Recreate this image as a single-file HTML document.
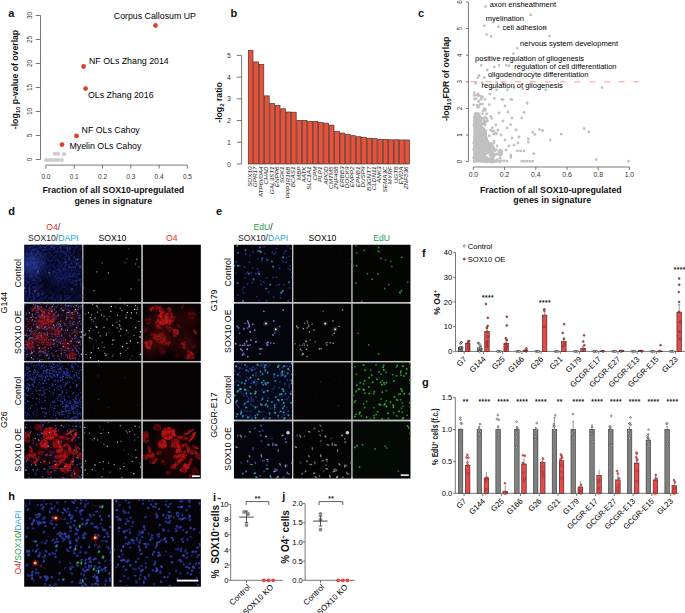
<!DOCTYPE html><html><head><meta charset="utf-8"><style>html,body{margin:0;padding:0;background:#fff;}svg{display:block;}</style></head><body><svg width="685" height="613" viewBox="0 0 685 613" font-family='"Liberation Sans", sans-serif'><defs><filter id="bl1" x="-30%" y="-30%" width="160%" height="160%"><feGaussianBlur stdDeviation="0.9"/></filter><filter id="bl05" x="-30%" y="-30%" width="160%" height="160%"><feGaussianBlur stdDeviation="0.5"/></filter><filter id="bl6" x="-80%" y="-80%" width="260%" height="260%"><feGaussianBlur stdDeviation="6"/></filter><filter id="bl3" x="-80%" y="-80%" width="260%" height="260%"><feGaussianBlur stdDeviation="2"/></filter><filter id="mo1" color-interpolation-filters="sRGB" x="-10%" y="-10%" width="120%" height="120%"><feTurbulence type="fractalNoise" baseFrequency="0.12" numOctaves="2" seed="54" result="dn"/><feDisplacementMap in="SourceGraphic" in2="dn" scale="7" xChannelSelector="R" yChannelSelector="G" result="ds"/><feTurbulence type="fractalNoise" baseFrequency="0.35" numOctaves="2" seed="4" result="n"/><feColorMatrix in="n" type="matrix" values="0 0 0 0 0  0 0 0 0 0  0 0 0 0 0  2.0 0 0 0 -0.3" result="a"/><feComposite in="ds" in2="a" operator="in" result="m"/><feGaussianBlur in="m" stdDeviation="0.6"/></filter><filter id="mo2" color-interpolation-filters="sRGB" x="-10%" y="-10%" width="120%" height="120%"><feTurbulence type="fractalNoise" baseFrequency="0.12" numOctaves="2" seed="54" result="dn"/><feDisplacementMap in="SourceGraphic" in2="dn" scale="7" xChannelSelector="R" yChannelSelector="G" result="ds"/><feTurbulence type="fractalNoise" baseFrequency="0.35" numOctaves="2" seed="4" result="n"/><feColorMatrix in="n" type="matrix" values="0 0 0 0 0  0 0 0 0 0  0 0 0 0 0  2.0 0 0 0 -0.3" result="a"/><feComposite in="ds" in2="a" operator="in" result="m"/><feGaussianBlur in="m" stdDeviation="0.6"/></filter><filter id="mo3" color-interpolation-filters="sRGB" x="-10%" y="-10%" width="120%" height="120%"><feTurbulence type="fractalNoise" baseFrequency="0.12" numOctaves="2" seed="67" result="dn"/><feDisplacementMap in="SourceGraphic" in2="dn" scale="3" xChannelSelector="R" yChannelSelector="G" result="ds"/><feTurbulence type="fractalNoise" baseFrequency="0.3" numOctaves="2" seed="17" result="n"/><feColorMatrix in="n" type="matrix" values="0 0 0 0 0  0 0 0 0 0  0 0 0 0 0  1.8 0 0 0 -0.05" result="a"/><feComposite in="ds" in2="a" operator="in" result="m"/><feGaussianBlur in="m" stdDeviation="0.5"/></filter><filter id="mo4" color-interpolation-filters="sRGB" x="-10%" y="-10%" width="120%" height="120%"><feTurbulence type="fractalNoise" baseFrequency="0.12" numOctaves="2" seed="67" result="dn"/><feDisplacementMap in="SourceGraphic" in2="dn" scale="5" xChannelSelector="R" yChannelSelector="G" result="ds"/><feTurbulence type="fractalNoise" baseFrequency="0.3" numOctaves="2" seed="17" result="n"/><feColorMatrix in="n" type="matrix" values="0 0 0 0 0  0 0 0 0 0  0 0 0 0 0  1.8 0 0 0 -0.05" result="a"/><feComposite in="ds" in2="a" operator="in" result="m"/><feGaussianBlur in="m" stdDeviation="0.5"/></filter><filter id="sp00" color-interpolation-filters="sRGB" x="0" y="0" width="100%" height="100%"><feTurbulence type="fractalNoise" baseFrequency="0.45" numOctaves="1" seed="9" result="n"/><feColorMatrix in="n" type="matrix" values="0 0 0 0 0.12  0 0 0 0 0.16  0 0 0 0 0.5  3.0 0 0 0 -1.1" result="sp"/><feTurbulence type="fractalNoise" baseFrequency="0.05" numOctaves="2" seed="3" result="m"/><feColorMatrix in="m" type="matrix" values="0 0 0 0 0  0 0 0 0 0  0 0 0 0 0  2.0 0 0 0 -0.3" result="ma"/><feComposite in="sp" in2="ma" operator="in"/></filter><filter id="sp10" color-interpolation-filters="sRGB" x="0" y="0" width="100%" height="100%"><feTurbulence type="fractalNoise" baseFrequency="0.5" numOctaves="1" seed="19" result="n"/><feColorMatrix in="n" type="matrix" values="0 0 0 0 0.24  0 0 0 0 0.28  0 0 0 0 0.82  3.0 0 0 0 -1.25" result="sp"/><feTurbulence type="fractalNoise" baseFrequency="0.05" numOctaves="2" seed="5" result="m"/><feColorMatrix in="m" type="matrix" values="0 0 0 0 0  0 0 0 0 0  0 0 0 0 0  2.0 0 0 0 -0.3" result="ma"/><feComposite in="sp" in2="ma" operator="in"/></filter><filter id="sp20" color-interpolation-filters="sRGB" x="0" y="0" width="100%" height="100%"><feTurbulence type="fractalNoise" baseFrequency="0.45" numOctaves="1" seed="29" result="n"/><feColorMatrix in="n" type="matrix" values="0 0 0 0 0.2  0 0 0 0 0.27  0 0 0 0 0.85  3.4 0 0 0 -1.45" result="sp"/><feTurbulence type="fractalNoise" baseFrequency="0.05" numOctaves="2" seed="8" result="m"/><feColorMatrix in="m" type="matrix" values="0 0 0 0 0  0 0 0 0 0  0 0 0 0 0  2.4 0 0 0 -0.45" result="ma"/><feComposite in="sp" in2="ma" operator="in"/></filter><filter id="sp30" color-interpolation-filters="sRGB" x="0" y="0" width="100%" height="100%"><feTurbulence type="fractalNoise" baseFrequency="0.6" numOctaves="1" seed="39" result="n"/><feColorMatrix in="n" type="matrix" values="0 0 0 0 0.2  0 0 0 0 0.24  0 0 0 0 0.7  3.0 0 0 0 -1.6" result="sp"/><feTurbulence type="fractalNoise" baseFrequency="0.05" numOctaves="2" seed="12" result="m"/><feColorMatrix in="m" type="matrix" values="0 0 0 0 0  0 0 0 0 0  0 0 0 0 0  2.0 0 0 0 -0.5" result="ma"/><feComposite in="sp" in2="ma" operator="in"/></filter><clipPath id="cd00"><rect x="24.1" y="244.5" width="58.3" height="57.55"/></clipPath><clipPath id="cd01"><rect x="83.2" y="244.5" width="58.3" height="57.55"/></clipPath><clipPath id="cd02"><rect x="142.6" y="244.5" width="58.3" height="57.55"/></clipPath><clipPath id="cd10"><rect x="24.1" y="303.4" width="58.3" height="57.55"/></clipPath><clipPath id="cd11"><rect x="83.2" y="303.4" width="58.3" height="57.55"/></clipPath><clipPath id="cd12"><rect x="142.6" y="303.4" width="58.3" height="57.55"/></clipPath><clipPath id="cd20"><rect x="24.1" y="362.3" width="58.3" height="57.55"/></clipPath><clipPath id="cd21"><rect x="83.2" y="362.3" width="58.3" height="57.55"/></clipPath><clipPath id="cd22"><rect x="142.6" y="362.3" width="58.3" height="57.55"/></clipPath><clipPath id="cd30"><rect x="24.1" y="421.2" width="58.3" height="57.55"/></clipPath><clipPath id="cd31"><rect x="83.2" y="421.2" width="58.3" height="57.55"/></clipPath><clipPath id="cd32"><rect x="142.6" y="421.2" width="58.3" height="57.55"/></clipPath><g id="o4h" fill="#b01214" opacity="0.32" filter="url(#bl6)"><ellipse cx="20.4" cy="17.26" rx="14" ry="12"/><ellipse cx="17.49" cy="37.41" rx="14" ry="10"/><ellipse cx="43.72" cy="40.28" rx="10" ry="12"/><ellipse cx="46.64" cy="14.39" rx="9" ry="9"/><ellipse cx="5.83" cy="46.04" rx="6" ry="8"/></g><g fill="#e01a1e" filter="url(#mo1)" opacity="0.88" id="o4a"><ellipse cx="11.66" cy="4.6" rx="6" ry="2.5" transform="rotate(-10 11.66 4.6)" opacity="0.85"/><ellipse cx="18.66" cy="8.06" rx="2.5" ry="5.5" transform="rotate(10 18.66 8.06)" opacity="0.85"/><ellipse cx="15.16" cy="14.96" rx="2" ry="5" transform="rotate(0 15.16 14.96)" opacity="0.7"/><ellipse cx="8.16" cy="6.91" rx="2" ry="2" transform="rotate(0 8.16 6.91)" opacity="0.7"/><ellipse cx="23.32" cy="16.11" rx="7" ry="6" transform="rotate(0 23.32 16.11)" opacity="0.95"/><ellipse cx="29.15" cy="11.51" rx="4" ry="3" transform="rotate(0 29.15 11.51)" opacity="0.6"/><ellipse cx="27.4" cy="5.75" rx="3" ry="3" transform="rotate(0 27.4 5.75)" opacity="0.7"/><ellipse cx="16.32" cy="21.87" rx="4" ry="4" transform="rotate(0 16.32 21.87)" opacity="0.6"/><ellipse cx="17.49" cy="34.53" rx="7" ry="5" transform="rotate(0 17.49 34.53)" opacity="0.6"/><ellipse cx="23.32" cy="39.13" rx="6" ry="4" transform="rotate(0 23.32 39.13)" opacity="0.6"/><ellipse cx="11.66" cy="31.65" rx="4" ry="3" transform="rotate(0 11.66 31.65)" opacity="0.5"/><ellipse cx="33.23" cy="29.93" rx="4" ry="3.5" transform="rotate(0 33.23 29.93)" opacity="0.85"/><ellipse cx="5.83" cy="41.44" rx="3.5" ry="5" transform="rotate(0 5.83 41.44)" opacity="0.85"/><ellipse cx="40.81" cy="39.13" rx="2.5" ry="3" transform="rotate(0 40.81 39.13)" opacity="0.6"/><ellipse cx="41.98" cy="44.89" rx="2" ry="3" transform="rotate(0 41.98 44.89)" opacity="0.5"/><ellipse cx="46.64" cy="51.8" rx="4" ry="4" transform="rotate(0 46.64 51.8)" opacity="0.75"/><ellipse cx="49.55" cy="11.51" rx="3" ry="3" transform="rotate(0 49.55 11.51)" opacity="0.35"/><ellipse cx="5.83" cy="17.26" rx="3" ry="4" transform="rotate(0 5.83 17.26)" opacity="0.35"/><ellipse cx="36.15" cy="21.87" rx="2" ry="2" transform="rotate(0 36.15 21.87)" opacity="0.5"/><ellipse cx="51.3" cy="27.62" rx="1.5" ry="1.5" transform="rotate(0 51.3 27.62)" opacity="0.6"/><ellipse cx="38.48" cy="3.45" rx="2" ry="2" transform="rotate(0 38.48 3.45)" opacity="0.5"/><ellipse cx="2.92" cy="25.9" rx="2" ry="3" transform="rotate(0 2.92 25.9)" opacity="0.4"/><ellipse cx="34.98" cy="51.8" rx="3" ry="2" transform="rotate(0 34.98 51.8)" opacity="0.3"/><ellipse cx="20.4" cy="48.92" rx="3" ry="3" transform="rotate(0 20.4 48.92)" opacity="0.3"/><ellipse cx="52.47" cy="43.16" rx="2" ry="3" transform="rotate(0 52.47 43.16)" opacity="0.35"/><ellipse cx="26.23" cy="25.9" rx="3" ry="3" transform="rotate(0 26.23 25.9)" opacity="0.5"/></g><g fill="#d81618" filter="url(#mo3)" opacity="0.95" id="o4b"><ellipse cx="26" cy="12.32" rx="7.26" ry="6.6" transform="rotate(0 26 12.32)" opacity="0.9"/><ellipse cx="20.06" cy="23.02" rx="4.62" ry="5.06" transform="rotate(0 20.06 23.02)" opacity="0.8"/><ellipse cx="32.94" cy="22.16" rx="4.62" ry="4.62" transform="rotate(0 32.94 22.16)" opacity="0.6"/><ellipse cx="2.74" cy="15.25" rx="3.3" ry="5.5" transform="rotate(0 2.74 15.25)" opacity="0.6"/><ellipse cx="14.57" cy="6.33" rx="4.4" ry="3.85" transform="rotate(0 14.57 6.33)" opacity="0.4"/><ellipse cx="46.06" cy="10.93" rx="6.6" ry="1.32" transform="rotate(-30 46.06 10.93)" opacity="0.95"/><ellipse cx="49.55" cy="15.54" rx="6.05" ry="1.87" transform="rotate(-55 49.55 15.54)" opacity="0.95"/><ellipse cx="39.64" cy="16.69" rx="5.5" ry="1.98" transform="rotate(10 39.64 16.69)" opacity="0.7"/><ellipse cx="36.15" cy="29.93" rx="3.3" ry="2.75" transform="rotate(0 36.15 29.93)" opacity="0.85"/><ellipse cx="50.14" cy="31.08" rx="3.3" ry="2.75" transform="rotate(0 50.14 31.08)" opacity="0.75"/><ellipse cx="38.48" cy="36.83" rx="3.85" ry="3.3" transform="rotate(0 38.48 36.83)" opacity="0.75"/><ellipse cx="44.31" cy="44.89" rx="3.85" ry="3.3" transform="rotate(0 44.31 44.89)" opacity="0.85"/><ellipse cx="8.74" cy="33.95" rx="3.85" ry="3.08" transform="rotate(0 8.74 33.95)" opacity="0.75"/><ellipse cx="9.68" cy="40.86" rx="3.3" ry="2.2" transform="rotate(0 9.68 40.86)" opacity="0.5"/><ellipse cx="25.65" cy="51.8" rx="2.75" ry="2.2" transform="rotate(0 25.65 51.8)" opacity="0.4"/><ellipse cx="52.47" cy="49.49" rx="3.3" ry="3.3" transform="rotate(0 52.47 49.49)" opacity="0.35"/><ellipse cx="41.98" cy="33.38" rx="2.2" ry="4.4" transform="rotate(0 41.98 33.38)" opacity="0.6"/><ellipse cx="32.06" cy="14.39" rx="2.2" ry="2.2" transform="rotate(0 32.06 14.39)" opacity="0.5"/><ellipse cx="36.15" cy="25.9" rx="4.4" ry="1.65" transform="rotate(60 36.15 25.9)" opacity="0.8"/><ellipse cx="40.81" cy="24.17" rx="3.85" ry="1.43" transform="rotate(-30 40.81 24.17)" opacity="0.7"/><ellipse cx="45.47" cy="27.62" rx="4.4" ry="1.76" transform="rotate(80 45.47 27.62)" opacity="0.75"/><ellipse cx="52.47" cy="25.9" rx="3.3" ry="1.65" transform="rotate(40 52.47 25.9)" opacity="0.7"/><ellipse cx="34.98" cy="41.44" rx="4.4" ry="1.98" transform="rotate(-50 34.98 41.44)" opacity="0.8"/><ellipse cx="40.81" cy="48.92" rx="3.85" ry="2.2" transform="rotate(20 40.81 48.92)" opacity="0.7"/><ellipse cx="47.81" cy="40.28" rx="3.3" ry="1.76" transform="rotate(-70 47.81 40.28)" opacity="0.7"/><ellipse cx="55.38" cy="34.53" rx="2.75" ry="3.3" transform="rotate(0 55.38 34.53)" opacity="0.6"/><ellipse cx="33.81" cy="35.68" rx="3.3" ry="2.2" transform="rotate(0 33.81 35.68)" opacity="0.7"/><ellipse cx="7" cy="28.77" rx="4.4" ry="1.65" transform="rotate(70 7 28.77)" opacity="0.6"/><ellipse cx="12.83" cy="39.13" rx="3.3" ry="1.65" transform="rotate(-40 12.83 39.13)" opacity="0.55"/><ellipse cx="16.32" cy="31.65" rx="2.75" ry="2.2" transform="rotate(0 16.32 31.65)" opacity="0.5"/><ellipse cx="2.92" cy="35.68" rx="2.75" ry="3.3" transform="rotate(0 2.92 35.68)" opacity="0.55"/><ellipse cx="20.4" cy="41.44" rx="2.75" ry="1.65" transform="rotate(30 20.4 41.44)" opacity="0.5"/><ellipse cx="30.32" cy="46.04" rx="3.3" ry="1.98" transform="rotate(-20 30.32 46.04)" opacity="0.6"/><ellipse cx="49.55" cy="54.67" rx="3.3" ry="2.2" transform="rotate(0 49.55 54.67)" opacity="0.5"/></g><g id="o4hb" fill="#a01012" opacity="0.22" filter="url(#bl6)"><ellipse cx="29" cy="25" rx="20" ry="16"/><ellipse cx="40" cy="45" rx="12" ry="9"/></g><clipPath id="ce00"><rect x="233.8" y="244.5" width="58.3" height="57.55"/></clipPath><clipPath id="ce01"><rect x="293.2" y="244.5" width="58.3" height="57.55"/></clipPath><clipPath id="ce02"><rect x="352.4" y="244.5" width="58.3" height="57.55"/></clipPath><clipPath id="ce10"><rect x="233.8" y="303.4" width="58.3" height="57.55"/></clipPath><clipPath id="ce11"><rect x="293.2" y="303.4" width="58.3" height="57.55"/></clipPath><clipPath id="ce12"><rect x="352.4" y="303.4" width="58.3" height="57.55"/></clipPath><clipPath id="ce20"><rect x="233.8" y="362.3" width="58.3" height="57.55"/></clipPath><clipPath id="ce21"><rect x="293.2" y="362.3" width="58.3" height="57.55"/></clipPath><clipPath id="ce22"><rect x="352.4" y="362.3" width="58.3" height="57.55"/></clipPath><clipPath id="ce30"><rect x="233.8" y="421.2" width="58.3" height="57.55"/></clipPath><clipPath id="ce31"><rect x="293.2" y="421.2" width="58.3" height="57.55"/></clipPath><clipPath id="ce32"><rect x="352.4" y="421.2" width="58.3" height="57.55"/></clipPath><clipPath id="ch1"><rect x="24.2" y="499.2" width="87.4" height="87.5"/></clipPath><clipPath id="ch2"><rect x="113.5" y="499.2" width="87.4" height="87.5"/></clipPath></defs><text x="8.2" y="17" font-size="11" font-weight="bold" fill="#111">a</text><text x="230.6" y="16.8" font-size="11" font-weight="bold" fill="#111">b</text><text x="418" y="16.8" font-size="11" font-weight="bold" fill="#111">c</text><text x="8.2" y="214.5" font-size="11" font-weight="bold" fill="#111">d</text><text x="216" y="214.5" font-size="11" font-weight="bold" fill="#111">e</text><text x="422" y="257.4" font-size="11" font-weight="bold" fill="#111">f</text><text x="422" y="385.5" font-size="11" font-weight="bold" fill="#111">g</text><text x="8.2" y="500.4" font-size="11" font-weight="bold" fill="#111">h</text><text x="213.1" y="500.6" font-size="11" font-weight="bold" fill="#111">i</text><text x="282.2" y="500.3" font-size="11" font-weight="bold" fill="#111">j</text><line x1="40.5" y1="15.5" x2="40.5" y2="159.5" stroke="#555" stroke-width="0.8" /><line x1="35.8" y1="159.5" x2="40.5" y2="159.5" stroke="#555" stroke-width="0.8" /><text transform="translate(32.4,159.5) rotate(-90)" font-size="6.5" text-anchor="middle" fill="#333">0</text><line x1="35.8" y1="135.5" x2="40.5" y2="135.5" stroke="#555" stroke-width="0.8" /><text transform="translate(32.4,135.5) rotate(-90)" font-size="6.5" text-anchor="middle" fill="#333">5</text><line x1="35.8" y1="111.5" x2="40.5" y2="111.5" stroke="#555" stroke-width="0.8" /><text transform="translate(32.4,111.5) rotate(-90)" font-size="6.5" text-anchor="middle" fill="#333">10</text><line x1="35.8" y1="87.5" x2="40.5" y2="87.5" stroke="#555" stroke-width="0.8" /><text transform="translate(32.4,87.5) rotate(-90)" font-size="6.5" text-anchor="middle" fill="#333">15</text><line x1="35.8" y1="63.5" x2="40.5" y2="63.5" stroke="#555" stroke-width="0.8" /><text transform="translate(32.4,63.5) rotate(-90)" font-size="6.5" text-anchor="middle" fill="#333">20</text><line x1="35.8" y1="39.5" x2="40.5" y2="39.5" stroke="#555" stroke-width="0.8" /><text transform="translate(32.4,39.5) rotate(-90)" font-size="6.5" text-anchor="middle" fill="#333">25</text><line x1="35.8" y1="15.5" x2="40.5" y2="15.5" stroke="#555" stroke-width="0.8" /><text transform="translate(32.4,15.5) rotate(-90)" font-size="6.5" text-anchor="middle" fill="#333">30</text><line x1="45.9" y1="165.1" x2="187.4" y2="165.1" stroke="#555" stroke-width="0.8" /><line x1="45.9" y1="165.1" x2="45.9" y2="168.6" stroke="#555" stroke-width="0.8" /><text x="45.9" y="179" font-size="6.5" text-anchor="middle" fill="#333">0.0</text><line x1="74.2" y1="165.1" x2="74.2" y2="168.6" stroke="#555" stroke-width="0.8" /><text x="74.2" y="179" font-size="6.5" text-anchor="middle" fill="#333">0.1</text><line x1="102.5" y1="165.1" x2="102.5" y2="168.6" stroke="#555" stroke-width="0.8" /><text x="102.5" y="179" font-size="6.5" text-anchor="middle" fill="#333">0.2</text><line x1="130.8" y1="165.1" x2="130.8" y2="168.6" stroke="#555" stroke-width="0.8" /><text x="130.8" y="179" font-size="6.5" text-anchor="middle" fill="#333">0.3</text><line x1="159.1" y1="165.1" x2="159.1" y2="168.6" stroke="#555" stroke-width="0.8" /><text x="159.1" y="179" font-size="6.5" text-anchor="middle" fill="#333">0.4</text><line x1="187.4" y1="165.1" x2="187.4" y2="168.6" stroke="#555" stroke-width="0.8" /><text x="187.4" y="179" font-size="6.5" text-anchor="middle" fill="#333">0.5</text><circle cx="46.3" cy="160" r="2.1" fill="#cdcdcd"/><circle cx="49.2" cy="160" r="2.1" fill="#cdcdcd"/><circle cx="52.2" cy="160" r="2.1" fill="#cdcdcd"/><circle cx="55.2" cy="160" r="2.1" fill="#cdcdcd"/><circle cx="58.1" cy="160" r="2.1" fill="#cdcdcd"/><circle cx="61.8" cy="160" r="2.1" fill="#cdcdcd"/><circle cx="54.8" cy="153.8" r="2.1" fill="#cdcdcd"/><circle cx="58.1" cy="153.8" r="2.1" fill="#cdcdcd"/><circle cx="64" cy="154.2" r="2.1" fill="#cdcdcd"/><circle cx="155.5" cy="25.5" r="2.4" fill="#d8432e"/><circle cx="83.6" cy="66.5" r="2.4" fill="#d8432e"/><circle cx="85.6" cy="88.6" r="2.4" fill="#d8432e"/><circle cx="76.5" cy="135.9" r="2.4" fill="#d8432e"/><circle cx="62" cy="144.6" r="2.4" fill="#d8432e"/><text x="113.8" y="18.5" font-size="8.8">Corpus Callosum UP</text><text x="89" y="63.8" font-size="8.8">NF OLs Zhang 2014</text><text x="88" y="98" font-size="8.8">OLs Zhang 2016</text><text x="81.6" y="133.3" font-size="8.8">NF OLs Cahoy</text><text x="69.5" y="149" font-size="8.8">Myelin OLs Cahoy</text><text transform="translate(17.8,79.5) rotate(-90)" font-size="8.7" font-weight="bold" text-anchor="middle" fill="#111">-log<tspan font-size="6" dy="2">10</tspan><tspan dy="-2"> p-value of overlap</tspan></text><text x="113.3" y="193" font-size="8.8" text-anchor="middle" font-weight="bold" fill="#111">Fraction of all SOX10-upregulated</text><text x="113.3" y="203.5" font-size="8.8" text-anchor="middle" font-weight="bold" fill="#111">genes in signature</text><line x1="241.6" y1="55.4" x2="241.6" y2="164" stroke="#555" stroke-width="0.8" /><line x1="236.8" y1="164" x2="241.6" y2="164" stroke="#555" stroke-width="0.8" /><text x="231" y="166.5" font-size="7" text-anchor="end" fill="#333">0</text><line x1="236.8" y1="142.28" x2="241.6" y2="142.28" stroke="#555" stroke-width="0.8" /><text x="231" y="144.78" font-size="7" text-anchor="end" fill="#333">1</text><line x1="236.8" y1="120.56" x2="241.6" y2="120.56" stroke="#555" stroke-width="0.8" /><text x="231" y="123.06" font-size="7" text-anchor="end" fill="#333">2</text><line x1="236.8" y1="98.84" x2="241.6" y2="98.84" stroke="#555" stroke-width="0.8" /><text x="231" y="101.34" font-size="7" text-anchor="end" fill="#333">3</text><line x1="236.8" y1="77.12" x2="241.6" y2="77.12" stroke="#555" stroke-width="0.8" /><text x="231" y="79.62" font-size="7" text-anchor="end" fill="#333">4</text><line x1="236.8" y1="55.4" x2="241.6" y2="55.4" stroke="#555" stroke-width="0.8" /><text x="231" y="57.9" font-size="7" text-anchor="end" fill="#333">5</text><rect x="248.3" y="50.31" width="4.7" height="113.69" fill="#e8523a" stroke="#4a3028" stroke-width="0.7" /><text transform="translate(251.95,166.4) rotate(-90) scale(1.22,1)" font-size="5.2" text-anchor="end" font-style="italic" fill="#1a1a1a">SOX10</text><rect x="253.7" y="61.92" width="4.7" height="102.08" fill="#e8523a" stroke="#4a3028" stroke-width="0.7" /><text transform="translate(257.35,166.4) rotate(-90) scale(1.22,1)" font-size="5.2" text-anchor="end" font-style="italic" fill="#1a1a1a">GPR17</text><rect x="259.09" y="64.5" width="4.7" height="99.5" fill="#e8523a" stroke="#4a3028" stroke-width="0.7" /><text transform="translate(262.74,166.4) rotate(-90) scale(1.22,1)" font-size="5.2" text-anchor="end" font-style="italic" fill="#1a1a1a">ATP6V0A4</text><rect x="264.49" y="95.89" width="4.7" height="68.11" fill="#e8523a" stroke="#4a3028" stroke-width="0.7" /><text transform="translate(268.14,166.4) rotate(-90) scale(1.22,1)" font-size="5.2" text-anchor="end" font-style="italic" fill="#1a1a1a">CHAD</text><rect x="269.89" y="103.63" width="4.7" height="60.37" fill="#e8523a" stroke="#4a3028" stroke-width="0.7" /><text transform="translate(273.54,166.4) rotate(-90) scale(1.22,1)" font-size="5.2" text-anchor="end" font-style="italic" fill="#1a1a1a">GAL3ST1</text><rect x="275.29" y="105.35" width="4.7" height="58.65" fill="#e8523a" stroke="#4a3028" stroke-width="0.7" /><text transform="translate(278.94,166.4) rotate(-90) scale(1.22,1)" font-size="5.2" text-anchor="end" font-style="italic" fill="#1a1a1a">ENPP6</text><rect x="280.68" y="108.79" width="4.7" height="55.21" fill="#e8523a" stroke="#4a3028" stroke-width="0.7" /><text transform="translate(284.33,166.4) rotate(-90) scale(1.22,1)" font-size="5.2" text-anchor="end" font-style="italic" fill="#1a1a1a">SGK1</text><rect x="286.08" y="112.01" width="4.7" height="51.99" fill="#e8523a" stroke="#4a3028" stroke-width="0.7" /><text transform="translate(289.73,166.4) rotate(-90) scale(1.22,1)" font-size="5.2" text-anchor="end" font-style="italic" fill="#1a1a1a">PPP1R16B</text><rect x="291.48" y="112.23" width="4.7" height="51.77" fill="#e8523a" stroke="#4a3028" stroke-width="0.7" /><text transform="translate(295.13,166.4) rotate(-90) scale(1.22,1)" font-size="5.2" text-anchor="end" font-style="italic" fill="#1a1a1a">BCAS1</text><rect x="296.87" y="120.4" width="4.7" height="43.6" fill="#e8523a" stroke="#4a3028" stroke-width="0.7" /><text transform="translate(300.52,166.4) rotate(-90) scale(1.22,1)" font-size="5.2" text-anchor="end" font-style="italic" fill="#1a1a1a">MBP</text><rect x="302.27" y="120.4" width="4.7" height="43.6" fill="#e8523a" stroke="#4a3028" stroke-width="0.7" /><text transform="translate(305.92,166.4) rotate(-90) scale(1.22,1)" font-size="5.2" text-anchor="end" font-style="italic" fill="#1a1a1a">AATK</text><rect x="307.67" y="121.47" width="4.7" height="42.52" fill="#e8523a" stroke="#4a3028" stroke-width="0.7" /><text transform="translate(311.32,166.4) rotate(-90) scale(1.22,1)" font-size="5.2" text-anchor="end" font-style="italic" fill="#1a1a1a">SLC1A1</text><rect x="313.06" y="121.47" width="4.7" height="42.52" fill="#e8523a" stroke="#4a3028" stroke-width="0.7" /><text transform="translate(316.71,166.4) rotate(-90) scale(1.22,1)" font-size="5.2" text-anchor="end" font-style="italic" fill="#1a1a1a">CPM</text><rect x="318.46" y="122.55" width="4.7" height="41.45" fill="#e8523a" stroke="#4a3028" stroke-width="0.7" /><text transform="translate(322.11,166.4) rotate(-90) scale(1.22,1)" font-size="5.2" text-anchor="end" font-style="italic" fill="#1a1a1a">PLP1</text><rect x="323.86" y="123.19" width="4.7" height="40.81" fill="#e8523a" stroke="#4a3028" stroke-width="0.7" /><text transform="translate(327.51,166.4) rotate(-90) scale(1.22,1)" font-size="5.2" text-anchor="end" font-style="italic" fill="#1a1a1a">APOD</text><rect x="329.25" y="125.13" width="4.7" height="38.87" fill="#e8523a" stroke="#4a3028" stroke-width="0.7" /><text transform="translate(332.91,166.4) rotate(-90) scale(1.22,1)" font-size="5.2" text-anchor="end" font-style="italic" fill="#1a1a1a">CMTM5</text><rect x="334.65" y="131.58" width="4.7" height="32.42" fill="#e8523a" stroke="#4a3028" stroke-width="0.7" /><text transform="translate(338.3,166.4) rotate(-90) scale(1.22,1)" font-size="5.2" text-anchor="end" font-style="italic" fill="#1a1a1a">ZNF488</text><rect x="340.05" y="133.09" width="4.7" height="30.92" fill="#e8523a" stroke="#4a3028" stroke-width="0.7" /><text transform="translate(343.7,166.4) rotate(-90) scale(1.22,1)" font-size="5.2" text-anchor="end" font-style="italic" fill="#1a1a1a">ERBB3</text><rect x="345.45" y="134.38" width="4.7" height="29.63" fill="#e8523a" stroke="#4a3028" stroke-width="0.7" /><text transform="translate(349.1,166.4) rotate(-90) scale(1.22,1)" font-size="5.2" text-anchor="end" font-style="italic" fill="#1a1a1a">DOCK9</text><rect x="350.84" y="135.66" width="4.7" height="28.34" fill="#e8523a" stroke="#4a3028" stroke-width="0.7" /><text transform="translate(354.49,166.4) rotate(-90) scale(1.22,1)" font-size="5.2" text-anchor="end" font-style="italic" fill="#1a1a1a">ENPP2</text><rect x="356.24" y="136.74" width="4.7" height="27.26" fill="#e8523a" stroke="#4a3028" stroke-width="0.7" /><text transform="translate(359.89,166.4) rotate(-90) scale(1.22,1)" font-size="5.2" text-anchor="end" font-style="italic" fill="#1a1a1a">EPHB1</text><rect x="361.64" y="137.6" width="4.7" height="26.4" fill="#e8523a" stroke="#4a3028" stroke-width="0.7" /><text transform="translate(365.29,166.4) rotate(-90) scale(1.22,1)" font-size="5.2" text-anchor="end" font-style="italic" fill="#1a1a1a">DUSP9</text><rect x="367.03" y="138.25" width="4.7" height="25.75" fill="#e8523a" stroke="#4a3028" stroke-width="0.7" /><text transform="translate(370.68,166.4) rotate(-90) scale(1.22,1)" font-size="5.2" text-anchor="end" font-style="italic" fill="#1a1a1a">B3GNT7</text><rect x="372.43" y="138.68" width="4.7" height="25.32" fill="#e8523a" stroke="#4a3028" stroke-width="0.7" /><text transform="translate(376.08,166.4) rotate(-90) scale(1.22,1)" font-size="5.2" text-anchor="end" font-style="italic" fill="#1a1a1a">CLDN11</text><rect x="377.83" y="139.32" width="4.7" height="24.68" fill="#e8523a" stroke="#4a3028" stroke-width="0.7" /><text transform="translate(381.48,166.4) rotate(-90) scale(1.22,1)" font-size="5.2" text-anchor="end" font-style="italic" fill="#1a1a1a">ANK3</text><rect x="383.23" y="139.53" width="4.7" height="24.47" fill="#e8523a" stroke="#4a3028" stroke-width="0.7" /><text transform="translate(386.88,166.4) rotate(-90) scale(1.22,1)" font-size="5.2" text-anchor="end" font-style="italic" fill="#1a1a1a">SEMA3C</text><rect x="388.62" y="139.75" width="4.7" height="24.25" fill="#e8523a" stroke="#4a3028" stroke-width="0.7" /><text transform="translate(392.27,166.4) rotate(-90) scale(1.22,1)" font-size="5.2" text-anchor="end" font-style="italic" fill="#1a1a1a">MYRF</text><rect x="394.02" y="139.75" width="4.7" height="24.25" fill="#e8523a" stroke="#4a3028" stroke-width="0.7" /><text transform="translate(397.67,166.4) rotate(-90) scale(1.22,1)" font-size="5.2" text-anchor="end" font-style="italic" fill="#1a1a1a">UGT8</text><rect x="399.42" y="139.97" width="4.7" height="24.04" fill="#e8523a" stroke="#4a3028" stroke-width="0.7" /><text transform="translate(403.07,166.4) rotate(-90) scale(1.22,1)" font-size="5.2" text-anchor="end" font-style="italic" fill="#1a1a1a">EVI2A</text><rect x="404.81" y="139.97" width="4.7" height="24.04" fill="#e8523a" stroke="#4a3028" stroke-width="0.7" /><text transform="translate(408.46,166.4) rotate(-90) scale(1.22,1)" font-size="5.2" text-anchor="end" font-style="italic" fill="#1a1a1a">ZNF536</text><text transform="translate(221.6,102.5) rotate(-90)" font-size="8.7" font-weight="bold" text-anchor="middle" fill="#111">-log<tspan font-size="6" dy="2">2</tspan><tspan dy="-2"> ratio</tspan></text><line x1="468.4" y1="2" x2="468.4" y2="161.6" stroke="#555" stroke-width="0.8" /><line x1="466" y1="161.6" x2="468.4" y2="161.6" stroke="#555" stroke-width="0.8" /><text transform="translate(462.4,161.6) rotate(-90)" font-size="6.3" text-anchor="middle" fill="#333">0</text><line x1="466" y1="135" x2="468.4" y2="135" stroke="#555" stroke-width="0.8" /><text transform="translate(462.4,135) rotate(-90)" font-size="6.3" text-anchor="middle" fill="#333">1</text><line x1="466" y1="108.4" x2="468.4" y2="108.4" stroke="#555" stroke-width="0.8" /><text transform="translate(462.4,108.4) rotate(-90)" font-size="6.3" text-anchor="middle" fill="#333">2</text><line x1="466" y1="81.8" x2="468.4" y2="81.8" stroke="#555" stroke-width="0.8" /><text transform="translate(462.4,81.8) rotate(-90)" font-size="6.3" text-anchor="middle" fill="#333">3</text><line x1="466" y1="55.2" x2="468.4" y2="55.2" stroke="#555" stroke-width="0.8" /><text transform="translate(462.4,55.2) rotate(-90)" font-size="6.3" text-anchor="middle" fill="#333">4</text><line x1="466" y1="28.6" x2="468.4" y2="28.6" stroke="#555" stroke-width="0.8" /><text transform="translate(462.4,28.6) rotate(-90)" font-size="6.3" text-anchor="middle" fill="#333">5</text><line x1="466" y1="2" x2="468.4" y2="2" stroke="#555" stroke-width="0.8" /><text transform="translate(462.4,2) rotate(-90)" font-size="6.3" text-anchor="middle" fill="#333">6</text><line x1="473.4" y1="167" x2="629.4" y2="167" stroke="#555" stroke-width="0.8" /><line x1="473.4" y1="167" x2="473.4" y2="170" stroke="#555" stroke-width="0.8" /><text x="473.4" y="176.6" font-size="6.8" text-anchor="middle" fill="#333">0.0</text><line x1="504.6" y1="167" x2="504.6" y2="170" stroke="#555" stroke-width="0.8" /><text x="504.6" y="176.6" font-size="6.8" text-anchor="middle" fill="#333">0.2</text><line x1="535.8" y1="167" x2="535.8" y2="170" stroke="#555" stroke-width="0.8" /><text x="535.8" y="176.6" font-size="6.8" text-anchor="middle" fill="#333">0.4</text><line x1="567" y1="167" x2="567" y2="170" stroke="#555" stroke-width="0.8" /><text x="567" y="176.6" font-size="6.8" text-anchor="middle" fill="#333">0.6</text><line x1="598.2" y1="167" x2="598.2" y2="170" stroke="#555" stroke-width="0.8" /><text x="598.2" y="176.6" font-size="6.8" text-anchor="middle" fill="#333">0.8</text><line x1="629.4" y1="167" x2="629.4" y2="170" stroke="#555" stroke-width="0.8" /><text x="629.4" y="176.6" font-size="6.8" text-anchor="middle" fill="#333">1.0</text><path d="M473.4 116.5L475 113.5L479 113L481.5 116L482.5 126L485.5 129L487 135L488.5 141L492 143L494.6 147L494.6 162.6L473.4 162.6Z" fill="#bfbfbf"/><path d="M485 150L487.5 152.5L486 155.5L484.5 158.5L488 157.5L491 158.5L490.5 154L491.5 150.5L488.5 151.5Z" fill="#fff"/><path d="M480.34 143.35h0M487.14 141.61h0M484.75 148.12h0M474.81 151.27h0M474.38 149.63h0M475.05 142.01h0M482.43 158.36h0M476.18 144.96h0M486.65 161.04h0M485.6 148.81h0M493.91 141.03h0M491.46 146.43h0M476.6 142.61h0M480.02 158.12h0M477.36 152.91h0M486.89 148.27h0M484.99 141.39h0M474.84 144.57h0M487.75 149.49h0M480.13 153h0M483.03 146.65h0M490.12 155.52h0M478.68 152.75h0M484.52 159.43h0M488.77 146.39h0M493.99 142.62h0M482.3 156.81h0M476.76 150.85h0M474.42 154.83h0M489.5 152.72h0M491.81 146.97h0M488.06 153.2h0M485.66 150.13h0M491.07 160.97h0M483.46 154.74h0M474.86 155.57h0M487.06 162.05h0M490.7 146.32h0M481.62 154.84h0M474.07 150.25h0M477.1 142.6h0M474.83 157.05h0M476.29 145.5h0M481.73 159.35h0M475.28 149.97h0M485.03 159.61h0M490.64 159.18h0M479.39 149.22h0M481.06 159.63h0M493.52 143.35h0M477.27 145.15h0M478.45 150.77h0M485.85 145.83h0M473.69 149.3h0M481.28 152.57h0M493.42 155.33h0M484.32 153.71h0M487.66 141.2h0M492.31 157.32h0M491.79 157.71h0M481.76 148.86h0M475.75 154.08h0M474.89 141.5h0M477.94 143.6h0M480.67 141.17h0M473.6 143.36h0M475.71 148.07h0M474.13 159.41h0M486.37 143.3h0M478.85 147.71h0M481.17 142.73h0M491.26 162.05h0M483.29 150.74h0M475.39 142.27h0M480.73 145.88h0M490.84 143.58h0M474.08 161.11h0M484.59 143.25h0M484.9 140.6h0M484.58 161.72h0M491.56 155.46h0M479.03 148.14h0M477.07 157.14h0M484.68 157.3h0M480.46 144.95h0M490.48 161.87h0M491.33 157.89h0M490.62 156.43h0M478.32 151.49h0M481 140.64h0M474.18 146.2h0M478.99 155.37h0M493.5 149.93h0M493.09 161.93h0M493.46 148.09h0M478.19 145.04h0M477.69 144.54h0M486.58 159.99h0M491.08 150.64h0M487.18 157.75h0M475.36 154.67h0M492.52 157.37h0M489.2 150.61h0M477.31 157.52h0M480.52 157.78h0M493.81 148.79h0M481.95 161.02h0M488.68 143.77h0M476.24 143.36h0M492.42 157.9h0M476.64 158.35h0M493.99 154.59h0M480.89 152.18h0M476.32 140.32h0M493.79 154.42h0M484.55 160.73h0M482.62 159.35h0M490.78 144.69h0M478.84 146.5h0M478.6 153.02h0M478.99 149.3h0M476.33 160.2h0M480.96 150.17h0M485.73 160.08h0M482.35 160.37h0M484.03 151.81h0M484.49 140.42h0M482.75 144.06h0M473.68 157.74h0M477.18 150.51h0M488.68 152.35h0M480.38 151.51h0M485.15 157.41h0M475.81 152.44h0M478.77 146.15h0M489.66 151.27h0M485.28 156.87h0M492.58 149.84h0M486.34 151.22h0M484.25 155.38h0M479.21 132.73h0M479.53 147.84h0M482.27 145.43h0M485.28 122.6h0M480.54 147.9h0M484.02 118.07h0M475.11 129.36h0M474.5 121.9h0M474.51 137.77h0M483.32 146.19h0M475.52 139.5h0M481.79 118.29h0M484.55 148.8h0M476.32 148.24h0M478.54 131.03h0M485.87 143.8h0M475.6 128.97h0M479.99 125.55h0M476.03 124.79h0M482.55 113.72h0M480.47 129.3h0M473.82 125.27h0M481.34 131.95h0M474.4 149.45h0M483.38 148.95h0M474.9 122.83h0M474.09 141.82h0M476.95 117.79h0M478.84 146.72h0M483.76 122.57h0M475.45 147.01h0M480.68 138.92h0M474.71 115.13h0M482.13 128.74h0M474.5 147.72h0M481.47 142.66h0M474.64 144.68h0M474.43 144.92h0M479.23 125.55h0M480.46 147.29h0M476.92 117.78h0M480.13 121.82h0M474.96 118.97h0M474.22 120.47h0M477.47 124.29h0M483.02 123.73h0M479.8 119.58h0M477.9 113.67h0M476.71 113.57h0M482.69 133.39h0M475.95 130.57h0M485.19 116.93h0M483.75 128.99h0M479.74 143.88h0M478.47 131.75h0M482.13 149.35h0M477.85 143.79h0M482.36 136.53h0M478.62 125.86h0M474.27 117.8h0M474.48 140.41h0M476.77 119.04h0M474.65 144.13h0M484.39 137.81h0M477.1 121.96h0M477.23 130h0M475.55 129.5h0M476.86 148.59h0M485.66 133.24h0M476.63 148.73h0M478.99 101.27h0M480.24 104.34h0M477.1 105.12h0M478.2 94.33h0M474.33 92.58h0M477.65 107.23h0M485.48 110.03h0M474.14 95.46h0M475.43 113.73h0M477.99 93.94h0M484.34 108.71h0M476.17 98.6h0M478.9 106.76h0M474.66 98.99h0M485.64 109.57h0M482.59 104.08h0M475.66 115.24h0M490.62 116.34h0M481.42 98.99h0M475.91 113.33h0M489.22 104.64h0M473.66 104.78h0M478.85 95.66h0M479.1 113.85h0M486.66 113.82h0M478.64 101.68h0M481.05 99.15h0M475.37 113.7h0M482.49 96.94h0M483.16 110.71h0M484.81 99.44h0M478.83 106.49h0M484.68 123.17h0M496.5 133.91h0M496.5 149.89h0M484.23 124.16h0M487.47 120.92h0M493.99 131.21h0M490.39 130.06h0M495.81 124.91h0M485.98 130.79h0M496.33 133.14h0M485.98 121.49h0M489.32 135.65h0M492.33 127.72h0M483.79 120.25h0M491.33 130.42h0M491.62 118.33h0M496.14 133.21h0M486.92 118.7h0M492.79 131.44h0M492.68 147.61h0M482.55 128.82h0M493.83 134.16h0M486.72 148.46h0M485 125.15h0M499.32 161.39h0M495.17 154.72h0M495.7 161.69h0M495.14 150.62h0M494.48 154.72h0M501.19 160.6h0M499.86 161.97h0M501.45 153.95h0M495.48 161.23h0M499.97 150.38h0M499.32 154.54h0M496.99 153.98h0M495.35 150.03h0M496.24 154.22h0M501.64 151.48h0M501.71 152.49h0M496.85 159.86h0M500.58 155.19h0M494.39 155.68h0M496.98 161.03h0M495.54 154.37h0M501.18 150.36h0M497.29 159.74h0M500.13 150.49h0M494.28 150.75h0M485.5 6.6h0M530.8 14.9h0M484.4 25.8h0M498.7 26.7h0M545.1 28h0M486.6 34.6h0M491 36.3h0M549.5 36.1h0M517.3 48.2h0M513.5 53.6h0M481.1 65.3h0M494.3 66.8h0M499.1 65.3h0M506.3 65.3h0M509.2 65.7h0M487.3 70h0M479 75.5h0M477.9 77.7h0M484.4 77.7h0M475.7 83.2h0M482.2 82.8h0M496.5 82.1h0M503 83.2h0M492.1 87.6h0M496.5 89.8h0M507.4 89.8h0M514 87.6h0M522.7 88.7h0M545.7 89.8h0M602 87.6h0M476.8 95.2h0M481.1 96.3h0M489.9 94.2h0M494.3 98.5h0M503 99.6h0M511.8 99.6h0M527.1 102.9h0M510.8 99.4h0M502 99.4h0M527.2 103.4h0M524 112.5h0M521.7 118h0M510.8 124.6h0M499 113h0M503 121h0M532.7 132.3h0M534.9 134.4h0M539.3 129.6h0M542.5 130.5h0M550.2 140h0M561.2 134h0M584.2 128.5h0M589 131.8h0M528.3 138.8h0M528.3 142h0M517.4 150.9h0M524 150.9h0M520.6 150.9h0M533.8 153.7h0M510.8 155h0M510.8 157.4h0M521.7 161.2h0M524.4 161.2h0M527.1 161.2h0M529.9 161.2h0M532.7 161.2h0M596.2 159.6h0M628.4 161.2h0M498 130h0M501 135h0M505 140h0M507 128h0M512 138h0M514 145h0M506 150h0M500 158h0M504 161h0M507 161.2h0M516 130h0M519 137h0M508 112h0M512 118h0M505 106h0M518 143h0M497 146h0M499 152h0M509 146h0" stroke="#c0c0c0" stroke-width="2.8" stroke-linecap="round" fill="none"/><line x1="470.8" y1="81.8" x2="639" y2="81.8" stroke="#f2a08e" stroke-width="1" stroke-dasharray="6 8.8"/><text x="489.8" y="7" font-size="7.55">axon ensheathment</text><text x="485.8" y="21.4" font-size="7.55">myelination</text><text x="502.6" y="30.3" font-size="7.55">cell adhesion</text><text x="520" y="45.5" font-size="7.55">nervous system development</text><text x="475" y="60.7" font-size="7.55">positive regulation of gliogenesis</text><text x="514.3" y="68.5" font-size="7.55">regulation of cell differentiation</text><text x="487.9" y="77.2" font-size="7.55">oligodendrocyte differentiation</text><text x="481.5" y="88.4" font-size="7.55">regulation of gliogenesis</text><text transform="translate(449.4,78.9) rotate(-90)" font-size="8.7" font-weight="bold" text-anchor="middle" fill="#111">-log<tspan font-size="6" dy="2">10</tspan><tspan dy="-2">FDR of overlap</tspan></text><text x="550.8" y="192.6" font-size="8.8" text-anchor="middle" font-weight="bold" fill="#111">Fraction of all SOX10-upregulated</text><text x="552.2" y="203" font-size="8.8" text-anchor="middle" font-weight="bold" fill="#111">genes in signature</text><rect x="25.1" y="245.5" width="174.8" height="232.1" fill="#c4c4c4" /><rect x="234.8" y="245.5" width="174.9" height="232.1" fill="#c4c4c4" /><g clip-path="url(#cd00)"><rect x="24.1" y="244.5" width="58.3" height="57.55" fill="#05061a" /><rect x="24.1" y="244.5" width="58.3" height="57.55" filter="url(#sp00)"/><ellipse cx="31.1" cy="263.5" rx="13" ry="12" fill="#2e44b0" opacity="0.6" filter="url(#bl6)"/><ellipse cx="60.1" cy="274.5" rx="9" ry="7" fill="#1c2c88" opacity="0.45" filter="url(#bl6)"/><circle cx="77.74" cy="259.29" r="0.7" fill="#808094"/><circle cx="76.49" cy="264.01" r="0.7" fill="#535367"/><circle cx="79.93" cy="280.01" r="0.7" fill="#525266"/><circle cx="65.88" cy="262.71" r="0.7" fill="#535367"/><circle cx="24.32" cy="287.99" r="0.7" fill="#9191a5"/><circle cx="61.06" cy="298.78" r="0.7" fill="#3b3b4f"/><circle cx="37.73" cy="271.85" r="0.7" fill="#9494a8"/><circle cx="79.71" cy="266.74" r="0.7" fill="#515165"/><circle cx="49.17" cy="272.9" r="0.7" fill="#9292a6"/><circle cx="34.77" cy="290.69" r="0.7" fill="#7f7f93"/><circle cx="72.07" cy="288.98" r="0.7" fill="#737387"/><circle cx="43.21" cy="262.89" r="0.7" fill="#5b5b6f"/><circle cx="69.71" cy="249.05" r="0.7" fill="#4c4c60"/><circle cx="67.99" cy="258.73" r="0.7" fill="#3f3f53"/></g><g clip-path="url(#cd01)"><rect x="83.2" y="244.5" width="58.3" height="57.55" fill="#030303" /><circle cx="136.84" cy="259.29" r="0.7" fill="#9a9a9a"/><circle cx="135.59" cy="264.01" r="0.7" fill="#646464"/><circle cx="139.03" cy="280.01" r="0.7" fill="#626262"/><circle cx="124.98" cy="262.71" r="0.7" fill="#646464"/><circle cx="83.42" cy="287.99" r="0.7" fill="#aeaeae"/><circle cx="120.16" cy="298.78" r="0.7" fill="#474747"/><circle cx="96.83" cy="271.85" r="0.7" fill="#b2b2b2"/><circle cx="138.81" cy="266.74" r="0.7" fill="#616161"/><circle cx="108.27" cy="272.9" r="0.7" fill="#afafaf"/><circle cx="93.87" cy="290.69" r="0.7" fill="#999999"/><circle cx="131.17" cy="288.98" r="0.7" fill="#8a8a8a"/><circle cx="102.31" cy="262.89" r="0.7" fill="#6e6e6e"/><circle cx="128.81" cy="249.05" r="0.7" fill="#5b5b5b"/><circle cx="127.09" cy="258.73" r="0.7" fill="#4c4c4c"/></g><g clip-path="url(#cd02)"><rect x="142.6" y="244.5" width="58.3" height="57.55" fill="#040203" /></g><g clip-path="url(#cd10)"><rect x="24.1" y="303.4" width="58.3" height="57.55" fill="#06040c" /><path d="M70.22 343.31h0M59.3 326.69h0M49.17 336.43h0M67.77 327.64h0M63.72 340.32h0M47.96 342.26h0M57.6 334.54h0M81.49 323.86h0M69.38 349.99h0M71.68 330.34h0M52.06 328.06h0M33 355.43h0M39.52 316.88h0M27.51 330.28h0M73.12 330.33h0M56.9 341.69h0M61.19 305.04h0M81.33 332.79h0M47.64 332.39h0M39.94 332.54h0M80.94 341.07h0M58.29 339.93h0M41.61 303.76h0M36.49 341.79h0M30.01 313.83h0M39.14 320.78h0M49.21 340.33h0M78.54 306.54h0M30.05 340.49h0M24.76 304.25h0M62.04 350.44h0M28.75 321.3h0M27.59 324.55h0M80.88 343.87h0M76.34 349.87h0M40.62 303.5h0M40.07 352.39h0M71.15 342.8h0M63.61 330.18h0M36.14 318.06h0M37.68 336.76h0M54.52 330.83h0M54.25 311.98h0M81.84 353.24h0M27.84 337.82h0M47.27 310.3h0M32.54 346.85h0M42.98 318.19h0M32.42 316.16h0M39.91 351.72h0M76.75 309.97h0M25.03 349.84h0M49.48 355.88h0M32.15 313.77h0M65.36 350.11h0M27.93 345.57h0M72.58 324.53h0M54.16 310.35h0M65.56 325.35h0M74.98 358.31h0M52.95 332.94h0M71.74 305.13h0M59.04 336.58h0M31.27 331.81h0M57.5 346.37h0M78.76 325.77h0M77.31 350.31h0M78.57 317.75h0M32.23 359.21h0M69.37 357.32h0M77.99 339.15h0M40.86 320.98h0M61.85 310.33h0M54.05 318.85h0M51.29 334.12h0M58.25 304.08h0M44.66 353h0M49.75 306.97h0M46.71 328.72h0M66.97 309.69h0M58.25 332.05h0M73.63 332.15h0M69.19 334.39h0M54.72 309.1h0M52.48 328.73h0M30.54 354.88h0M26.57 327.08h0M64.37 303.63h0M56.35 318.71h0M30.32 309.16h0M46.58 306.55h0M75.13 331.28h0M38.38 314.4h0M33.38 323.71h0M79.54 332.45h0M69.09 325.55h0M53.27 320.49h0M47.62 355.71h0M74.31 311.01h0M34.69 310.03h0M26.43 312.72h0M42.23 340.14h0M34.57 351.71h0M57.34 344.64h0" stroke="#2c3ca8" stroke-width="1.25" stroke-linecap="round" fill="none"/><path d="M67.3 355.66h0M75.41 347.95h0M65.68 339.63h0M65.92 332.88h0M79.37 315.49h0M68.57 310.44h0M48.5 327.6h0M39.56 316.32h0M67.33 357.49h0M36.46 310.84h0M61.08 330.4h0M41.26 334.95h0M44.78 352.36h0M39.69 325.05h0M66.18 319.58h0M38.38 320.77h0M73.91 306.68h0M72.57 339.84h0M24.97 304.06h0M32.42 316.85h0M69.65 341.87h0M76.22 348.75h0M75.56 335.34h0M74.41 303.78h0M28.5 340.06h0M52.36 355.05h0M56.4 350.98h0M59.76 338.89h0M69.96 335.75h0M48.69 321.73h0M31.03 350.03h0M46.67 337.47h0M51.82 327.13h0M74.79 310.82h0M35.03 306.29h0M73.98 345.4h0M80.32 344.68h0M57.62 328.65h0M48.47 325.6h0M72.34 322.51h0M59.42 359.65h0M72.56 338h0M42.09 328.06h0M75.84 305.83h0M72.68 350.12h0M67.84 357.02h0M58.46 314.29h0M35.31 313.8h0M44.21 333.29h0M34.64 308.21h0M76.84 351.58h0M78.87 342.35h0M41.52 337.44h0M31.34 331.1h0M50.17 308.98h0M27.41 344.47h0M56.36 311.73h0M74.86 318.73h0M43.6 313.06h0M81.15 306.67h0M35.85 324.36h0M40.97 354.98h0M35.57 307.96h0M74.5 331.77h0M25 355.78h0M33.63 324.76h0M74.56 321.87h0M25.31 359.08h0M29.72 343.63h0M30.1 353.44h0M31.21 326.75h0M48.61 351.73h0M61.02 349.97h0M39.59 342.44h0M31.76 320.3h0M47.8 319.99h0M62.02 314.98h0M52.75 319.79h0M37.23 358.61h0M54.29 345.92h0M65.41 356.04h0M46.23 329.43h0M41.18 325.88h0M49.99 314h0M41.83 311.74h0M79.36 342.33h0M45.93 326.47h0M60.51 360.73h0M44.11 333.91h0M82.04 340.03h0M41.85 351.87h0M48.07 310.39h0M33.24 347.11h0M42.92 344.57h0M76.5 350.35h0M41.8 338.08h0M79.47 317.38h0M46.83 344.75h0M37.01 321.19h0M27.92 310.5h0M40.63 317.05h0M66.22 325.09h0M31.73 344.06h0M29.12 313.59h0M27.94 321.31h0M65.88 319.65h0M69.28 354.2h0M44.59 327.14h0M77.31 345.64h0M65.64 305.73h0M35.65 320.84h0M24.16 351.41h0" stroke="#3646b8" stroke-width="1.25" stroke-linecap="round" fill="none"/><path d="M26.08 326.36h0M37.43 344.96h0M64.91 352.46h0M38.68 327.78h0M78.33 313.94h0M80.92 305.6h0M47.4 304.17h0M70.83 325.96h0M56.87 316.41h0M80.29 323.72h0M31.4 351.38h0M72.37 355.53h0M69.81 311.48h0M69.36 323.34h0M32.22 331.78h0M32.52 331.68h0M73.1 324.98h0M48.52 358.68h0M59.64 342.68h0M26.08 344.73h0M69.02 315.53h0M49.47 327.71h0M69.82 305.7h0M55.9 306.26h0M58.86 342.59h0M50.79 347.29h0M26.26 347.97h0M45.61 350.74h0M57.64 356.27h0M50.13 304.21h0M36.48 312.13h0M63.96 310.4h0M25.14 344.8h0M38.22 345.62h0M69.23 344.46h0M65.45 329.91h0M78.46 318.02h0M69.94 357.78h0M74.66 336.31h0M37.74 338.33h0M71.12 347.84h0M57.01 326.56h0M60.99 348.71h0M39.35 348.24h0M80.03 318.2h0M79.86 341.94h0M26.35 318.12h0M26.84 348.66h0M65.47 340.62h0M32.45 342.4h0M78.55 353.28h0M51.94 339.55h0M52.73 321.7h0M36.41 330.88h0M58.78 303.67h0M67.9 306.92h0M30.09 317.81h0M53.29 319.49h0M32.08 337.46h0M74.3 311.87h0M33.68 350.94h0M54.74 326.17h0M43.64 328.47h0M54.26 358.52h0M48.71 339.81h0M28.14 328.32h0M75.66 354.31h0M26.1 340.32h0M32.75 310.53h0M55.95 351.73h0M56.05 338.67h0M38.22 316.15h0M38.01 335.44h0M80.23 336.32h0M48.46 348.5h0M50.8 345.01h0M57.65 336.87h0M42.98 351.94h0M26.87 335.91h0M53.09 356.36h0M82.3 333.18h0M58.77 323.61h0M71.67 313.23h0M72.26 332.9h0M81.83 354.51h0M48.64 312.4h0M61.81 333.99h0M82.23 336.46h0M34.04 333.47h0M72.09 338.68h0M71.12 306.97h0M44.73 313.15h0M44.44 329.29h0M76.02 336.93h0M80.05 328.7h0M73.93 321.52h0M80.07 331.92h0M46.58 326.6h0M26.14 341.63h0M44 312.37h0M65.25 308.73h0M72.86 349.72h0M39.3 355.17h0M38.46 338.4h0M31.26 332.92h0M42.22 325.84h0M73.71 321.88h0M62.74 309.67h0M37.3 310.66h0M38.58 352.13h0M64 323.49h0" stroke="#4252c4" stroke-width="1.25" stroke-linecap="round" fill="none"/><path d="M50.56 321.41h0M60.73 309.03h0M62.26 348.18h0M46.76 331.59h0M69.68 357.53h0M61.37 351.11h0M64 325.99h0M61.34 350.52h0M38.88 327.92h0M34.94 303.56h0M45.23 356.85h0M76.05 338.41h0M64.49 333.95h0M67.35 328.64h0M53.14 334.45h0M78.41 322.42h0M60.55 322.89h0M74.34 324.47h0M70.27 322.44h0M42.59 320.62h0M35.17 356.43h0M59.59 341.27h0M70.1 355.76h0M57.19 305.67h0M80.44 308.47h0M74.29 331.39h0M63.56 311.74h0M70.59 324.31h0M61.7 339.64h0M75.88 325.08h0M64.03 338.03h0M39.44 327.71h0M58.3 350.36h0M70.59 314.93h0M50.9 308.45h0M76.39 354.34h0M64.97 324.28h0M26.7 360.79h0M25.3 305.33h0M68.83 350.52h0M80.27 318.02h0M27.07 335.48h0M81.92 316.16h0M44.62 355.35h0M68.29 309.47h0M78.18 316.09h0M60.73 329.43h0M43.91 350.77h0M40.79 318.24h0M78.03 309.01h0M36.82 336.28h0M69.02 344.35h0M47.89 344.93h0M27.33 350.05h0M39.62 314.11h0M65.76 350.39h0M37.14 313.9h0M35.47 304.42h0M81.31 349.69h0M40.04 334.61h0M49.38 358.12h0M58.75 358.42h0M59.66 336.21h0M53.98 325.45h0M81.67 320.41h0M27.99 353.54h0M63.47 338.87h0M73.65 350.66h0M67.43 347.12h0M51.81 348.57h0M29.23 356.36h0M36.01 327.94h0M77.19 304.02h0M46.81 323.99h0M56.83 336.44h0M42.64 359.71h0M58.28 341.85h0M76.79 336.91h0M60.26 317.75h0M70.32 317.41h0M34.21 324.03h0M34.98 359.31h0M41.05 335.72h0M36.49 353.61h0M55.73 318.96h0M62.43 336.07h0M40.22 305.1h0M63.72 341.59h0" stroke="#24308e" stroke-width="1.25" stroke-linecap="round" fill="none"/><path d="M53.28 339.79h0M51.11 311.56h0M48.56 348.43h0M50.64 339.17h0M55.78 312.66h0M54.37 309.22h0M54.51 327.02h0M27.4 319.19h0M64.81 323.66h0M54.83 316h0M61.25 341.34h0M79.59 341.15h0M38.68 309.24h0M70.25 313.06h0M73 314.76h0M51.77 333.64h0M41.18 351.04h0M66.23 354.37h0M60.64 343.48h0M77.39 341.14h0M78.77 359.84h0M25.01 303.68h0M29.01 339.58h0M66.63 312.95h0M69.84 336.02h0M41.15 306.89h0M77.37 323.36h0M29.06 335.26h0M67.89 348.96h0M45.91 309.51h0M33.2 337.77h0M52.45 336.04h0M48.93 357.87h0M26.31 314.97h0M74.86 329.77h0M79.32 355.77h0M57.01 340.27h0M47.02 329.2h0M33.41 358.98h0M81.55 306.61h0M33.93 317.12h0M24.84 344.68h0M35.47 305.47h0M75.91 311.44h0M78.25 351.87h0M48.11 312.36h0M76.28 341.86h0M81.88 360.84h0M27.45 345.21h0M41.21 359.72h0M43.97 311.47h0M24.21 351.3h0M54.8 314.09h0M29.2 338.42h0M52.99 319.16h0M36.11 338.65h0M58.08 315.04h0M43.64 351.85h0M51.89 353.58h0M54.41 329.05h0M55.03 334.32h0M54.59 343.84h0M65.91 306h0M78.98 348.11h0M43.84 317.23h0M73.52 306.48h0M45.35 333.95h0M53.53 304.6h0M38.71 333.34h0M38.29 308.46h0M65.51 329.92h0M51.44 321.27h0M69.12 312.53h0M67.16 312.29h0M43.75 323.68h0M31.52 353.52h0M24.35 347.46h0M74.98 338.35h0M56.48 325.53h0M42.87 348.7h0M72.96 358.58h0M54.26 342.83h0M75.39 358.91h0M64.32 350.62h0M41 332.84h0M53.53 314.23h0M34.73 339.66h0M59.26 323.73h0M70.02 321.05h0M35.56 332.05h0M24.83 347.75h0M39.64 309.12h0M26.66 356.97h0M30.8 334.12h0M72.25 323.61h0M39.82 351.45h0M31.55 328.91h0M79.97 315.37h0M37.35 329.45h0M58.35 324.58h0M56.86 324.2h0M62.52 343.64h0M44.63 339.59h0M46.3 305.66h0M38.95 328.43h0" stroke="#5a64c8" stroke-width="1.25" stroke-linecap="round" fill="none"/><g opacity="0.8"><use href="#o4h" transform="translate(24.1,303.4)"/><use href="#o4a" transform="translate(24.1,303.4)"/></g><circle cx="26.07" cy="335.2" r="0.7" fill="#5e5e72"/><circle cx="81.25" cy="354.24" r="0.7" fill="#bdbdd1"/><circle cx="39.54" cy="308.24" r="0.7" fill="#3d3d51"/><circle cx="53.16" cy="344.25" r="0.7" fill="#6f6f83"/><circle cx="37.75" cy="327.39" r="0.7" fill="#88889c"/><circle cx="63.4" cy="346.45" r="0.7" fill="#a9a9bd"/><circle cx="62.84" cy="310.37" r="0.7" fill="#a8a8bc"/><circle cx="41.23" cy="336.02" r="0.7" fill="#656579"/><circle cx="67.13" cy="314.86" r="0.7" fill="#535367"/><circle cx="38.4" cy="312.22" r="0.7" fill="#aeaec2"/><circle cx="57.81" cy="322.18" r="0.7" fill="#68687c"/><circle cx="81.96" cy="332.6" r="0.7" fill="#515165"/><circle cx="71.23" cy="341" r="0.7" fill="#bdbdd1"/><circle cx="30.07" cy="330.72" r="0.7" fill="#a5a5b9"/><circle cx="73.1" cy="356.02" r="0.7" fill="#353549"/><circle cx="41.22" cy="310.26" r="0.7" fill="#4b4b5f"/><circle cx="80.82" cy="336.96" r="0.7" fill="#b5b5c9"/><circle cx="45.8" cy="353.25" r="0.7" fill="#707084"/><circle cx="39.25" cy="348.16" r="0.7" fill="#b7b7cb"/><circle cx="30.27" cy="337.71" r="0.7" fill="#88889c"/><circle cx="36.79" cy="324.62" r="0.7" fill="#444458"/><circle cx="35.99" cy="318.07" r="0.7" fill="#858599"/><circle cx="62.09" cy="315.11" r="0.7" fill="#313145"/><circle cx="43.18" cy="342.44" r="0.7" fill="#4a4a5e"/><circle cx="42.3" cy="315.11" r="0.7" fill="#a1a1b5"/><circle cx="56.05" cy="307.04" r="0.7" fill="#3e3e52"/><circle cx="47.15" cy="335.06" r="0.7" fill="#8b8b9f"/><circle cx="29.41" cy="312.82" r="0.7" fill="#9393a7"/><circle cx="47.99" cy="319.7" r="0.7" fill="#5b5b6f"/><circle cx="79.67" cy="321.38" r="0.7" fill="#818195"/><circle cx="44.92" cy="327.37" r="0.7" fill="#ababbf"/><circle cx="82.2" cy="324.34" r="0.7" fill="#4c4c60"/><circle cx="66.54" cy="315.12" r="0.7" fill="#303044"/><circle cx="76.67" cy="327.79" r="0.7" fill="#a5a5b9"/><circle cx="47.78" cy="354.21" r="0.7" fill="#717185"/><circle cx="33.58" cy="304.25" r="0.7" fill="#7e7e92"/><circle cx="61.45" cy="355.76" r="0.7" fill="#3c3c50"/><circle cx="60.37" cy="324.74" r="0.7" fill="#78788c"/><circle cx="32.61" cy="319.7" r="0.7" fill="#7a7a8e"/><circle cx="78.06" cy="309.66" r="0.7" fill="#76768a"/><circle cx="71.02" cy="359.04" r="0.7" fill="#4c4c60"/><circle cx="31.48" cy="357.67" r="0.7" fill="#bbbbcf"/><circle cx="52.24" cy="306.47" r="0.7" fill="#b4b4c8"/><circle cx="46.71" cy="355.44" r="0.7" fill="#88889c"/><circle cx="72.17" cy="312.62" r="0.7" fill="#a0a0b4"/><circle cx="37.05" cy="326.68" r="0.7" fill="#a9a9bd"/><circle cx="72.44" cy="313.93" r="0.7" fill="#4f4f63"/><circle cx="47.41" cy="333.2" r="0.7" fill="#66667a"/><circle cx="31.27" cy="317.62" r="0.7" fill="#9797ab"/><circle cx="76.41" cy="305.77" r="0.7" fill="#808094"/><circle cx="68.26" cy="305.59" r="0.7" fill="#a8a8bc"/><circle cx="30.96" cy="337.9" r="0.7" fill="#7e7e92"/><circle cx="60.66" cy="321.02" r="0.7" fill="#6c6c80"/><circle cx="58.07" cy="327.9" r="0.7" fill="#8e8ea2"/><circle cx="50.15" cy="328.63" r="0.7" fill="#333347"/><circle cx="60.18" cy="331.57" r="0.7" fill="#515165"/><circle cx="68.62" cy="348.29" r="0.7" fill="#717185"/><circle cx="34.57" cy="330.63" r="0.7" fill="#3f3f53"/><circle cx="31.59" cy="328.18" r="0.7" fill="#3c3c50"/><circle cx="49.87" cy="332.76" r="0.7" fill="#353549"/><circle cx="61.2" cy="308.13" r="0.7" fill="#9999ad"/><circle cx="69.44" cy="332.84" r="0.7" fill="#37374b"/><circle cx="53.48" cy="325.15" r="0.7" fill="#b8b8cc"/><circle cx="32.04" cy="352.72" r="0.7" fill="#bebed2"/><circle cx="66.78" cy="350.3" r="0.7" fill="#4b4b5f"/><circle cx="81.33" cy="331.71" r="0.7" fill="#b9b9cd"/><circle cx="77.51" cy="312.9" r="0.7" fill="#a0a0b4"/><circle cx="78.35" cy="307.17" r="0.7" fill="#626276"/><circle cx="68.19" cy="312.54" r="0.7" fill="#b0b0c4"/><circle cx="40.13" cy="350.34" r="0.7" fill="#444458"/><circle cx="53.38" cy="356.34" r="0.7" fill="#4d4d61"/><circle cx="39.43" cy="332.52" r="0.7" fill="#5d5d71"/><circle cx="26.25" cy="313.88" r="0.7" fill="#46465a"/><circle cx="78.69" cy="342.52" r="0.7" fill="#b0b0c4"/><circle cx="33.94" cy="348.57" r="0.7" fill="#404054"/><circle cx="55.04" cy="340.02" r="0.7" fill="#636377"/><circle cx="74.99" cy="335.35" r="0.7" fill="#838397"/><circle cx="75.55" cy="309.42" r="0.7" fill="#bebed2"/><circle cx="60.82" cy="326.09" r="0.7" fill="#a2a2b6"/><circle cx="39.54" cy="360.4" r="0.7" fill="#828296"/><circle cx="45.1" cy="347.4" r="0.7" fill="#6f6f83"/><circle cx="34.4" cy="346.19" r="0.7" fill="#36364a"/><circle cx="71.9" cy="318" r="0.7" fill="#8b8b9f"/><circle cx="81.47" cy="337.12" r="0.7" fill="#8f8fa3"/><circle cx="42.33" cy="303.5" r="0.7" fill="#343448"/><circle cx="32.81" cy="338.85" r="0.7" fill="#6d6d81"/><circle cx="53.99" cy="354.94" r="0.7" fill="#424256"/><circle cx="37.35" cy="340.99" r="0.7" fill="#333347"/><circle cx="24.25" cy="323.83" r="0.7" fill="#3f3f53"/><circle cx="44.92" cy="316.31" r="0.7" fill="#838397"/><circle cx="58.44" cy="315.15" r="0.7" fill="#89899d"/><circle cx="51.79" cy="311.15" r="0.7" fill="#b6b6ca"/><circle cx="38.3" cy="311.99" r="0.7" fill="#3d3d51"/><circle cx="61.31" cy="353.54" r="0.7" fill="#a0a0b4"/><circle cx="47.53" cy="318.61" r="0.7" fill="#313145"/><circle cx="61.7" cy="335.76" r="0.7" fill="#626276"/><circle cx="61.74" cy="328.94" r="0.7" fill="#b6b6ca"/><circle cx="66.86" cy="317.7" r="0.7" fill="#b1b1c5"/><circle cx="26.67" cy="333.99" r="0.7" fill="#6a6a7e"/><circle cx="37.96" cy="306.76" r="0.7" fill="#9f9fb3"/><circle cx="24.82" cy="335.11" r="0.7" fill="#b6b6ca"/><circle cx="32.39" cy="314.88" r="0.7" fill="#87879b"/><circle cx="53.66" cy="340.32" r="0.7" fill="#a4a4b8"/><circle cx="34.28" cy="321.2" r="0.7" fill="#5a5a6e"/><circle cx="26.93" cy="354.58" r="0.7" fill="#a0a0b4"/><circle cx="65.81" cy="303.77" r="0.7" fill="#a8a8bc"/><circle cx="67.54" cy="330.18" r="0.7" fill="#9a9aae"/><circle cx="50.48" cy="316.4" r="0.7" fill="#3e3e52"/><circle cx="37.64" cy="305.63" r="0.7" fill="#5f5f73"/><circle cx="67.8" cy="343.4" r="0.7" fill="#a9a9bd"/></g><g clip-path="url(#cd11)"><rect x="83.2" y="303.4" width="58.3" height="57.55" fill="#030303" /><circle cx="85.17" cy="335.2" r="0.7" fill="#717171"/><circle cx="140.35" cy="354.24" r="0.7" fill="#e3e3e3"/><circle cx="98.64" cy="308.24" r="0.7" fill="#494949"/><circle cx="112.26" cy="344.25" r="0.7" fill="#868686"/><circle cx="96.85" cy="327.39" r="0.7" fill="#a4a4a4"/><circle cx="122.5" cy="346.45" r="0.7" fill="#cbcbcb"/><circle cx="121.94" cy="310.37" r="0.7" fill="#cacaca"/><circle cx="100.33" cy="336.02" r="0.7" fill="#797979"/><circle cx="126.23" cy="314.86" r="0.7" fill="#636363"/><circle cx="97.5" cy="312.22" r="0.7" fill="#d1d1d1"/><circle cx="116.91" cy="322.18" r="0.7" fill="#7d7d7d"/><circle cx="141.06" cy="332.6" r="0.7" fill="#616161"/><circle cx="130.33" cy="341" r="0.7" fill="#e3e3e3"/><circle cx="89.17" cy="330.72" r="0.7" fill="#c6c6c6"/><circle cx="132.2" cy="356.02" r="0.7" fill="#404040"/><circle cx="100.32" cy="310.26" r="0.7" fill="#5a5a5a"/><circle cx="139.92" cy="336.96" r="0.7" fill="#d9d9d9"/><circle cx="104.9" cy="353.25" r="0.7" fill="#868686"/><circle cx="98.35" cy="348.16" r="0.7" fill="#dcdcdc"/><circle cx="89.37" cy="337.71" r="0.7" fill="#a4a4a4"/><circle cx="95.89" cy="324.62" r="0.7" fill="#515151"/><circle cx="95.09" cy="318.07" r="0.7" fill="#a0a0a0"/><circle cx="121.19" cy="315.11" r="0.7" fill="#3b3b3b"/><circle cx="102.28" cy="342.44" r="0.7" fill="#595959"/><circle cx="101.4" cy="315.11" r="0.7" fill="#c2c2c2"/><circle cx="115.15" cy="307.04" r="0.7" fill="#4a4a4a"/><circle cx="106.25" cy="335.06" r="0.7" fill="#a7a7a7"/><circle cx="88.51" cy="312.82" r="0.7" fill="#b1b1b1"/><circle cx="107.09" cy="319.7" r="0.7" fill="#6e6e6e"/><circle cx="138.77" cy="321.38" r="0.7" fill="#9a9a9a"/><circle cx="104.02" cy="327.37" r="0.7" fill="#cecece"/><circle cx="141.3" cy="324.34" r="0.7" fill="#5b5b5b"/><circle cx="125.64" cy="315.12" r="0.7" fill="#3a3a3a"/><circle cx="135.77" cy="327.79" r="0.7" fill="#c6c6c6"/><circle cx="106.88" cy="354.21" r="0.7" fill="#888888"/><circle cx="92.68" cy="304.25" r="0.7" fill="#989898"/><circle cx="120.55" cy="355.76" r="0.7" fill="#484848"/><circle cx="119.47" cy="324.74" r="0.7" fill="#909090"/><circle cx="91.71" cy="319.7" r="0.7" fill="#939393"/><circle cx="137.16" cy="309.66" r="0.7" fill="#8d8d8d"/><circle cx="130.12" cy="359.04" r="0.7" fill="#5b5b5b"/><circle cx="90.58" cy="357.67" r="0.7" fill="#e1e1e1"/><circle cx="111.34" cy="306.47" r="0.7" fill="#d8d8d8"/><circle cx="105.81" cy="355.44" r="0.7" fill="#a4a4a4"/><circle cx="131.27" cy="312.62" r="0.7" fill="#c0c0c0"/><circle cx="96.15" cy="326.68" r="0.7" fill="#cbcbcb"/><circle cx="131.54" cy="313.93" r="0.7" fill="#5e5e5e"/><circle cx="106.51" cy="333.2" r="0.7" fill="#7b7b7b"/><circle cx="90.37" cy="317.62" r="0.7" fill="#b6b6b6"/><circle cx="135.51" cy="305.77" r="0.7" fill="#9a9a9a"/><circle cx="127.36" cy="305.59" r="0.7" fill="#c9c9c9"/><circle cx="90.06" cy="337.9" r="0.7" fill="#989898"/><circle cx="119.76" cy="321.02" r="0.7" fill="#818181"/><circle cx="117.17" cy="327.9" r="0.7" fill="#aaaaaa"/><circle cx="109.25" cy="328.63" r="0.7" fill="#3d3d3d"/><circle cx="119.28" cy="331.57" r="0.7" fill="#616161"/><circle cx="127.72" cy="348.29" r="0.7" fill="#888888"/><circle cx="93.67" cy="330.63" r="0.7" fill="#4b4b4b"/><circle cx="90.69" cy="328.18" r="0.7" fill="#494949"/><circle cx="108.97" cy="332.76" r="0.7" fill="#404040"/><circle cx="120.3" cy="308.13" r="0.7" fill="#b7b7b7"/><circle cx="128.54" cy="332.84" r="0.7" fill="#424242"/><circle cx="112.58" cy="325.15" r="0.7" fill="#dddddd"/><circle cx="91.14" cy="352.72" r="0.7" fill="#e4e4e4"/><circle cx="125.88" cy="350.3" r="0.7" fill="#5a5a5a"/><circle cx="140.43" cy="331.71" r="0.7" fill="#dedede"/><circle cx="136.61" cy="312.9" r="0.7" fill="#c1c1c1"/><circle cx="137.45" cy="307.17" r="0.7" fill="#757575"/><circle cx="127.29" cy="312.54" r="0.7" fill="#d3d3d3"/><circle cx="99.23" cy="350.34" r="0.7" fill="#525252"/><circle cx="112.48" cy="356.34" r="0.7" fill="#5d5d5d"/><circle cx="98.53" cy="332.52" r="0.7" fill="#707070"/><circle cx="85.35" cy="313.88" r="0.7" fill="#555555"/><circle cx="137.79" cy="342.52" r="0.7" fill="#d3d3d3"/><circle cx="93.04" cy="348.57" r="0.7" fill="#4d4d4d"/><circle cx="114.14" cy="340.02" r="0.7" fill="#777777"/><circle cx="134.09" cy="335.35" r="0.7" fill="#9d9d9d"/><circle cx="134.65" cy="309.42" r="0.7" fill="#e4e4e4"/><circle cx="119.92" cy="326.09" r="0.7" fill="#c2c2c2"/><circle cx="98.64" cy="360.4" r="0.7" fill="#9c9c9c"/><circle cx="104.2" cy="347.4" r="0.7" fill="#858585"/><circle cx="93.5" cy="346.19" r="0.7" fill="#414141"/><circle cx="131" cy="318" r="0.7" fill="#a7a7a7"/><circle cx="140.57" cy="337.12" r="0.7" fill="#ababab"/><circle cx="101.43" cy="303.5" r="0.7" fill="#3f3f3f"/><circle cx="91.91" cy="338.85" r="0.7" fill="#838383"/><circle cx="113.09" cy="354.94" r="0.7" fill="#505050"/><circle cx="96.45" cy="340.99" r="0.7" fill="#3d3d3d"/><circle cx="83.35" cy="323.83" r="0.7" fill="#4b4b4b"/><circle cx="104.02" cy="316.31" r="0.7" fill="#9d9d9d"/><circle cx="117.54" cy="315.15" r="0.7" fill="#a4a4a4"/><circle cx="110.89" cy="311.15" r="0.7" fill="#dadada"/><circle cx="97.4" cy="311.99" r="0.7" fill="#494949"/><circle cx="120.41" cy="353.54" r="0.7" fill="#c0c0c0"/><circle cx="106.63" cy="318.61" r="0.7" fill="#3b3b3b"/><circle cx="120.8" cy="335.76" r="0.7" fill="#757575"/><circle cx="120.84" cy="328.94" r="0.7" fill="#dadada"/><circle cx="125.96" cy="317.7" r="0.7" fill="#d4d4d4"/><circle cx="85.77" cy="333.99" r="0.7" fill="#7f7f7f"/><circle cx="97.06" cy="306.76" r="0.7" fill="#bfbfbf"/><circle cx="83.92" cy="335.11" r="0.7" fill="#dbdbdb"/><circle cx="91.49" cy="314.88" r="0.7" fill="#a2a2a2"/><circle cx="112.76" cy="340.32" r="0.7" fill="#c5c5c5"/><circle cx="93.38" cy="321.2" r="0.7" fill="#6d6d6d"/><circle cx="86.03" cy="354.58" r="0.7" fill="#c0c0c0"/><circle cx="124.91" cy="303.77" r="0.7" fill="#cacaca"/><circle cx="126.64" cy="330.18" r="0.7" fill="#b9b9b9"/><circle cx="109.58" cy="316.4" r="0.7" fill="#4b4b4b"/><circle cx="96.74" cy="305.63" r="0.7" fill="#737373"/><circle cx="126.9" cy="343.4" r="0.7" fill="#cacaca"/></g><g clip-path="url(#cd12)"><rect x="142.6" y="303.4" width="58.3" height="57.55" fill="#040203" /><use href="#o4h" transform="translate(142.6,303.4)"/><use href="#o4a" transform="translate(142.6,303.4)"/></g><g clip-path="url(#cd20)"><rect x="24.1" y="362.3" width="58.3" height="57.55" fill="#03030c" /><path d="M42.85 412.24h0M40.07 376.86h0M32.88 398.49h0M69.42 377.21h0M63.41 382.48h0M73.73 404.63h0M80.69 392.54h0M72.2 407.84h0M61.1 404.35h0M56.53 362.35h0M77.56 377.01h0M59.51 377.08h0M62.36 403.15h0M49.7 373.84h0M66.1 405.39h0M34.82 381.47h0M28.35 390.49h0M35.43 371.06h0M34.13 382.46h0M50.63 405.29h0M33.51 384.93h0M34.29 379.77h0M24.27 412.98h0M53.03 377.22h0M41.76 365.34h0M48.97 379.84h0M47.06 389.11h0M75.18 407.81h0M39.63 379.33h0M73.74 369.27h0M67.38 369.08h0M74.53 403.28h0M31.38 378.56h0M69.08 397.11h0M65.67 375.13h0M79.75 378.05h0M67.42 406.8h0M78.76 373.41h0M69.6 374.04h0M77.39 406.14h0M67.55 375.2h0M53.66 410.49h0M81.43 397.56h0M68.33 405.58h0M28.72 371.58h0M28.06 384.81h0M62.67 380.25h0M27.44 376.91h0M27.64 373.28h0M27.44 391.61h0M43.26 391.18h0M46.65 375.33h0M81.01 397.71h0M62.56 365.54h0M82.26 375.42h0M66.63 383.07h0M57.72 380.63h0M24.79 417.3h0M62.51 411.98h0M76.65 411.28h0M58.74 374.72h0M58.48 369.46h0M72.76 393.83h0M57.06 411.63h0M67.05 370.39h0M36.88 387.43h0M41.55 366.04h0M64.76 417.45h0M77.44 414.03h0M44.09 367.79h0M34.3 373.14h0M40.81 368.1h0M80.94 367.34h0M27.27 386.91h0M62.52 377.3h0M60.22 400.26h0M72.26 418.89h0M66.06 404.72h0M34.19 365.4h0M46.95 373h0M66.99 368.86h0M43.54 376.14h0M28.03 414.38h0M76.47 375.09h0M65.03 406.64h0M40.06 379.62h0M70.56 403.04h0M39.47 382.36h0M49.56 411.09h0M61.67 387.28h0M52.68 363.63h0M67.71 401.25h0M76.52 387.1h0M32.42 384.92h0M26.93 366.85h0M43.95 383.52h0M76.34 417.44h0M77.68 416.92h0M52.38 370.73h0M65.27 374.36h0M66.52 390.04h0M72.93 409.12h0M75.62 405.07h0M29.12 375.65h0M53.23 392.63h0M59.36 372.86h0M25.29 412.55h0M27.75 387.85h0M29.01 384.88h0M48.01 369.68h0M67.67 383.1h0M43.03 386.93h0M69.43 402.31h0M60.42 377.39h0M39.14 401.99h0M32.76 383.94h0M51.09 377.85h0" stroke="#2a3aa8" stroke-width="1.3" stroke-linecap="round" fill="none"/><path d="M24.97 380.88h0M75.01 363.78h0M73.11 382.89h0M76.63 384.69h0M79.6 377.68h0M67.55 377.76h0M55.58 384.34h0M68.46 413.04h0M76.46 398.84h0M36.04 372.03h0M78.61 402.64h0M24.65 375.68h0M55.68 415.58h0M54.42 367.28h0M72.1 364.33h0M70.58 402.98h0M33.19 379.05h0M64.57 373.7h0M58.14 405.82h0M57.92 368.09h0M72.61 408.86h0M41.79 377.34h0M57.24 364.72h0M55.28 376.09h0M29.82 374.67h0M53.91 371.92h0M54.74 381.29h0M69.22 382.02h0M74.05 418.02h0M75.13 413.41h0M27.69 380.03h0M63.72 411.39h0M59.53 414.32h0M71.37 377.73h0M68.15 410.53h0M59.84 363.21h0M49.56 370.26h0M66.54 392.87h0M75.26 416.67h0M59.42 369.11h0M56.74 374.3h0M43.62 373.35h0M70.02 411h0M43.1 408.55h0M75.73 403.41h0M45.63 378.52h0M60.89 367.94h0M51.79 377.11h0M74.09 400.08h0M33.88 386.63h0M68.03 372.38h0M62.76 402.91h0M79.83 413.51h0M61.4 412.88h0M47.07 369.04h0M33.63 366.03h0M51.49 366.52h0M28.31 389.49h0M54 374.47h0M65.02 408.63h0M42.49 379.19h0M27.78 401.67h0M62.44 411.36h0M43.97 392.21h0M54.01 408.46h0M38.93 364.57h0M32.88 379.96h0M34.82 379.05h0M49.65 364.05h0M64.19 397.07h0M60.23 371.3h0M46.09 366.66h0M51.11 368.46h0M62.59 391.73h0M53.06 401.91h0M48.26 379.22h0M64.48 399.56h0M72.85 408.99h0M61.71 410.55h0M35.52 377.19h0M68.01 375.95h0M76.29 402.19h0M76.93 375.2h0M55.79 371.66h0M42.13 394.94h0M64.1 372.2h0M71.83 407.77h0M37.45 374.36h0M45.34 376.58h0M43.35 364.48h0M56.91 388.08h0M72.34 371.61h0M26.62 369.85h0M73.59 376.15h0M59.02 372.38h0M59.19 394.49h0M26.76 367.77h0M41.74 407.94h0M34.12 382.26h0M44.55 380.34h0M62.08 393h0M55.05 405.9h0M39.19 390.4h0M54.41 375.62h0M77.54 402.86h0M30.97 389h0M31.26 363.26h0M45.33 408.25h0M72.64 379.06h0M46.87 370.41h0M56.66 372.22h0M73.24 406.3h0M70.03 387.11h0M81.11 369.75h0M29.51 385.43h0M60.59 369.02h0M73.69 412.75h0M48.5 379.1h0M49.56 387.87h0M75.15 408.08h0M57.35 398.71h0M40.04 375.89h0M77.03 419.15h0M35.36 370.75h0M43.75 370.91h0M28.66 368.3h0" stroke="#3448c0" stroke-width="1.3" stroke-linecap="round" fill="none"/><path d="M62.23 380.34h0M32.06 379.57h0M24.33 412.49h0M76.28 395.98h0M73.05 417.39h0M73.13 411.66h0M41.04 387.98h0M38.59 384.18h0M55.56 379.85h0M34.6 411.69h0M35.79 378.41h0M76.82 395.61h0M55.64 380.96h0M68.36 396.36h0M64.1 403.08h0M70.07 401.44h0M51.81 385.94h0M24.63 411.42h0M78.7 377.92h0M80.74 407.02h0M53.32 385.8h0M76.13 364.83h0M73.17 407.75h0M80.64 415.84h0M62.45 376.79h0M59.99 368.74h0M64.4 386.53h0M71.51 418.31h0M77.38 411.71h0M79.29 400.05h0M69.05 376.04h0M67.27 370.47h0M66.64 393.13h0M58.13 365.87h0M77.92 414.66h0M78.23 383.95h0M61.62 401.83h0M27.96 363.74h0M45.08 390.17h0M68.16 364.13h0M71.87 407.77h0M57.34 375.13h0M41.13 393.97h0M76.4 396.57h0M39.58 365.95h0M41.31 363.26h0M27.43 375.47h0M31.75 365.87h0M37.88 372.39h0M55 402.59h0M50.81 394.06h0M66.62 411.14h0M75.47 416.95h0M77.26 409.32h0M43.1 387.45h0M27.3 413.86h0M79.76 412.55h0M79.03 404.75h0M37.63 409.6h0M42.75 372.18h0M61.12 387.94h0M53.26 375.7h0M73.09 399.45h0M43.14 395.19h0M70.8 371.3h0M62.05 378.74h0M71.12 387.67h0M29 371.53h0M60.6 400.01h0M56.01 413.2h0M26.81 386.94h0M74.12 377.25h0M78.51 394.71h0M58.3 386.5h0M79.86 401.14h0M74.87 363.57h0M26.95 419.15h0M26.29 415.54h0M73.34 366.28h0M66.05 407.73h0M49.21 375.84h0M33.02 412.6h0M25.08 393.86h0M33.16 371.16h0M65.66 382.57h0M29.35 388.79h0M25 375.44h0M51.47 417.33h0M24.38 385.92h0M65.67 368.07h0M30.75 379h0M45.13 377.17h0M71.62 365.65h0M75.84 380.76h0M65.87 404.47h0M52.88 393.94h0M25.46 397.9h0M24.42 365.69h0M53.86 369.97h0M48.88 372.92h0M61.75 390.28h0M53.78 367.72h0M58.79 396.73h0M74.03 408.43h0M64.04 373.56h0M40.93 367.03h0M69.92 400.49h0M67.45 416.58h0M75.53 362.84h0M73.84 411.72h0M33.7 377.41h0M67.65 381.08h0M67.29 415.25h0M60.39 367.46h0M64.96 399.19h0M72.83 417.79h0M66.57 402.47h0M42.09 368.91h0M66.77 372.25h0M27.9 379.78h0M76.11 406.32h0M80.72 404.24h0M53.18 414.8h0M54.62 369.82h0M27.47 400.58h0M58.07 381.54h0M52.01 407.49h0M52.57 373.75h0M80.72 401.96h0" stroke="#2030a0" stroke-width="1.3" stroke-linecap="round" fill="none"/><path d="M25.18 374.41h0M25.31 403.12h0M44.76 381.06h0M31.88 379.72h0M26.51 388.41h0M63.38 371.07h0M62.12 414.7h0M54.26 362.64h0M54.61 408.43h0M65.92 383.92h0M28.76 387.94h0M82.1 372.44h0M47.28 370.09h0M60.63 380.74h0M75.74 401.5h0M66.53 374.03h0M43.31 383.25h0M26.41 395.64h0M45.06 400.44h0M38.02 371.11h0M62.8 374.82h0M71.99 366.5h0M27.03 383.34h0M43.68 419.42h0M43.49 370.98h0M66.93 405.64h0M31.97 405.65h0M52.86 402.1h0M25.6 393.85h0M63.83 414.53h0M33.77 372.45h0M40.93 374.56h0M78 366.14h0M57.55 375.86h0M75.43 397.85h0M60.69 394.84h0M65.68 406.77h0M52.43 367.06h0M73.65 392.7h0M44.77 412.98h0M66.03 411.89h0M57.8 386.11h0M46.35 412.88h0M54.4 401.3h0M29.33 378.07h0M46.39 371.63h0M27.85 369.31h0M44.82 393.5h0M49.98 376.06h0M39.32 394.65h0M80.5 414.32h0M47.48 370.01h0M62.92 406.43h0M72.9 367.24h0M69.88 375.9h0M28.91 367.39h0M67.9 410.58h0M50.58 373.37h0M38.39 364.04h0M71.37 405.97h0M68.19 406.6h0M33.1 374.58h0M36.72 398.47h0M66.17 368.62h0M58.62 389.53h0M34.56 369.57h0M44.97 416.47h0M59.12 412.72h0M74.1 375.18h0M42.33 365.78h0M30.54 408.16h0M67.71 373.31h0M50.56 376.12h0M65 400.39h0M27.41 373.34h0M34.57 369.9h0M36 404.16h0M63.43 376.42h0M69.12 413.06h0M61.51 370.22h0M30.74 371.59h0M53.96 370.79h0M71.11 410.04h0M64.95 372.08h0M71.14 418.75h0M36.41 365.13h0M46.26 373.8h0M57.46 374.66h0M74.39 401.3h0M41.61 408.4h0M56.85 418.48h0M28.86 401.61h0M47.6 376.14h0M49.39 373.45h0M53.65 364.5h0M63.01 373.12h0M50.1 366.17h0M60.85 386.23h0M52.84 383.8h0M49.3 391.34h0M41.99 375.82h0M76.47 372.77h0M65.27 384.89h0M45.79 371.05h0M77.09 385.39h0M52.93 385.04h0M70.63 378.11h0M62.69 401.78h0M27.38 379.45h0M36.66 390.98h0M76.58 385.86h0M29.49 371.09h0M76.63 405.98h0M40.72 390.6h0M54.28 389.7h0" stroke="#3c50c8" stroke-width="1.3" stroke-linecap="round" fill="none"/><path d="M65.5 410.35h0M31.23 393.57h0M73.99 407.14h0M62.41 411.81h0M81.31 407.81h0M62.89 385.13h0M60.67 363.18h0M77.97 406.35h0M58.53 379.94h0M68.01 418.11h0M32.27 385.72h0M62.81 379.49h0M67.08 371.75h0M55.26 371.45h0M35.85 367.57h0M77.96 369.98h0M42.15 377.15h0M64.99 374.44h0M30.49 395.09h0M25.98 407.68h0M62.3 398.7h0M69.76 408.47h0M73.51 376.12h0M78.51 413.49h0M32.6 393.69h0M38.19 374.75h0M80.1 380.06h0M46.09 380.21h0M79.38 390.07h0M60.67 376.21h0M48.1 366.7h0M37.05 411.2h0M31.2 417.2h0M76.81 362.72h0M68.38 413.08h0M25.83 399.61h0M65.38 404.63h0M77.96 395.36h0M41.2 377h0M44.9 409.26h0M61.87 374.85h0M40.68 384.8h0M30.31 374.32h0M24.54 368.03h0M52.52 368.62h0M53.86 380.5h0M32.22 383.28h0M75.81 380.83h0M41.85 380.37h0M35.32 389.37h0M28.38 383.99h0M79.87 399.33h0M24.87 416.03h0M69.87 403.64h0M29.22 415.39h0M74.13 416.59h0M71.82 397.04h0M60.12 385h0M27.14 413.49h0M61.42 380.21h0M73.01 404.83h0M59.3 365.63h0M61.23 366.73h0M65.64 374.68h0M69.21 408.49h0M46.45 366.31h0M60.63 401.31h0M30.88 376.95h0M80.72 414.5h0M43.21 402.26h0M45.2 402.91h0M33.5 413.81h0M71.3 366.98h0M69.69 374.14h0M50.03 363.77h0M70.22 413.14h0M33.68 414.46h0M41.7 419.48h0M57.95 400.72h0M46.56 383.7h0M66.51 375.89h0M58.46 413.63h0M28.47 408.44h0M71.19 367.59h0M73.03 392.98h0M26.64 379.17h0M72.49 364.13h0M74.36 403.12h0M66.95 377.02h0M75.99 412.27h0M30.59 377.93h0M55.67 366.18h0M27.56 416.14h0M38.01 372.8h0M61.08 397.02h0M45.83 414.65h0M33.5 396.05h0M81.25 412.45h0M75.96 399.48h0M42 376.83h0M76.43 373.66h0M53.75 369.11h0M45.17 397.02h0M55.76 400.07h0M27.5 368.74h0M47.37 372.31h0M43.78 394.31h0M69.66 413.64h0M76 372.89h0M54.69 370.56h0M29.36 388.11h0M27.51 395.33h0M77.73 401.93h0M27.02 385.95h0M44.58 389.26h0M60.75 397.02h0M61.09 395.7h0M72.91 405.21h0M79.59 371.14h0M73.32 417.67h0M41.96 362.66h0M36.19 415.98h0M60.32 372.27h0M42.18 373.97h0M49.36 384.7h0M68.41 416.17h0M65.77 409.02h0M53.2 395.26h0M61.83 378.52h0M79.71 370.2h0M38.54 376.51h0M44.14 367.22h0M71.62 410.11h0" stroke="#1c2888" stroke-width="1.3" stroke-linecap="round" fill="none"/><circle cx="65.59" cy="377.61" r="0.7" fill="#28283c"/><circle cx="49.52" cy="407.68" r="0.7" fill="#27273b"/><circle cx="39.57" cy="399.25" r="0.7" fill="#38384c"/><circle cx="36.75" cy="412.95" r="0.7" fill="#131327"/><circle cx="39.28" cy="375.89" r="0.7" fill="#2f2f43"/><circle cx="79.18" cy="405.24" r="0.7" fill="#1f1f33"/></g><g clip-path="url(#cd21)"><rect x="83.2" y="362.3" width="58.3" height="57.55" fill="#060303" /><circle cx="124.69" cy="377.61" r="0.7" fill="#303030"/><circle cx="108.62" cy="407.68" r="0.7" fill="#2e2e2e"/><circle cx="98.67" cy="399.25" r="0.7" fill="#434343"/><circle cx="95.85" cy="412.95" r="0.7" fill="#171717"/><circle cx="98.38" cy="375.89" r="0.7" fill="#393939"/><circle cx="138.28" cy="405.24" r="0.7" fill="#252525"/></g><g clip-path="url(#cd22)"><rect x="142.6" y="362.3" width="58.3" height="57.55" fill="#070304" /></g><g clip-path="url(#cd30)"><rect x="24.1" y="421.2" width="58.3" height="57.55" fill="#06030a" /><path d="M51.02 477.77h0M42.39 433.85h0M46.4 454.33h0M43.82 451.84h0M51.75 466.11h0M72.31 440.97h0M47.9 469.93h0M41.35 432.28h0M63.87 468.63h0M49.92 455.29h0M65.76 477.86h0M25.69 469.9h0M42.76 424.67h0M30.27 447.16h0M46.1 429.07h0M50.09 468.24h0M52.93 452.21h0M70.04 429.43h0M30.97 431.57h0M54.49 432.01h0M35.87 473.15h0M58.37 430.28h0M68.77 470.93h0M76.07 422.24h0M75.63 436.67h0M55.08 457.39h0M79.84 443.97h0" stroke="#3040b0" stroke-width="1.4" stroke-linecap="round" fill="none"/><path d="M73.52 470.68h0M53.36 421.32h0M36.67 444.74h0M39.14 440.27h0M55.29 425.52h0M41.32 422.14h0M56.27 451.65h0M38.95 426.84h0M50.3 434.79h0M71.26 475.04h0M29.05 477.57h0M39.46 435.11h0M78.44 458h0M37.48 434.45h0M82.1 474.98h0M50.22 452.01h0M28.37 435.04h0M78.3 437.76h0M29.65 455.73h0M74.14 450.18h0M37.38 469.21h0M43.4 425.29h0M51.05 476.89h0M47.61 454.56h0M36.31 458.58h0M67.49 469.86h0M24.9 461.9h0M60.4 447.18h0M51.4 437.74h0M54.66 470.51h0M72.91 426.45h0M59.52 460.82h0M54.36 461.15h0" stroke="#3c4cc0" stroke-width="1.4" stroke-linecap="round" fill="none"/><path d="M55.19 461.27h0M61.46 425.39h0M77.18 464.79h0M50.84 455.4h0M79.96 463.91h0M43.93 468.37h0M38.73 456.84h0M55.86 428.57h0M70.46 448.31h0M33.28 443.09h0M63.71 426.77h0M28.99 460.11h0M74.52 449.75h0M45.81 455.5h0M71.6 434.83h0M81.48 475.27h0M31.47 464.69h0M78.99 476.21h0M27.48 459.53h0M80.16 477.25h0M72.82 464.14h0M44.87 469.46h0M25.06 457.73h0M72.71 462.3h0M37.02 460.7h0" stroke="#5060c8" stroke-width="1.4" stroke-linecap="round" fill="none"/><path d="M56.5 462.06h0M44.29 422.61h0M26.98 424.58h0M69.8 470.01h0M34.51 462.37h0M57.56 468.34h0M55.73 470.52h0M27.45 467.12h0M63.71 462.4h0M29.86 454.85h0M30.69 446.23h0M56.81 449.63h0M70.5 470.28h0M48.13 477.41h0M76.42 430.39h0M75.37 448.17h0M44.16 439.92h0M35.33 474.84h0M79.54 422.61h0M51.17 454.07h0M69.04 425.38h0M49.86 466.41h0M70.1 448.8h0M46.81 471.7h0M80.47 453.88h0" stroke="#2a3498" stroke-width="1.4" stroke-linecap="round" fill="none"/><use href="#o4hb" transform="translate(24.1,421.2)"/><use href="#o4b" transform="translate(24.1,421.2)"/><circle cx="75.41" cy="440.11" r="0.7" fill="#525266"/><circle cx="77.01" cy="457.5" r="0.7" fill="#9393a7"/><circle cx="62.88" cy="477.54" r="0.7" fill="#737387"/><circle cx="73.06" cy="461.35" r="0.7" fill="#aaaabe"/><circle cx="49.59" cy="462.9" r="0.7" fill="#818195"/><circle cx="42.04" cy="433.4" r="0.7" fill="#89899d"/><circle cx="28.64" cy="473.62" r="0.7" fill="#444458"/><circle cx="25.67" cy="427.34" r="0.7" fill="#b5b5c9"/><circle cx="44.21" cy="429.36" r="0.7" fill="#333347"/><circle cx="26.53" cy="461.06" r="0.7" fill="#8a8a9e"/><circle cx="64.74" cy="463.6" r="0.7" fill="#39394d"/><circle cx="58.52" cy="442.11" r="0.7" fill="#a5a5b9"/><circle cx="71.88" cy="472.49" r="0.7" fill="#39394d"/><circle cx="74.69" cy="473.82" r="0.7" fill="#b7b7cb"/><circle cx="30.34" cy="433.04" r="0.7" fill="#3f3f53"/><circle cx="26.11" cy="469.99" r="0.7" fill="#a4a4b8"/><circle cx="61.07" cy="468.68" r="0.7" fill="#8a8a9e"/><circle cx="40.85" cy="426.95" r="0.7" fill="#3d3d51"/><circle cx="68.25" cy="433" r="0.7" fill="#5d5d71"/><circle cx="48.81" cy="422.4" r="0.7" fill="#545468"/><circle cx="40.58" cy="462.39" r="0.7" fill="#646478"/><circle cx="42.8" cy="476.68" r="0.7" fill="#78788c"/><circle cx="73.74" cy="456.78" r="0.7" fill="#343448"/><circle cx="48.17" cy="446.32" r="0.7" fill="#9e9eb2"/><circle cx="44.32" cy="461.75" r="0.7" fill="#7c7c90"/><circle cx="36.73" cy="470.82" r="0.7" fill="#3c3c50"/><circle cx="71.89" cy="431" r="0.7" fill="#2f2f43"/><circle cx="35.88" cy="465.06" r="0.7" fill="#bcbcd0"/><circle cx="24.35" cy="449.45" r="0.7" fill="#76768a"/><circle cx="70.55" cy="431.82" r="0.7" fill="#76768a"/><circle cx="44.34" cy="469.07" r="0.7" fill="#555569"/><circle cx="79.13" cy="437.53" r="0.7" fill="#4e4e62"/><circle cx="64.88" cy="449.88" r="0.7" fill="#3f3f53"/><circle cx="61.21" cy="425.85" r="0.7" fill="#a0a0b4"/><circle cx="64.74" cy="466.49" r="0.7" fill="#89899d"/><circle cx="44.83" cy="444.29" r="0.7" fill="#68687c"/><circle cx="76.01" cy="426.16" r="0.7" fill="#afafc3"/><circle cx="25.57" cy="433.06" r="0.7" fill="#555569"/><circle cx="76.64" cy="450.04" r="0.7" fill="#66667a"/><circle cx="75.64" cy="434.64" r="0.7" fill="#717185"/><circle cx="55.09" cy="464.62" r="0.7" fill="#9b9baf"/><circle cx="61.78" cy="441.26" r="0.7" fill="#5e5e72"/><circle cx="33.16" cy="469.72" r="0.7" fill="#8e8ea2"/><circle cx="67.36" cy="430.96" r="0.7" fill="#6e6e82"/><circle cx="69.19" cy="454.53" r="0.7" fill="#414155"/><circle cx="51.04" cy="472.14" r="0.7" fill="#515165"/><circle cx="35.27" cy="438.55" r="0.7" fill="#9494a8"/><circle cx="73.29" cy="430.1" r="0.7" fill="#46465a"/><circle cx="38.53" cy="439.99" r="0.7" fill="#7a7a8e"/><circle cx="33.48" cy="440.08" r="0.7" fill="#4a4a5e"/><circle cx="80.95" cy="463.14" r="0.7" fill="#3e3e52"/><circle cx="80.21" cy="427.05" r="0.7" fill="#66667a"/><circle cx="81.46" cy="466.95" r="0.7" fill="#9898ac"/><circle cx="49.46" cy="432.49" r="0.7" fill="#8b8b9f"/><circle cx="30.33" cy="433.08" r="0.7" fill="#67677b"/></g><g clip-path="url(#cd31)"><rect x="83.2" y="421.2" width="58.3" height="57.55" fill="#030303" /><circle cx="134.51" cy="440.11" r="0.7" fill="#626262"/><circle cx="136.11" cy="457.5" r="0.7" fill="#b0b0b0"/><circle cx="121.98" cy="477.54" r="0.7" fill="#8a8a8a"/><circle cx="132.16" cy="461.35" r="0.7" fill="#cccccc"/><circle cx="108.69" cy="462.9" r="0.7" fill="#9b9b9b"/><circle cx="101.14" cy="433.4" r="0.7" fill="#a4a4a4"/><circle cx="87.74" cy="473.62" r="0.7" fill="#525252"/><circle cx="84.77" cy="427.34" r="0.7" fill="#d9d9d9"/><circle cx="103.31" cy="429.36" r="0.7" fill="#3e3e3e"/><circle cx="85.63" cy="461.06" r="0.7" fill="#a6a6a6"/><circle cx="123.84" cy="463.6" r="0.7" fill="#444444"/><circle cx="117.62" cy="442.11" r="0.7" fill="#c6c6c6"/><circle cx="130.98" cy="472.49" r="0.7" fill="#444444"/><circle cx="133.79" cy="473.82" r="0.7" fill="#dbdbdb"/><circle cx="89.44" cy="433.04" r="0.7" fill="#4c4c4c"/><circle cx="85.21" cy="469.99" r="0.7" fill="#c5c5c5"/><circle cx="120.17" cy="468.68" r="0.7" fill="#a6a6a6"/><circle cx="99.95" cy="426.95" r="0.7" fill="#4a4a4a"/><circle cx="127.35" cy="433" r="0.7" fill="#707070"/><circle cx="107.91" cy="422.4" r="0.7" fill="#656565"/><circle cx="99.68" cy="462.39" r="0.7" fill="#787878"/><circle cx="101.9" cy="476.68" r="0.7" fill="#909090"/><circle cx="132.84" cy="456.78" r="0.7" fill="#3e3e3e"/><circle cx="107.27" cy="446.32" r="0.7" fill="#bebebe"/><circle cx="103.42" cy="461.75" r="0.7" fill="#959595"/><circle cx="95.83" cy="470.82" r="0.7" fill="#494949"/><circle cx="130.99" cy="431" r="0.7" fill="#393939"/><circle cx="94.98" cy="465.06" r="0.7" fill="#e1e1e1"/><circle cx="83.45" cy="449.45" r="0.7" fill="#8d8d8d"/><circle cx="129.65" cy="431.82" r="0.7" fill="#8e8e8e"/><circle cx="103.44" cy="469.07" r="0.7" fill="#666666"/><circle cx="138.23" cy="437.53" r="0.7" fill="#5e5e5e"/><circle cx="123.98" cy="449.88" r="0.7" fill="#4c4c4c"/><circle cx="120.31" cy="425.85" r="0.7" fill="#c0c0c0"/><circle cx="123.84" cy="466.49" r="0.7" fill="#a5a5a5"/><circle cx="103.93" cy="444.29" r="0.7" fill="#7d7d7d"/><circle cx="135.11" cy="426.16" r="0.7" fill="#d2d2d2"/><circle cx="84.67" cy="433.06" r="0.7" fill="#666666"/><circle cx="135.74" cy="450.04" r="0.7" fill="#7a7a7a"/><circle cx="134.74" cy="434.64" r="0.7" fill="#888888"/><circle cx="114.19" cy="464.62" r="0.7" fill="#bababa"/><circle cx="120.88" cy="441.26" r="0.7" fill="#717171"/><circle cx="92.26" cy="469.72" r="0.7" fill="#ababab"/><circle cx="126.46" cy="430.96" r="0.7" fill="#848484"/><circle cx="128.29" cy="454.53" r="0.7" fill="#4f4f4f"/><circle cx="110.14" cy="472.14" r="0.7" fill="#626262"/><circle cx="94.37" cy="438.55" r="0.7" fill="#b2b2b2"/><circle cx="132.39" cy="430.1" r="0.7" fill="#545454"/><circle cx="97.63" cy="439.99" r="0.7" fill="#939393"/><circle cx="92.58" cy="440.08" r="0.7" fill="#595959"/><circle cx="140.05" cy="463.14" r="0.7" fill="#4a4a4a"/><circle cx="139.31" cy="427.05" r="0.7" fill="#7b7b7b"/><circle cx="140.56" cy="466.95" r="0.7" fill="#b7b7b7"/><circle cx="108.56" cy="432.49" r="0.7" fill="#a7a7a7"/><circle cx="89.43" cy="433.08" r="0.7" fill="#7c7c7c"/></g><g clip-path="url(#cd32)"><rect x="142.6" y="421.2" width="58.3" height="57.55" fill="#040203" /><use href="#o4hb" transform="translate(142.6,421.2)"/><use href="#o4b" transform="translate(142.6,421.2)"/></g><rect x="192" y="475.4" width="7.8" height="1.6" fill="#ffffff" /><g clip-path="url(#ce00)"><rect x="233.8" y="244.5" width="58.3" height="57.55" fill="#04040c" /><g filter="url(#bl05)"><path d="M257.76 268.94h0M272.39 252.68h0M290.79 248.17h0M287.97 245.53h0M289.69 287.94h0M239.92 265.79h0M266.47 301.9h0M257.02 296.78h0M258.91 271.51h0M276.69 248.65h0M276.83 285.37h0M284.15 284.56h0M243.35 292.5h0M259.41 300.34h0M260.54 280.53h0M238.82 265.6h0M269.07 291.72h0M242.5 300.1h0M286.59 257.44h0M275.8 252.72h0M258.08 272.7h0M244.19 287.24h0" stroke="#222a88" stroke-width="1.8" stroke-linecap="round" fill="none"/><path d="M283.09 261.61h0M266.66 300.29h0M250.02 255.85h0M257.42 251.17h0M279.27 284.54h0M244.58 266.99h0M252.42 282.57h0M273.1 277.57h0M276.38 277.03h0M274.21 253.84h0M273.53 296.86h0M280.5 297.81h0M236.41 261.72h0M245.73 253.96h0M279.64 268.27h0M249.44 261.86h0M290.29 269.65h0M262.98 282.11h0M251.22 272.67h0M238.17 295.25h0M253.09 252.02h0M266.69 278.11h0M247.55 284.21h0M292.09 276.99h0M286.27 262.25h0M247.36 272.38h0" stroke="#2a3298" stroke-width="1.8" stroke-linecap="round" fill="none"/><path d="M264.73 282.36h0M245.21 277.53h0M258.08 259.07h0M264.71 253.87h0M284.16 253.14h0M291.64 272.91h0M289.35 256.4h0M288.32 268.73h0M236.31 273.13h0M253.53 280.11h0M242.56 289.33h0M252.5 268.22h0M268.36 292.62h0M245.57 274.22h0" stroke="#1c2478" stroke-width="1.8" stroke-linecap="round" fill="none"/><path d="M285.48 251.15h0M259.7 251.18h0M288.19 300.77h0M261.14 284.46h0M289.98 266.03h0M261.67 260.45h0M264.08 246.85h0M255.72 273.55h0" stroke="#2e38a4" stroke-width="1.8" stroke-linecap="round" fill="none"/><path d="M281.49 292.55h0M289.06 282.25h0M243.03 301.14h0M271.92 261.47h0M266.16 288.45h0M270.2 284.69h0M253.61 279.25h0" stroke="#2a80a0" stroke-width="2" stroke-linecap="round" fill="none"/><path d="M260.92 251.9h0M273.19 266.52h0M238 265.77h0M259.37 251.05h0M283.08 257.34h0M259.18 273.88h0M282.82 290.7h0M237.36 245.8h0" stroke="#2c92a0" stroke-width="2" stroke-linecap="round" fill="none"/><path d="M248.76 273.78h0M262.31 258.44h0M281.17 292.5h0M234.47 265.76h0M267.12 259.84h0M259.99 247.55h0M238.02 252.92h0M237.4 283.1h0M245.62 250.19h0" stroke="#2874a8" stroke-width="2" stroke-linecap="round" fill="none"/></g></g><g clip-path="url(#ce01)"><rect x="293.2" y="244.5" width="58.3" height="57.55" fill="#040404" /><path d="M340.26 246.19h0M305.76 283.56h0M298.94 296.29h0M319.58 297.28h0M298.6 293.07h0M294.97 255.02h0M342.52 262h0M301.71 276.29h0M327.14 278.85h0M340.5 252.83h0M338.52 288.83h0M328.12 298.19h0M351.47 262.01h0M316.56 299.99h0M310.6 247.69h0M345.86 260.73h0M335.35 249.27h0M330.26 287.95h0M324.97 274.82h0M340.14 254.69h0" stroke="#141414" stroke-width="1" stroke-linecap="round" fill="none"/><path d="M322.13 256.45h0M343.23 290.42h0M306.29 274.07h0M298.2 256.96h0M334.29 273.14h0M326.54 252.13h0M347.54 259.77h0M349.08 262.74h0M340.88 296.2h0M327.71 296.71h0" stroke="#1c1c1c" stroke-width="1" stroke-linecap="round" fill="none"/></g><g clip-path="url(#ce02)"><rect x="352.4" y="244.5" width="58.3" height="57.55" fill="#030503" /><g filter="url(#bl05)"><path d="M400.09 292.55h0M367.36 273.78h0M380.91 258.44h0M377.97 251.05h0M384.76 288.45h0M364.22 250.19h0" stroke="#1c8026" stroke-width="1.9" stroke-linecap="round" fill="none"/><path d="M356.6 265.77h0M399.77 292.5h0M401.68 257.34h0M377.78 273.88h0M378.59 247.55h0M356 283.1h0M401.42 290.7h0M372.21 279.25h0" stroke="#229030" stroke-width="1.9" stroke-linecap="round" fill="none"/><path d="M379.52 251.9h0M407.66 282.25h0M391.79 266.52h0M361.63 301.14h0M390.52 261.47h0M353.07 265.76h0M385.72 259.84h0M356.62 252.92h0M355.96 245.8h0M388.8 284.69h0" stroke="#18701f" stroke-width="1.9" stroke-linecap="round" fill="none"/></g></g><g clip-path="url(#ce10)"><rect x="233.8" y="303.4" width="58.3" height="57.55" fill="#04040c" /><g filter="url(#bl05)"><path d="M244.59 343.62h0M240.17 345.3h0M246.61 341.41h0M242.16 350.48h0M266.9 344.95h0M244 328.76h0M273.89 343.33h0M250.91 340.14h0M242.65 354.99h0M266.61 343.11h0M252.86 324.26h0M252.78 324.2h0M267.76 344.97h0M270.82 342.84h0M273.61 321.01h0" stroke="#6a6ac8" stroke-width="1.8" stroke-linecap="round" fill="none"/><path d="M237.22 326.39h0M283.21 309.9h0M249.08 325h0M238.56 327.86h0M242.91 345.28h0M246.71 341.29h0M247.77 356.58h0M247.68 321.06h0M272.97 334.95h0M263.9 311.32h0M254.62 330.14h0" stroke="#8080d8" stroke-width="1.8" stroke-linecap="round" fill="none"/><path d="M243.28 353.49h0M279.67 326.44h0M243.95 328.57h0M244.02 354.23h0M247.74 328.03h0M274.73 333.19h0M245.13 323.34h0M244.94 345.23h0M261.82 348.74h0" stroke="#5a5ab8" stroke-width="1.8" stroke-linecap="round" fill="none"/><path d="M256.02 341.74h0M247.97 345.36h0M260.06 348.89h0M247.2 349.26h0M235.68 343.75h0M250.11 331.97h0M249.27 326.56h0M240.96 349.27h0M267.82 342.42h0M248.37 322.88h0" stroke="#9898e0" stroke-width="1.8" stroke-linecap="round" fill="none"/></g><circle cx="265.87" cy="323.54" r="1.7" fill="#d0d0f0" opacity="0.5" filter="url(#bl1)"/><circle cx="265.87" cy="323.54" r="0.9" fill="#f0f0ff"/><circle cx="275.78" cy="329.3" r="1.7" fill="#d0d0f0" opacity="0.5" filter="url(#bl1)"/><circle cx="275.78" cy="329.3" r="0.9" fill="#f0f0ff"/><path d="M239.63 333.33h0M260.04 354.04h0M250.12 344.84h0" stroke="#30a090" stroke-width="1.6" stroke-linecap="round" fill="none"/></g><g clip-path="url(#ce11)"><rect x="293.2" y="303.4" width="58.3" height="57.55" fill="#040404" /><g filter="url(#bl05)"><path d="M315.42 341.74h0M295.08 343.75h0M308.48 325h0M312.18 324.2h0M307.08 321.06h0M327.16 344.97h0M304.53 323.34h0M307.77 322.88h0" stroke="#707070" stroke-width="1.6" stroke-linecap="round" fill="none"/><path d="M307.37 345.36h0M306.01 341.41h0M342.61 309.9h0M339.07 326.44h0M333.29 343.33h0M302.05 354.99h0M307.17 356.58h0M307.14 328.03h0M330.22 342.84h0M308.67 326.56h0M304.34 345.23h0M314.02 330.14h0M321.22 348.74h0" stroke="#909090" stroke-width="1.6" stroke-linecap="round" fill="none"/><path d="M303.99 343.62h0M299.57 345.3h0M301.56 350.48h0M326.3 344.95h0M302.31 345.28h0M303.35 328.57h0M310.31 340.14h0M326.01 343.11h0M312.26 324.26h0M332.37 334.95h0M323.3 311.32h0M327.22 342.42h0" stroke="#5a5a5a" stroke-width="1.6" stroke-linecap="round" fill="none"/><path d="M296.62 326.39h0M319.46 348.89h0M302.68 353.49h0M306.6 349.26h0M297.96 327.86h0M306.11 341.29h0M303.4 328.76h0M303.42 354.23h0M309.51 331.97h0M334.13 333.19h0M333.01 321.01h0M300.36 349.27h0" stroke="#a8a8a8" stroke-width="1.6" stroke-linecap="round" fill="none"/></g><circle cx="325.26" cy="323.54" r="1.7" fill="#d0d0d0" opacity="0.5" filter="url(#bl1)"/><circle cx="325.26" cy="323.54" r="0.9" fill="#f0f0f0"/><circle cx="335.18" cy="329.3" r="1.7" fill="#d0d0d0" opacity="0.5" filter="url(#bl1)"/><circle cx="335.18" cy="329.3" r="0.9" fill="#f0f0f0"/></g><g clip-path="url(#ce12)"><rect x="352.4" y="303.4" width="58.3" height="57.55" fill="#030503" /><g filter="url(#bl05)"><path d="M358.23 333.33h0M378.63 354.04h0M368.72 344.84h0" stroke="#1c8026" stroke-width="1.9" stroke-linecap="round" fill="none"/></g></g><g clip-path="url(#ce20)"><rect x="233.8" y="362.3" width="58.3" height="57.55" fill="#060a16" /><g filter="url(#bl05)"><path d="M265.73 416.82h0M237.93 406.39h0M262.8 396.95h0M275.93 404.11h0M247.47 411.12h0M269.72 414.93h0M234.35 374.36h0M279.69 382.14h0M260.84 375.56h0M242.73 417.23h0M257.3 406.75h0M252.66 399.86h0M264.17 367.93h0M241.09 391.57h0M257.14 381.72h0M247.52 396.54h0M246.3 402.14h0M234.08 370.02h0M278.59 402.03h0M239.27 381.65h0M247.74 418.78h0M263.36 364.42h0M239.68 372.57h0M255.88 385.26h0M261.58 364.17h0M286.88 366.32h0M273.35 388.98h0M284.47 377.32h0M264.92 390.98h0M239.2 368.89h0M241.42 363.98h0M253.01 370.16h0M251.35 401.4h0M268 398.12h0M249.14 379.46h0M262.31 390.2h0M234.84 382.55h0M252.56 417.56h0M238.84 363.42h0M248.36 371.52h0M256.62 383.79h0M256.13 392.25h0M253.9 401.35h0M239 406.93h0M289.91 418.34h0M279.05 387.65h0M287.06 414.04h0M242.1 368.36h0M282.42 404.33h0M248.7 379.52h0M265.23 371.52h0M251.08 383.21h0M255.89 406.19h0M289.2 386.96h0M280.5 374.27h0M261.26 400.46h0" stroke="#262a80" stroke-width="1.8" stroke-linecap="round" fill="none"/><path d="M261.15 412.13h0M291.55 391.39h0M274.03 377.02h0M246.88 366.81h0M284.91 383.51h0M241.17 410.09h0M274.51 373.89h0M246.89 377.62h0M250.37 368.42h0M250.79 411.37h0M248.39 398.93h0M286.98 399.39h0M289.4 369.99h0M236.81 380.57h0M248.63 371.29h0M284.52 371.91h0M255.88 372.75h0M238.64 419.59h0M274.46 409.49h0M261.42 405.25h0M282.55 367.69h0M252.9 367.25h0M266.22 365h0M253.19 382.63h0M270.31 408.5h0M247.99 390.44h0M289.65 366.75h0M246.01 415.08h0M236.69 404.91h0M250.63 404.44h0M260.11 365.63h0M256.01 396.97h0M284.25 414.78h0M281.22 376.09h0M255.44 380.1h0M251.28 397.81h0M255.84 375.51h0M279.62 369.04h0M235.65 365.38h0M265.71 382.88h0M234.85 370.75h0M292.06 414.84h0M244.43 395.7h0M254.74 369.13h0M288.36 411h0M288.63 397.31h0M252.91 405.64h0M287.36 379.98h0M239.99 367.77h0M242.48 419.73h0M252.5 419.81h0M250.87 368.91h0" stroke="#2c3290" stroke-width="1.8" stroke-linecap="round" fill="none"/><path d="M239.66 390.63h0M283.47 414.8h0M234.16 385.18h0M250.43 415.86h0M279.25 412.57h0M240.41 376.5h0M290.57 374.76h0M252.11 380.94h0M261.97 366.05h0M243.14 404.91h0M239.89 375.84h0M278.83 417.83h0M281.81 417.34h0M244.03 395.32h0M282.12 372.74h0M245.2 386.55h0M258.45 365.32h0M282.81 395.83h0M234.53 370.95h0M284.34 384.46h0M235.32 413.15h0M239 388.78h0M263.89 411.7h0M251.44 399.5h0M274.69 386.53h0M288.98 384.92h0M256.01 368.16h0M269.97 364.79h0M245.02 410.63h0M249.46 417.57h0M257.82 401.11h0M275.24 413.87h0M283.35 374.73h0M279.64 395.78h0M255.87 383.03h0M291.42 380.79h0M286.64 407.64h0M242.14 393.4h0M246.74 394.75h0M261.7 365.72h0M284.82 398.94h0M267.84 366.53h0" stroke="#20246e" stroke-width="1.8" stroke-linecap="round" fill="none"/><path d="M244.78 403.75h0M245.9 380.63h0M244.75 389.17h0M284.65 418.05h0M279.88 394.4h0M284.38 366.27h0M265.18 365.33h0M291.66 383.33h0M264.67 367.21h0M257.58 414.42h0M237.37 391.86h0M282.03 372.74h0M288.49 415.16h0M267.84 382.67h0M261.89 382.4h0M269.53 413.3h0M277.75 375.76h0M282.87 408.32h0M282.45 388.96h0M284.32 406.35h0M265.51 404.88h0M238.13 385.3h0M251.93 419.45h0M285.33 375.98h0M267.68 400.72h0M250.19 386.97h0M236.23 366.58h0M282.39 371.27h0M278.69 365.56h0M265.44 382.94h0M290.97 402.79h0M265.94 384.53h0M236.95 400.7h0" stroke="#2a8ea8" stroke-width="2" stroke-linecap="round" fill="none"/><path d="M250.74 393.4h0M240.92 388.98h0M247.95 417.22h0M283.63 412.13h0M255.35 407.62h0M255.07 393.68h0M246.12 407.58h0M267.68 390.63h0M262.97 419.68h0M234.62 395.49h0M263.76 392.14h0M241.41 412.14h0M245.46 390h0M260.79 404.23h0M267.52 372.39h0M281.55 394.12h0M257.48 364.78h0M283.77 402.85h0M290.77 393.95h0M240.13 388.95h0M254.05 382.27h0M269.71 418.36h0M258.39 379.32h0M277.86 367.12h0M288.2 369.03h0M237.44 414.34h0M291.56 363.5h0M255.64 418h0M250.51 377.78h0M282.03 399.81h0M242.9 416.05h0M278.02 399.82h0M255.75 391.79h0M263.59 418.73h0M275.16 412.73h0M283.75 419.23h0" stroke="#30a0a8" stroke-width="2" stroke-linecap="round" fill="none"/><path d="M275.78 396.89h0M248.07 401.53h0M274.17 374.58h0M291.31 380.16h0M266.26 404.23h0M255.36 415.68h0M241.68 382.66h0M261.86 405.05h0M237.83 374.42h0M285.56 393.78h0M271.92 402.04h0M292.08 374.15h0M283.63 391.22h0M275.34 381.11h0M280.53 411.42h0M274.83 407.25h0M287.61 373.43h0M246.32 393.18h0M240.82 413.85h0M262.48 398.88h0M253.05 375.17h0M274.65 405.24h0M238.07 390.69h0M283.28 389.67h0M284.11 366.01h0M260.37 371.87h0M259.04 411.58h0M244.99 383.87h0M252.08 370.23h0M262.56 373.95h0M267.74 406.46h0M245.11 365.1h0M246.45 370.26h0M263.78 380.72h0M235.98 402.13h0M236.41 416.39h0M278.85 400.16h0M278.23 415.83h0M265.29 370.02h0M263.26 384.67h0M282.37 375.11h0" stroke="#2880b0" stroke-width="2" stroke-linecap="round" fill="none"/></g></g><g clip-path="url(#ce21)"><rect x="293.2" y="362.3" width="58.3" height="57.55" fill="#040404" /><path d="M310.69 401.94h0M294.08 371.71h0M330.41 384.26h0M306.63 367.72h0M302.04 416.41h0M308.77 398.94h0M305.17 412.85h0" stroke="#1e1e1e" stroke-width="1" stroke-linecap="round" fill="none"/><path d="M334.34 380.57h0M316.19 397.81h0M340.88 379.05h0" stroke="#2a2a2a" stroke-width="1" stroke-linecap="round" fill="none"/><path d="M338.12 405.59h0M320.67 382.04h0" stroke="#555555" stroke-width="1" stroke-linecap="round" fill="none"/></g><g clip-path="url(#ce22)"><rect x="352.4" y="362.3" width="58.3" height="57.55" fill="#050a06" /><g filter="url(#bl05)"><path d="M392.77 374.58h0M364.72 407.58h0M360.28 382.66h0M363.35 389.17h0M380.46 405.05h0M383.78 365.33h0M390.52 402.04h0M410.68 374.15h0M376.18 414.42h0M402.23 391.22h0M400.63 372.74h0M364.92 393.18h0M371.65 375.17h0M388.31 418.36h0M380.49 382.4h0M396.35 375.76h0M384.11 404.88h0M406.8 369.03h0M356.73 385.3h0M356.04 414.34h0M403.93 375.98h0M374.24 418h0M377.64 411.58h0M368.79 386.97h0M400.99 371.27h0M396.62 399.82h0M374.35 391.79h0M365.05 370.26h0M382.19 418.73h0M384.04 382.94h0M409.57 402.79h0M354.58 402.13h0M397.45 400.16h0M396.83 415.83h0M400.97 375.11h0" stroke="#239a2e" stroke-width="1.9" stroke-linecap="round" fill="none"/><path d="M369.34 393.4h0M366.55 417.22h0M394.38 396.89h0M409.91 380.16h0M384.86 404.23h0M381.57 419.68h0M364.5 380.63h0M382.36 392.14h0M360.01 412.14h0M403.25 418.05h0M364.06 390h0M379.39 404.23h0M410.26 383.33h0M404.16 393.78h0M400.15 394.12h0M383.27 367.21h0M409.37 393.95h0M358.73 388.95h0M393.94 381.11h0M399.13 411.42h0M393.43 407.25h0M406.21 373.43h0M372.65 382.27h0M359.42 413.85h0M386.44 382.67h0M376.99 379.32h0M388.13 413.3h0M401.05 388.96h0M393.25 405.24h0M370.53 419.45h0M410.16 363.5h0M402.71 366.01h0M378.97 371.87h0M363.59 383.87h0M369.11 377.78h0M386.34 406.46h0M397.29 365.56h0M363.71 365.1h0M355.01 416.39h0M383.89 370.02h0M402.35 419.23h0M381.86 384.67h0" stroke="#2eb03a" stroke-width="1.9" stroke-linecap="round" fill="none"/><path d="M359.52 388.98h0M402.23 412.13h0M366.67 401.53h0M373.95 407.62h0M373.67 393.68h0M386.28 390.63h0M363.38 403.75h0M353.22 395.49h0M373.96 415.68h0M398.48 394.4h0M402.98 366.27h0M386.12 372.39h0M356.43 374.42h0M376.08 364.78h0M402.37 402.85h0M355.97 391.86h0M407.09 415.16h0M381.08 398.88h0M401.47 408.32h0M396.46 367.12h0M356.67 390.69h0M402.92 406.35h0M401.88 389.67h0M370.68 370.23h0M386.28 400.72h0M381.16 373.95h0M400.63 399.81h0M354.83 366.58h0M361.5 416.05h0M382.38 380.72h0M384.54 384.53h0M393.76 412.73h0M355.55 400.7h0" stroke="#1c8026" stroke-width="1.9" stroke-linecap="round" fill="none"/></g></g><g clip-path="url(#ce30)"><rect x="233.8" y="421.2" width="58.3" height="57.55" fill="#04040c" /><g filter="url(#bl05)"><ellipse cx="245.08" cy="436.38" rx="1.17" ry="0.75" fill="#3aa4b0" transform="rotate(125.43 245.08 436.38)" opacity="0.57"/><ellipse cx="261.27" cy="441.12" rx="1.24" ry="0.75" fill="#4a58b8" transform="rotate(132.94 261.27 441.12)" opacity="0.72"/><ellipse cx="287.28" cy="472.7" rx="1.27" ry="0.75" fill="#8890d8" transform="rotate(101.7 287.28 472.7)" opacity="0.74"/><ellipse cx="240.99" cy="462.69" rx="1.71" ry="0.75" fill="#4a58b8" transform="rotate(60.12 240.99 462.69)" opacity="0.46"/><ellipse cx="267.22" cy="468.81" rx="1.61" ry="0.75" fill="#3aa4b0" transform="rotate(15.74 267.22 468.81)" opacity="0.92"/><ellipse cx="247.7" cy="461.26" rx="1.21" ry="0.75" fill="#3aa4b0" transform="rotate(73.09 247.7 461.26)" opacity="0.85"/><ellipse cx="251.33" cy="464.48" rx="1.67" ry="0.75" fill="#3aa4b0" transform="rotate(2.87 251.33 464.48)" opacity="0.8"/><ellipse cx="252.98" cy="448.65" rx="1.9" ry="0.75" fill="#4a58b8" transform="rotate(85.83 252.98 448.65)" opacity="0.86"/><ellipse cx="242.86" cy="473.6" rx="1.29" ry="0.75" fill="#8890d8" transform="rotate(125.98 242.86 473.6)" opacity="0.72"/><ellipse cx="285.97" cy="442.12" rx="1.31" ry="0.75" fill="#3aa4b0" transform="rotate(158.43 285.97 442.12)" opacity="0.85"/><ellipse cx="277.71" cy="477.07" rx="1.48" ry="0.75" fill="#b8bce8" transform="rotate(131.44 277.71 477.07)" opacity="0.91"/><ellipse cx="278.19" cy="450.44" rx="1.75" ry="0.75" fill="#8890d8" transform="rotate(100.05 278.19 450.44)" opacity="0.7"/><ellipse cx="285.37" cy="438.72" rx="1.16" ry="0.75" fill="#4a58b8" transform="rotate(128.05 285.37 438.72)" opacity="0.92"/><ellipse cx="282.59" cy="435.49" rx="1.42" ry="0.75" fill="#b8bce8" transform="rotate(144.33 282.59 435.49)" opacity="0.83"/><ellipse cx="288.9" cy="474" rx="1.69" ry="0.75" fill="#8890d8" transform="rotate(173.13 288.9 474)" opacity="0.63"/><ellipse cx="272.89" cy="444.23" rx="1.86" ry="0.75" fill="#8890d8" transform="rotate(89.78 272.89 444.23)" opacity="0.73"/><ellipse cx="262.69" cy="430.31" rx="1.51" ry="0.75" fill="#4a58b8" transform="rotate(61.15 262.69 430.31)" opacity="0.6"/><ellipse cx="267.21" cy="459.55" rx="1.26" ry="0.75" fill="#b8bce8" transform="rotate(1.32 267.21 459.55)" opacity="0.69"/><ellipse cx="261.05" cy="425.66" rx="1.34" ry="0.75" fill="#4a58b8" transform="rotate(45.9 261.05 425.66)" opacity="0.9"/><ellipse cx="268.58" cy="444.87" rx="1.4" ry="0.75" fill="#b8bce8" transform="rotate(22.97 268.58 444.87)" opacity="0.73"/><ellipse cx="260.06" cy="475.91" rx="1.17" ry="0.75" fill="#4a58b8" transform="rotate(98.02 260.06 475.91)" opacity="0.82"/><ellipse cx="276.06" cy="444.99" rx="1.7" ry="0.75" fill="#8890d8" transform="rotate(14.05 276.06 444.99)" opacity="0.89"/><ellipse cx="275.27" cy="469.23" rx="1.73" ry="0.75" fill="#4a58b8" transform="rotate(162.4 275.27 469.23)" opacity="0.85"/><ellipse cx="267.67" cy="460.95" rx="1.74" ry="0.75" fill="#3aa4b0" transform="rotate(61.18 267.67 460.95)" opacity="0.52"/><ellipse cx="259.37" cy="431.4" rx="1.11" ry="0.75" fill="#4a58b8" transform="rotate(16.59 259.37 431.4)" opacity="0.95"/><ellipse cx="236.41" cy="447.09" rx="1.38" ry="0.75" fill="#8890d8" transform="rotate(24.1 236.41 447.09)" opacity="0.94"/><ellipse cx="277.06" cy="470.38" rx="1.59" ry="0.75" fill="#4a58b8" transform="rotate(135.36 277.06 470.38)" opacity="0.77"/><ellipse cx="256.37" cy="477.36" rx="1.63" ry="0.75" fill="#3aa4b0" transform="rotate(46.74 256.37 477.36)" opacity="0.98"/><ellipse cx="283.54" cy="477.14" rx="1.25" ry="0.75" fill="#4a58b8" transform="rotate(160.35 283.54 477.14)" opacity="0.87"/><ellipse cx="291.54" cy="462.79" rx="1.33" ry="0.75" fill="#4a58b8" transform="rotate(91.13 291.54 462.79)" opacity="0.92"/><ellipse cx="255.32" cy="462.93" rx="1.48" ry="0.75" fill="#4a58b8" transform="rotate(64.15 255.32 462.93)" opacity="0.87"/><ellipse cx="249.47" cy="456.19" rx="1.33" ry="0.75" fill="#b8bce8" transform="rotate(71.44 249.47 456.19)" opacity="0.7"/><ellipse cx="249.82" cy="431.81" rx="1.2" ry="0.75" fill="#8890d8" transform="rotate(20.25 249.82 431.81)" opacity="0.92"/><ellipse cx="254.8" cy="473.24" rx="1.34" ry="0.75" fill="#3aa4b0" transform="rotate(155.51 254.8 473.24)" opacity="0.99"/><ellipse cx="237.68" cy="435.57" rx="1.77" ry="0.75" fill="#3aa4b0" transform="rotate(90.43 237.68 435.57)" opacity="0.46"/><ellipse cx="266.7" cy="465.08" rx="1.21" ry="0.75" fill="#4a58b8" transform="rotate(148.13 266.7 465.08)" opacity="0.73"/><ellipse cx="274.55" cy="471.35" rx="1.77" ry="0.75" fill="#b8bce8" transform="rotate(160.15 274.55 471.35)" opacity="0.78"/><ellipse cx="271.75" cy="438.46" rx="1.2" ry="0.75" fill="#4a58b8" transform="rotate(147.61 271.75 438.46)" opacity="0.49"/><ellipse cx="255.05" cy="428.48" rx="1.44" ry="0.75" fill="#4a58b8" transform="rotate(145.9 255.05 428.48)" opacity="0.84"/><ellipse cx="280.09" cy="464.4" rx="1.48" ry="0.75" fill="#b8bce8" transform="rotate(53.2 280.09 464.4)" opacity="0.72"/><ellipse cx="246.16" cy="471.34" rx="1.15" ry="0.75" fill="#8890d8" transform="rotate(113.51 246.16 471.34)" opacity="0.83"/><ellipse cx="285.46" cy="466.05" rx="1.69" ry="0.75" fill="#b8bce8" transform="rotate(92.7 285.46 466.05)" opacity="0.77"/><ellipse cx="265.96" cy="436.45" rx="1.1" ry="0.75" fill="#b8bce8" transform="rotate(39.04 265.96 436.45)" opacity="0.89"/><ellipse cx="264.16" cy="471.29" rx="1.47" ry="0.75" fill="#4a58b8" transform="rotate(129.49 264.16 471.29)" opacity="0.57"/><ellipse cx="263.5" cy="460.81" rx="1.64" ry="0.75" fill="#4a58b8" transform="rotate(158.61 263.5 460.81)" opacity="0.73"/><ellipse cx="240.77" cy="436.11" rx="1.87" ry="0.75" fill="#b8bce8" transform="rotate(56.45 240.77 436.11)" opacity="0.64"/><ellipse cx="260.84" cy="435.3" rx="1.23" ry="0.75" fill="#3aa4b0" transform="rotate(55.96 260.84 435.3)" opacity="0.74"/><ellipse cx="270.48" cy="476.38" rx="1.66" ry="0.75" fill="#3aa4b0" transform="rotate(67.56 270.48 476.38)" opacity="0.93"/><ellipse cx="261.42" cy="455.75" rx="1.82" ry="0.75" fill="#b8bce8" transform="rotate(78.95 261.42 455.75)" opacity="0.65"/><ellipse cx="287.24" cy="465.3" rx="1.15" ry="0.75" fill="#4a58b8" transform="rotate(31.64 287.24 465.3)" opacity="0.65"/></g><circle cx="288.02" cy="432.71" r="1.8" fill="#ffffff" opacity="0.8" filter="url(#bl05)"/></g><g clip-path="url(#ce31)"><rect x="293.2" y="421.2" width="58.3" height="57.55" fill="#040404" /><g filter="url(#bl05)"><ellipse cx="304.48" cy="436.38" rx="1.17" ry="0.75" fill="#8a8a8a" transform="rotate(125.43 304.48 436.38)" opacity="0.57"/><ellipse cx="320.67" cy="441.12" rx="1.24" ry="0.75" fill="#707070" transform="rotate(132.94 320.67 441.12)" opacity="0.72"/><ellipse cx="346.68" cy="472.7" rx="1.27" ry="0.75" fill="#9a9a9a" transform="rotate(101.7 346.68 472.7)" opacity="0.74"/><ellipse cx="300.39" cy="462.69" rx="1.71" ry="0.75" fill="#707070" transform="rotate(60.12 300.39 462.69)" opacity="0.46"/><ellipse cx="326.62" cy="468.81" rx="1.61" ry="0.75" fill="#8a8a8a" transform="rotate(15.74 326.62 468.81)" opacity="0.92"/><ellipse cx="307.1" cy="461.26" rx="1.21" ry="0.75" fill="#8a8a8a" transform="rotate(73.09 307.1 461.26)" opacity="0.85"/><ellipse cx="310.73" cy="464.48" rx="1.67" ry="0.75" fill="#8a8a8a" transform="rotate(2.87 310.73 464.48)" opacity="0.8"/><ellipse cx="312.38" cy="448.65" rx="1.9" ry="0.75" fill="#707070" transform="rotate(85.83 312.38 448.65)" opacity="0.86"/><ellipse cx="302.26" cy="473.6" rx="1.29" ry="0.75" fill="#9a9a9a" transform="rotate(125.98 302.26 473.6)" opacity="0.72"/><ellipse cx="345.37" cy="442.12" rx="1.31" ry="0.75" fill="#8a8a8a" transform="rotate(158.43 345.37 442.12)" opacity="0.85"/><ellipse cx="337.11" cy="477.07" rx="1.48" ry="0.75" fill="#c0c0c0" transform="rotate(131.44 337.11 477.07)" opacity="0.91"/><ellipse cx="337.59" cy="450.44" rx="1.75" ry="0.75" fill="#9a9a9a" transform="rotate(100.05 337.59 450.44)" opacity="0.7"/><ellipse cx="344.77" cy="438.72" rx="1.16" ry="0.75" fill="#707070" transform="rotate(128.05 344.77 438.72)" opacity="0.92"/><ellipse cx="341.99" cy="435.49" rx="1.42" ry="0.75" fill="#c0c0c0" transform="rotate(144.33 341.99 435.49)" opacity="0.83"/><ellipse cx="348.3" cy="474" rx="1.69" ry="0.75" fill="#9a9a9a" transform="rotate(173.13 348.3 474)" opacity="0.63"/><ellipse cx="332.29" cy="444.23" rx="1.86" ry="0.75" fill="#9a9a9a" transform="rotate(89.78 332.29 444.23)" opacity="0.73"/><ellipse cx="322.09" cy="430.31" rx="1.51" ry="0.75" fill="#707070" transform="rotate(61.15 322.09 430.31)" opacity="0.6"/><ellipse cx="326.61" cy="459.55" rx="1.26" ry="0.75" fill="#c0c0c0" transform="rotate(1.32 326.61 459.55)" opacity="0.69"/><ellipse cx="320.45" cy="425.66" rx="1.34" ry="0.75" fill="#707070" transform="rotate(45.9 320.45 425.66)" opacity="0.9"/><ellipse cx="327.98" cy="444.87" rx="1.4" ry="0.75" fill="#c0c0c0" transform="rotate(22.97 327.98 444.87)" opacity="0.73"/><ellipse cx="319.46" cy="475.91" rx="1.17" ry="0.75" fill="#707070" transform="rotate(98.02 319.46 475.91)" opacity="0.82"/><ellipse cx="335.46" cy="444.99" rx="1.7" ry="0.75" fill="#9a9a9a" transform="rotate(14.05 335.46 444.99)" opacity="0.89"/><ellipse cx="334.67" cy="469.23" rx="1.73" ry="0.75" fill="#707070" transform="rotate(162.4 334.67 469.23)" opacity="0.85"/><ellipse cx="327.07" cy="460.95" rx="1.74" ry="0.75" fill="#8a8a8a" transform="rotate(61.18 327.07 460.95)" opacity="0.52"/><ellipse cx="318.77" cy="431.4" rx="1.11" ry="0.75" fill="#707070" transform="rotate(16.59 318.77 431.4)" opacity="0.95"/><ellipse cx="295.81" cy="447.09" rx="1.38" ry="0.75" fill="#9a9a9a" transform="rotate(24.1 295.81 447.09)" opacity="0.94"/><ellipse cx="336.46" cy="470.38" rx="1.59" ry="0.75" fill="#707070" transform="rotate(135.36 336.46 470.38)" opacity="0.77"/><ellipse cx="315.77" cy="477.36" rx="1.63" ry="0.75" fill="#8a8a8a" transform="rotate(46.74 315.77 477.36)" opacity="0.98"/><ellipse cx="342.94" cy="477.14" rx="1.25" ry="0.75" fill="#707070" transform="rotate(160.35 342.94 477.14)" opacity="0.87"/><ellipse cx="350.94" cy="462.79" rx="1.33" ry="0.75" fill="#707070" transform="rotate(91.13 350.94 462.79)" opacity="0.92"/><ellipse cx="314.72" cy="462.93" rx="1.48" ry="0.75" fill="#707070" transform="rotate(64.15 314.72 462.93)" opacity="0.87"/><ellipse cx="308.87" cy="456.19" rx="1.33" ry="0.75" fill="#c0c0c0" transform="rotate(71.44 308.87 456.19)" opacity="0.7"/><ellipse cx="309.22" cy="431.81" rx="1.2" ry="0.75" fill="#9a9a9a" transform="rotate(20.25 309.22 431.81)" opacity="0.92"/><ellipse cx="314.2" cy="473.24" rx="1.34" ry="0.75" fill="#8a8a8a" transform="rotate(155.51 314.2 473.24)" opacity="0.99"/><ellipse cx="297.08" cy="435.57" rx="1.77" ry="0.75" fill="#8a8a8a" transform="rotate(90.43 297.08 435.57)" opacity="0.46"/><ellipse cx="326.1" cy="465.08" rx="1.21" ry="0.75" fill="#707070" transform="rotate(148.13 326.1 465.08)" opacity="0.73"/><ellipse cx="333.95" cy="471.35" rx="1.77" ry="0.75" fill="#c0c0c0" transform="rotate(160.15 333.95 471.35)" opacity="0.78"/><ellipse cx="331.15" cy="438.46" rx="1.2" ry="0.75" fill="#707070" transform="rotate(147.61 331.15 438.46)" opacity="0.49"/><ellipse cx="314.45" cy="428.48" rx="1.44" ry="0.75" fill="#707070" transform="rotate(145.9 314.45 428.48)" opacity="0.84"/><ellipse cx="339.49" cy="464.4" rx="1.48" ry="0.75" fill="#c0c0c0" transform="rotate(53.2 339.49 464.4)" opacity="0.72"/><ellipse cx="305.56" cy="471.34" rx="1.15" ry="0.75" fill="#9a9a9a" transform="rotate(113.51 305.56 471.34)" opacity="0.83"/><ellipse cx="344.86" cy="466.05" rx="1.69" ry="0.75" fill="#c0c0c0" transform="rotate(92.7 344.86 466.05)" opacity="0.77"/><ellipse cx="325.36" cy="436.45" rx="1.1" ry="0.75" fill="#c0c0c0" transform="rotate(39.04 325.36 436.45)" opacity="0.89"/><ellipse cx="323.56" cy="471.29" rx="1.47" ry="0.75" fill="#707070" transform="rotate(129.49 323.56 471.29)" opacity="0.57"/><ellipse cx="322.9" cy="460.81" rx="1.64" ry="0.75" fill="#707070" transform="rotate(158.61 322.9 460.81)" opacity="0.73"/><ellipse cx="300.17" cy="436.11" rx="1.87" ry="0.75" fill="#c0c0c0" transform="rotate(56.45 300.17 436.11)" opacity="0.64"/><ellipse cx="320.24" cy="435.3" rx="1.23" ry="0.75" fill="#8a8a8a" transform="rotate(55.96 320.24 435.3)" opacity="0.74"/><ellipse cx="329.88" cy="476.38" rx="1.66" ry="0.75" fill="#8a8a8a" transform="rotate(67.56 329.88 476.38)" opacity="0.93"/><ellipse cx="320.82" cy="455.75" rx="1.82" ry="0.75" fill="#c0c0c0" transform="rotate(78.95 320.82 455.75)" opacity="0.65"/><ellipse cx="346.64" cy="465.3" rx="1.15" ry="0.75" fill="#707070" transform="rotate(31.64 346.64 465.3)" opacity="0.65"/></g><circle cx="347.42" cy="432.71" r="1.8" fill="#ffffff" opacity="0.8" filter="url(#bl05)"/></g><g clip-path="url(#ce32)"><rect x="352.4" y="421.2" width="58.3" height="57.55" fill="#050a06" /><g filter="url(#bl05)"><path d="M362.69 444.78h0M375.16 448.92h0" stroke="#1e8a2a" stroke-width="1.9" stroke-linecap="round" fill="none"/><path d="M408.75 427.68h0M407.58 425.97h0M359.51 466.85h0M354.88 447.41h0M357.22 445.76h0" stroke="#2aa036" stroke-width="1.9" stroke-linecap="round" fill="none"/><path d="M385.08 446.29h0M398.45 471.25h0M409.65 433.51h0M386.58 447.89h0" stroke="#186c22" stroke-width="1.9" stroke-linecap="round" fill="none"/></g></g><rect x="400.7" y="474.4" width="8.1" height="1.5" fill="#ffffff" /><text x="53.2" y="229.8" font-size="8.6" text-anchor="middle" fill="#e3262b">O4<tspan fill="#222">/</tspan></text><text x="53.2" y="240.6" font-size="8.6" text-anchor="middle" fill="#222">SOX10/<tspan fill="#1aa3e0">DAPI</tspan></text><text x="112.4" y="240.6" font-size="8.6" text-anchor="middle">SOX10</text><text x="171.8" y="240.6" font-size="8.6" text-anchor="middle" fill="#e3262b">O4</text><text x="263" y="229.8" font-size="8.6" text-anchor="middle" fill="#1fa24a">EdU<tspan fill="#222">/</tspan></text><text x="263" y="240.6" font-size="8.6" text-anchor="middle" fill="#222">SOX10/<tspan fill="#1aa3e0">DAPI</tspan></text><text x="322.4" y="240.6" font-size="8.6" text-anchor="middle">SOX10</text><text x="381.6" y="240.6" font-size="8.6" text-anchor="middle" fill="#1fa24a">EdU</text><text transform="translate(20.9,273.27) rotate(-90)" font-size="8.8" text-anchor="middle">Control</text><text transform="translate(230.7,272.27) rotate(-90)" font-size="8.8" text-anchor="middle">Control</text><text transform="translate(20.9,332.17) rotate(-90)" font-size="8.8" text-anchor="middle">SOX10 OE</text><text transform="translate(230.7,331.17) rotate(-90)" font-size="8.8" text-anchor="middle">SOX10 OE</text><text transform="translate(20.9,391.07) rotate(-90)" font-size="8.8" text-anchor="middle">Control</text><text transform="translate(230.7,390.07) rotate(-90)" font-size="8.8" text-anchor="middle">Control</text><text transform="translate(20.9,449.97) rotate(-90)" font-size="8.8" text-anchor="middle">SOX10 OE</text><text transform="translate(230.7,448.97) rotate(-90)" font-size="8.8" text-anchor="middle">SOX10 OE</text><text transform="translate(6.7,302.6) rotate(-90)" font-size="8.9" text-anchor="middle">G144</text><text transform="translate(6.8,419.7) rotate(-90)" font-size="8.9" text-anchor="middle">G26</text><text transform="translate(217.2,300.3) rotate(-90)" font-size="8.9" text-anchor="middle">G179</text><text transform="translate(217.1,415.1) rotate(-90)" font-size="8.9" text-anchor="middle">GCGR-E17</text><line x1="455.5" y1="252.6" x2="455.5" y2="351.4" stroke="#555" stroke-width="0.8" /><line x1="453.2" y1="351.4" x2="455.5" y2="351.4" stroke="#555" stroke-width="0.8" /><text x="452.3" y="354.1" font-size="7.6" text-anchor="end">0</text><line x1="453.2" y1="326.7" x2="455.5" y2="326.7" stroke="#555" stroke-width="0.8" /><text x="452.3" y="329.4" font-size="7.6" text-anchor="end">10</text><line x1="453.2" y1="302" x2="455.5" y2="302" stroke="#555" stroke-width="0.8" /><text x="452.3" y="304.7" font-size="7.6" text-anchor="end">20</text><line x1="453.2" y1="277.3" x2="455.5" y2="277.3" stroke="#555" stroke-width="0.8" /><text x="452.3" y="280" font-size="7.6" text-anchor="end">30</text><line x1="453.2" y1="252.6" x2="455.5" y2="252.6" stroke="#555" stroke-width="0.8" /><text x="452.3" y="255.3" font-size="7.6" text-anchor="end">40</text><line x1="455.5" y1="351.4" x2="685" y2="351.4" stroke="#555" stroke-width="0.8" /><rect x="458.3" y="347.69" width="4.5" height="3.71" fill="#7a7a7a" stroke="#222" stroke-width="0.6" /><circle cx="460.15" cy="348.8" r="0.95" fill="#ddd" stroke="#222" stroke-width="0.6"/><circle cx="462.04" cy="347.07" r="0.95" fill="#ddd" stroke="#222" stroke-width="0.6"/><circle cx="460.38" cy="348.05" r="0.95" fill="#ddd" stroke="#222" stroke-width="0.6"/><circle cx="461.22" cy="342.41" r="0.95" fill="#ddd" stroke="#222" stroke-width="0.6"/><circle cx="460.46" cy="343.48" r="0.95" fill="#ddd" stroke="#222" stroke-width="0.6"/><circle cx="460.25" cy="347.11" r="0.95" fill="#ddd" stroke="#222" stroke-width="0.6"/><circle cx="461.46" cy="342.51" r="0.95" fill="#ddd" stroke="#222" stroke-width="0.6"/><rect x="465.5" y="343.5" width="4.5" height="7.9" fill="#e84848" stroke="#3a1a1a" stroke-width="0.6" /><line x1="467.75" y1="343.5" x2="467.75" y2="341.03" stroke="#333" stroke-width="0.5" /><line x1="466.7" y1="341.03" x2="468.8" y2="341.03" stroke="#333" stroke-width="0.5" /><circle cx="468.41" cy="348.93" r="0.95" fill="#d86060" stroke="#5a1010" stroke-width="0.55"/><circle cx="468.28" cy="346.46" r="0.95" fill="#d86060" stroke="#5a1010" stroke-width="0.55"/><circle cx="468.6" cy="343.99" r="0.95" fill="#d86060" stroke="#5a1010" stroke-width="0.55"/><circle cx="468.84" cy="341.52" r="0.95" fill="#d86060" stroke="#5a1010" stroke-width="0.55"/><circle cx="468.93" cy="341.03" r="0.95" fill="#d86060" stroke="#5a1010" stroke-width="0.55"/><circle cx="467.83" cy="342.75" r="0.95" fill="#d86060" stroke="#5a1010" stroke-width="0.55"/><line x1="464.2" y1="351.4" x2="464.2" y2="354" stroke="#555" stroke-width="0.8" /><text transform="translate(467,359.6) rotate(-45)" font-size="7.8" text-anchor="end">G7</text><rect x="477.52" y="348.44" width="4.5" height="2.96" fill="#7a7a7a" stroke="#222" stroke-width="0.6" /><circle cx="479.43" cy="351.34" r="0.95" fill="#ddd" stroke="#222" stroke-width="0.6"/><circle cx="479.85" cy="348.42" r="0.95" fill="#ddd" stroke="#222" stroke-width="0.6"/><circle cx="478.27" cy="343.06" r="0.95" fill="#ddd" stroke="#222" stroke-width="0.6"/><circle cx="479.19" cy="343.57" r="0.95" fill="#ddd" stroke="#222" stroke-width="0.6"/><circle cx="478.32" cy="348.38" r="0.95" fill="#ddd" stroke="#222" stroke-width="0.6"/><circle cx="480.62" cy="345.75" r="0.95" fill="#ddd" stroke="#222" stroke-width="0.6"/><circle cx="480.29" cy="347.3" r="0.95" fill="#ddd" stroke="#222" stroke-width="0.6"/><rect x="484.72" y="331.64" width="4.5" height="19.76" fill="#e84848" stroke="#3a1a1a" stroke-width="0.6" /><line x1="486.97" y1="331.64" x2="486.97" y2="327.19" stroke="#333" stroke-width="0.5" /><line x1="485.92" y1="327.19" x2="488.02" y2="327.19" stroke="#333" stroke-width="0.5" /><circle cx="485.91" cy="303.98" r="0.95" fill="#d86060" stroke="#5a1010" stroke-width="0.55"/><circle cx="487.83" cy="317.81" r="0.95" fill="#d86060" stroke="#5a1010" stroke-width="0.55"/><circle cx="487.65" cy="325.96" r="0.95" fill="#d86060" stroke="#5a1010" stroke-width="0.55"/><circle cx="486.91" cy="327.93" r="0.95" fill="#d86060" stroke="#5a1010" stroke-width="0.55"/><circle cx="487.13" cy="331.64" r="0.95" fill="#d86060" stroke="#5a1010" stroke-width="0.55"/><circle cx="487.76" cy="336.58" r="0.95" fill="#d86060" stroke="#5a1010" stroke-width="0.55"/><circle cx="486.96" cy="341.52" r="0.95" fill="#d86060" stroke="#5a1010" stroke-width="0.55"/><circle cx="486.91" cy="343.99" r="0.95" fill="#d86060" stroke="#5a1010" stroke-width="0.55"/><circle cx="486.93" cy="346.46" r="0.95" fill="#d86060" stroke="#5a1010" stroke-width="0.55"/><line x1="483.42" y1="351.4" x2="483.42" y2="354" stroke="#555" stroke-width="0.8" /><text transform="translate(486.22,359.6) rotate(-45)" font-size="7.8" text-anchor="end">G144</text><circle cx="497.59" cy="351.4" r="0.95" fill="#ddd" stroke="#222" stroke-width="0.6"/><circle cx="498.99" cy="351.4" r="0.95" fill="#ddd" stroke="#222" stroke-width="0.6"/><circle cx="500.39" cy="351.4" r="0.95" fill="#ddd" stroke="#222" stroke-width="0.6"/><rect x="503.94" y="343.25" width="4.5" height="8.15" fill="#e84848" stroke="#3a1a1a" stroke-width="0.6" /><line x1="506.19" y1="343.25" x2="506.19" y2="339.54" stroke="#333" stroke-width="0.5" /><line x1="505.14" y1="339.54" x2="507.24" y2="339.54" stroke="#333" stroke-width="0.5" /><circle cx="506.8" cy="316.82" r="0.95" fill="#d86060" stroke="#5a1010" stroke-width="0.55"/><circle cx="506.8" cy="325.46" r="0.95" fill="#d86060" stroke="#5a1010" stroke-width="0.55"/><circle cx="505.76" cy="338.31" r="0.95" fill="#d86060" stroke="#5a1010" stroke-width="0.55"/><circle cx="506.91" cy="340.28" r="0.95" fill="#d86060" stroke="#5a1010" stroke-width="0.55"/><circle cx="505.87" cy="343.99" r="0.95" fill="#d86060" stroke="#5a1010" stroke-width="0.55"/><circle cx="506.64" cy="346.46" r="0.95" fill="#d86060" stroke="#5a1010" stroke-width="0.55"/><circle cx="505.87" cy="348.93" r="0.95" fill="#d86060" stroke="#5a1010" stroke-width="0.55"/><line x1="502.64" y1="351.4" x2="502.64" y2="354" stroke="#555" stroke-width="0.8" /><text transform="translate(505.44,359.6) rotate(-45)" font-size="7.8" text-anchor="end">G25</text><circle cx="516.81" cy="351.4" r="0.95" fill="#ddd" stroke="#222" stroke-width="0.6"/><circle cx="518.21" cy="351.4" r="0.95" fill="#ddd" stroke="#222" stroke-width="0.6"/><circle cx="519.61" cy="351.4" r="0.95" fill="#ddd" stroke="#222" stroke-width="0.6"/><rect x="523.16" y="350.16" width="4.5" height="1.24" fill="#e84848" stroke="#3a1a1a" stroke-width="0.6" /><line x1="525.41" y1="350.16" x2="525.41" y2="349.18" stroke="#333" stroke-width="0.5" /><line x1="524.36" y1="349.18" x2="526.46" y2="349.18" stroke="#333" stroke-width="0.5" /><circle cx="526.45" cy="348.44" r="0.95" fill="#d86060" stroke="#5a1010" stroke-width="0.55"/><circle cx="526.55" cy="350.66" r="0.95" fill="#d86060" stroke="#5a1010" stroke-width="0.55"/><circle cx="526.13" cy="351.4" r="0.95" fill="#d86060" stroke="#5a1010" stroke-width="0.55"/><line x1="521.86" y1="351.4" x2="521.86" y2="354" stroke="#555" stroke-width="0.8" /><text transform="translate(524.66,359.6) rotate(-45)" font-size="7.8" text-anchor="end">G166</text><circle cx="536.03" cy="351.4" r="0.95" fill="#ddd" stroke="#222" stroke-width="0.6"/><circle cx="537.43" cy="351.4" r="0.95" fill="#ddd" stroke="#222" stroke-width="0.6"/><circle cx="538.83" cy="351.4" r="0.95" fill="#ddd" stroke="#222" stroke-width="0.6"/><rect x="542.38" y="315.09" width="4.5" height="36.31" fill="#e84848" stroke="#3a1a1a" stroke-width="0.6" /><line x1="544.63" y1="315.09" x2="544.63" y2="311.63" stroke="#333" stroke-width="0.5" /><line x1="543.58" y1="311.63" x2="545.68" y2="311.63" stroke="#333" stroke-width="0.5" /><circle cx="544.32" cy="309.41" r="0.95" fill="#d86060" stroke="#5a1010" stroke-width="0.55"/><circle cx="544.24" cy="310.4" r="0.95" fill="#d86060" stroke="#5a1010" stroke-width="0.55"/><circle cx="544.46" cy="326.7" r="0.95" fill="#d86060" stroke="#5a1010" stroke-width="0.55"/><line x1="541.08" y1="351.4" x2="541.08" y2="354" stroke="#555" stroke-width="0.8" /><text transform="translate(543.88,359.6) rotate(-45)" font-size="7.8" text-anchor="end">G26</text><circle cx="555.25" cy="351.4" r="0.95" fill="#ddd" stroke="#222" stroke-width="0.6"/><circle cx="556.65" cy="351.4" r="0.95" fill="#ddd" stroke="#222" stroke-width="0.6"/><circle cx="558.05" cy="351.4" r="0.95" fill="#ddd" stroke="#222" stroke-width="0.6"/><rect x="561.6" y="341.52" width="4.5" height="9.88" fill="#e84848" stroke="#3a1a1a" stroke-width="0.6" /><line x1="563.85" y1="341.52" x2="563.85" y2="337.81" stroke="#333" stroke-width="0.5" /><line x1="562.8" y1="337.81" x2="564.9" y2="337.81" stroke="#333" stroke-width="0.5" /><circle cx="564.12" cy="324.23" r="0.95" fill="#d86060" stroke="#5a1010" stroke-width="0.55"/><circle cx="562.64" cy="332.88" r="0.95" fill="#d86060" stroke="#5a1010" stroke-width="0.55"/><circle cx="563.97" cy="339.05" r="0.95" fill="#d86060" stroke="#5a1010" stroke-width="0.55"/><circle cx="564.96" cy="343.99" r="0.95" fill="#d86060" stroke="#5a1010" stroke-width="0.55"/><circle cx="562.72" cy="346.46" r="0.95" fill="#d86060" stroke="#5a1010" stroke-width="0.55"/><line x1="560.3" y1="351.4" x2="560.3" y2="354" stroke="#555" stroke-width="0.8" /><text transform="translate(563.1,359.6) rotate(-45)" font-size="7.8" text-anchor="end">G21</text><circle cx="574.47" cy="351.4" r="0.95" fill="#ddd" stroke="#222" stroke-width="0.6"/><circle cx="575.87" cy="351.4" r="0.95" fill="#ddd" stroke="#222" stroke-width="0.6"/><circle cx="577.27" cy="351.4" r="0.95" fill="#ddd" stroke="#222" stroke-width="0.6"/><rect x="580.82" y="348.44" width="4.5" height="2.96" fill="#e84848" stroke="#3a1a1a" stroke-width="0.6" /><line x1="583.07" y1="348.44" x2="583.07" y2="346.46" stroke="#333" stroke-width="0.5" /><line x1="582.02" y1="346.46" x2="584.12" y2="346.46" stroke="#333" stroke-width="0.5" /><circle cx="584.09" cy="335.34" r="0.95" fill="#d86060" stroke="#5a1010" stroke-width="0.55"/><circle cx="583.26" cy="341.52" r="0.95" fill="#d86060" stroke="#5a1010" stroke-width="0.55"/><circle cx="584.36" cy="345.22" r="0.95" fill="#d86060" stroke="#5a1010" stroke-width="0.55"/><circle cx="583.65" cy="348.93" r="0.95" fill="#d86060" stroke="#5a1010" stroke-width="0.55"/><line x1="579.52" y1="351.4" x2="579.52" y2="354" stroke="#555" stroke-width="0.8" /><text transform="translate(582.32,359.6) rotate(-45)" font-size="7.8" text-anchor="end">G179</text><circle cx="593.69" cy="351.4" r="0.95" fill="#ddd" stroke="#222" stroke-width="0.6"/><circle cx="595.09" cy="351.4" r="0.95" fill="#ddd" stroke="#222" stroke-width="0.6"/><circle cx="596.49" cy="351.4" r="0.95" fill="#ddd" stroke="#222" stroke-width="0.6"/><rect x="600.04" y="350.91" width="4.5" height="0.6" fill="#e84848" stroke="#3a1a1a" stroke-width="0.6" /><line x1="602.29" y1="350.91" x2="602.29" y2="350.66" stroke="#333" stroke-width="0.5" /><line x1="601.24" y1="350.66" x2="603.34" y2="350.66" stroke="#333" stroke-width="0.5" /><circle cx="602.86" cy="351.4" r="0.95" fill="#d86060" stroke="#5a1010" stroke-width="0.55"/><circle cx="602.95" cy="351.15" r="0.95" fill="#d86060" stroke="#5a1010" stroke-width="0.55"/><line x1="598.74" y1="351.4" x2="598.74" y2="354" stroke="#555" stroke-width="0.8" /><text transform="translate(601.54,359.6) rotate(-45)" font-size="7.8" text-anchor="end">GCGR-E17</text><circle cx="612.91" cy="351.4" r="0.95" fill="#ddd" stroke="#222" stroke-width="0.6"/><circle cx="614.31" cy="351.4" r="0.95" fill="#ddd" stroke="#222" stroke-width="0.6"/><circle cx="615.71" cy="351.4" r="0.95" fill="#ddd" stroke="#222" stroke-width="0.6"/><rect x="619.26" y="350.66" width="4.5" height="0.74" fill="#e84848" stroke="#3a1a1a" stroke-width="0.6" /><line x1="621.51" y1="350.66" x2="621.51" y2="350.41" stroke="#333" stroke-width="0.5" /><line x1="620.46" y1="350.41" x2="622.56" y2="350.41" stroke="#333" stroke-width="0.5" /><circle cx="621.31" cy="351.4" r="0.95" fill="#d86060" stroke="#5a1010" stroke-width="0.55"/><circle cx="620.52" cy="351.15" r="0.95" fill="#d86060" stroke="#5a1010" stroke-width="0.55"/><line x1="617.96" y1="351.4" x2="617.96" y2="354" stroke="#555" stroke-width="0.8" /><text transform="translate(620.76,359.6) rotate(-45)" font-size="7.8" text-anchor="end">GCGR-E27</text><circle cx="632.13" cy="351.4" r="0.95" fill="#ddd" stroke="#222" stroke-width="0.6"/><circle cx="633.53" cy="351.4" r="0.95" fill="#ddd" stroke="#222" stroke-width="0.6"/><circle cx="634.93" cy="351.4" r="0.95" fill="#ddd" stroke="#222" stroke-width="0.6"/><rect x="638.48" y="350.66" width="4.5" height="0.74" fill="#e84848" stroke="#3a1a1a" stroke-width="0.6" /><line x1="640.73" y1="350.66" x2="640.73" y2="350.41" stroke="#333" stroke-width="0.5" /><line x1="639.68" y1="350.41" x2="641.78" y2="350.41" stroke="#333" stroke-width="0.5" /><circle cx="641.65" cy="351.4" r="0.95" fill="#d86060" stroke="#5a1010" stroke-width="0.55"/><circle cx="641.71" cy="351.15" r="0.95" fill="#d86060" stroke="#5a1010" stroke-width="0.55"/><line x1="637.18" y1="351.4" x2="637.18" y2="354" stroke="#555" stroke-width="0.8" /><text transform="translate(639.98,359.6) rotate(-45)" font-size="7.8" text-anchor="end">GCGR-E13</text><circle cx="651.35" cy="351.4" r="0.95" fill="#ddd" stroke="#222" stroke-width="0.6"/><circle cx="652.75" cy="351.4" r="0.95" fill="#ddd" stroke="#222" stroke-width="0.6"/><circle cx="654.15" cy="351.4" r="0.95" fill="#ddd" stroke="#222" stroke-width="0.6"/><rect x="657.7" y="351.15" width="4.5" height="0.6" fill="#e84848" stroke="#3a1a1a" stroke-width="0.6" /><line x1="659.95" y1="351.15" x2="659.95" y2="350.41" stroke="#333" stroke-width="0.5" /><line x1="658.9" y1="350.41" x2="661" y2="350.41" stroke="#333" stroke-width="0.5" /><circle cx="660.53" cy="345.22" r="0.95" fill="#d86060" stroke="#5a1010" stroke-width="0.55"/><circle cx="659.22" cy="351.4" r="0.95" fill="#d86060" stroke="#5a1010" stroke-width="0.55"/><line x1="656.4" y1="351.4" x2="656.4" y2="354" stroke="#555" stroke-width="0.8" /><text transform="translate(659.2,359.6) rotate(-45)" font-size="7.8" text-anchor="end">GCGR-E15</text><circle cx="670.57" cy="351.4" r="0.95" fill="#ddd" stroke="#222" stroke-width="0.6"/><circle cx="671.97" cy="351.4" r="0.95" fill="#ddd" stroke="#222" stroke-width="0.6"/><circle cx="673.37" cy="351.4" r="0.95" fill="#ddd" stroke="#222" stroke-width="0.6"/><rect x="676.92" y="312.13" width="4.5" height="39.27" fill="#e84848" stroke="#3a1a1a" stroke-width="0.6" /><line x1="679.17" y1="312.13" x2="679.17" y2="304.72" stroke="#333" stroke-width="0.5" /><line x1="678.12" y1="304.72" x2="680.22" y2="304.72" stroke="#333" stroke-width="0.5" /><circle cx="679.17" cy="278.53" r="0.95" fill="#d86060" stroke="#5a1010" stroke-width="0.55"/><circle cx="679.21" cy="284.71" r="0.95" fill="#d86060" stroke="#5a1010" stroke-width="0.55"/><circle cx="678.82" cy="292.12" r="0.95" fill="#d86060" stroke="#5a1010" stroke-width="0.55"/><circle cx="679.14" cy="302" r="0.95" fill="#d86060" stroke="#5a1010" stroke-width="0.55"/><circle cx="679.06" cy="311.88" r="0.95" fill="#d86060" stroke="#5a1010" stroke-width="0.55"/><circle cx="680.42" cy="321.76" r="0.95" fill="#d86060" stroke="#5a1010" stroke-width="0.55"/><circle cx="679.5" cy="331.64" r="0.95" fill="#d86060" stroke="#5a1010" stroke-width="0.55"/><circle cx="680.41" cy="339.05" r="0.95" fill="#d86060" stroke="#5a1010" stroke-width="0.55"/><line x1="675.62" y1="351.4" x2="675.62" y2="354" stroke="#555" stroke-width="0.8" /><text transform="translate(678.42,359.6) rotate(-45)" font-size="7.8" text-anchor="end">GL23</text><text x="483.3" y="299.7" font-size="6.6" text-anchor="middle" font-weight="bold" fill="#111">*</text><text x="486.3" y="299.7" font-size="6.6" text-anchor="middle" font-weight="bold" fill="#111">*</text><text x="489.3" y="299.7" font-size="6.6" text-anchor="middle" font-weight="bold" fill="#111">*</text><text x="492.3" y="299.7" font-size="6.6" text-anchor="middle" font-weight="bold" fill="#111">*</text><text x="540.4" y="304.5" font-size="6.6" text-anchor="middle" font-weight="bold" fill="#111">*</text><text x="543.4" y="304.5" font-size="6.6" text-anchor="middle" font-weight="bold" fill="#111">*</text><text x="546.4" y="304.5" font-size="6.6" text-anchor="middle" font-weight="bold" fill="#111">*</text><text x="549.4" y="304.5" font-size="6.6" text-anchor="middle" font-weight="bold" fill="#111">*</text><text x="675" y="272.3" font-size="6.6" text-anchor="middle" font-weight="bold" fill="#111">*</text><text x="678" y="272.3" font-size="6.6" text-anchor="middle" font-weight="bold" fill="#111">*</text><text x="681" y="272.3" font-size="6.6" text-anchor="middle" font-weight="bold" fill="#111">*</text><text x="684" y="272.3" font-size="6.6" text-anchor="middle" font-weight="bold" fill="#111">*</text><circle cx="464.3" cy="246" r="1" fill="#fff" stroke="#444" stroke-width="0.6"/><circle cx="464.3" cy="259" r="1" fill="#d86060" stroke="#5a1010" stroke-width="0.6"/><text x="467.8" y="249" font-size="7.6">Control</text><text x="467.8" y="262" font-size="7.6">SOX10 OE</text><text transform="translate(440.2,302.4) rotate(-90) scale(0.9,1)" font-size="9.6" font-weight="bold" text-anchor="middle" fill="#111">% O4<tspan font-size="5.8" dy="-3.7">+</tspan></text><line x1="455.3" y1="397.6" x2="455.3" y2="493.3" stroke="#555" stroke-width="0.8" /><line x1="453" y1="493.3" x2="455.3" y2="493.3" stroke="#555" stroke-width="0.8" /><text x="452.3" y="496" font-size="7.6" text-anchor="end">0.0</text><line x1="453" y1="461.4" x2="455.3" y2="461.4" stroke="#555" stroke-width="0.8" /><text x="452.3" y="464.1" font-size="7.6" text-anchor="end">0.5</text><line x1="453" y1="429.5" x2="455.3" y2="429.5" stroke="#555" stroke-width="0.8" /><text x="452.3" y="432.2" font-size="7.6" text-anchor="end">1.0</text><line x1="453" y1="397.6" x2="455.3" y2="397.6" stroke="#555" stroke-width="0.8" /><text x="452.3" y="400.3" font-size="7.6" text-anchor="end">1.5</text><line x1="455.3" y1="493.3" x2="679" y2="493.3" stroke="#555" stroke-width="0.8" /><rect x="458.3" y="429.5" width="4.5" height="63.8" fill="#808080" stroke="#333" stroke-width="0.6" /><line x1="460.55" y1="429.5" x2="460.55" y2="428.86" stroke="#333" stroke-width="0.5" /><line x1="459.6" y1="428.86" x2="461.5" y2="428.86" stroke="#333" stroke-width="0.5" /><circle cx="461.53" cy="423.71" r="0.9" fill="#e8e8e8" stroke="#333" stroke-width="0.5"/><circle cx="460.26" cy="417.69" r="0.9" fill="#e8e8e8" stroke="#333" stroke-width="0.5"/><circle cx="460.78" cy="441.09" r="0.9" fill="#e8e8e8" stroke="#333" stroke-width="0.5"/><circle cx="460.07" cy="434.35" r="0.9" fill="#e8e8e8" stroke="#333" stroke-width="0.5"/><circle cx="460.98" cy="438.63" r="0.9" fill="#e8e8e8" stroke="#333" stroke-width="0.5"/><circle cx="460.53" cy="419.73" r="0.9" fill="#e8e8e8" stroke="#333" stroke-width="0.5"/><circle cx="460.89" cy="423.29" r="0.9" fill="#e8e8e8" stroke="#333" stroke-width="0.5"/><rect x="465.4" y="465.23" width="4.5" height="28.07" fill="#e84848" stroke="#3a1a1a" stroke-width="0.6" /><line x1="467.65" y1="465.23" x2="467.65" y2="459.49" stroke="#333" stroke-width="0.5" /><circle cx="466.46" cy="457.51" r="0.95" fill="#f07878" stroke="#8a1818" stroke-width="0.55"/><circle cx="467.71" cy="464.99" r="0.95" fill="#f07878" stroke="#8a1818" stroke-width="0.55"/><circle cx="468.44" cy="457.67" r="0.95" fill="#f07878" stroke="#8a1818" stroke-width="0.55"/><circle cx="467.38" cy="454.76" r="0.95" fill="#f07878" stroke="#8a1818" stroke-width="0.55"/><circle cx="467.39" cy="462.58" r="0.95" fill="#f07878" stroke="#8a1818" stroke-width="0.55"/><circle cx="468.45" cy="473.49" r="0.95" fill="#f07878" stroke="#8a1818" stroke-width="0.55"/><circle cx="467.46" cy="473.38" r="0.95" fill="#f07878" stroke="#8a1818" stroke-width="0.55"/><line x1="464.1" y1="493.3" x2="464.1" y2="496" stroke="#555" stroke-width="0.8" /><text transform="translate(466.9,501.6) rotate(-45)" font-size="7.8" text-anchor="end">G7</text><text x="464.1" y="403.9" font-size="6.6" text-anchor="middle" font-weight="bold" fill="#111">*</text><text x="467.1" y="403.9" font-size="6.6" text-anchor="middle" font-weight="bold" fill="#111">*</text><rect x="477.08" y="429.5" width="4.5" height="63.8" fill="#808080" stroke="#333" stroke-width="0.6" /><line x1="479.33" y1="429.5" x2="479.33" y2="426.31" stroke="#333" stroke-width="0.5" /><line x1="478.38" y1="426.31" x2="480.28" y2="426.31" stroke="#333" stroke-width="0.5" /><circle cx="478.95" cy="429.64" r="0.9" fill="#e8e8e8" stroke="#333" stroke-width="0.5"/><circle cx="479.12" cy="427.94" r="0.9" fill="#e8e8e8" stroke="#333" stroke-width="0.5"/><circle cx="480.5" cy="431.71" r="0.9" fill="#e8e8e8" stroke="#333" stroke-width="0.5"/><circle cx="480.03" cy="439.72" r="0.9" fill="#e8e8e8" stroke="#333" stroke-width="0.5"/><circle cx="478.85" cy="433.51" r="0.9" fill="#e8e8e8" stroke="#333" stroke-width="0.5"/><circle cx="479.97" cy="424.22" r="0.9" fill="#e8e8e8" stroke="#333" stroke-width="0.5"/><circle cx="479.33" cy="434.84" r="0.9" fill="#e8e8e8" stroke="#333" stroke-width="0.5"/><rect x="484.18" y="477.99" width="4.5" height="15.31" fill="#e84848" stroke="#3a1a1a" stroke-width="0.6" /><line x1="486.43" y1="477.99" x2="486.43" y2="472.25" stroke="#333" stroke-width="0.5" /><circle cx="485.76" cy="489.61" r="0.95" fill="#f07878" stroke="#8a1818" stroke-width="0.55"/><circle cx="487.27" cy="477.87" r="0.95" fill="#f07878" stroke="#8a1818" stroke-width="0.55"/><circle cx="486.3" cy="477.93" r="0.95" fill="#f07878" stroke="#8a1818" stroke-width="0.55"/><circle cx="485.67" cy="493.3" r="0.95" fill="#f07878" stroke="#8a1818" stroke-width="0.55"/><circle cx="486.09" cy="479.88" r="0.95" fill="#f07878" stroke="#8a1818" stroke-width="0.55"/><circle cx="485.67" cy="480.88" r="0.95" fill="#f07878" stroke="#8a1818" stroke-width="0.55"/><circle cx="486.01" cy="489.26" r="0.95" fill="#f07878" stroke="#8a1818" stroke-width="0.55"/><line x1="482.88" y1="493.3" x2="482.88" y2="496" stroke="#555" stroke-width="0.8" /><text transform="translate(485.68,501.6) rotate(-45)" font-size="7.8" text-anchor="end">G144</text><text x="479.88" y="403.9" font-size="6.6" text-anchor="middle" font-weight="bold" fill="#111">*</text><text x="482.88" y="403.9" font-size="6.6" text-anchor="middle" font-weight="bold" fill="#111">*</text><text x="485.88" y="403.9" font-size="6.6" text-anchor="middle" font-weight="bold" fill="#111">*</text><text x="488.88" y="403.9" font-size="6.6" text-anchor="middle" font-weight="bold" fill="#111">*</text><rect x="495.86" y="429.5" width="4.5" height="63.8" fill="#808080" stroke="#333" stroke-width="0.6" /><line x1="498.11" y1="429.5" x2="498.11" y2="426.31" stroke="#333" stroke-width="0.5" /><line x1="497.16" y1="426.31" x2="499.06" y2="426.31" stroke="#333" stroke-width="0.5" /><circle cx="498.69" cy="437.59" r="0.9" fill="#e8e8e8" stroke="#333" stroke-width="0.5"/><circle cx="498.71" cy="419.83" r="0.9" fill="#e8e8e8" stroke="#333" stroke-width="0.5"/><circle cx="497.81" cy="415.06" r="0.9" fill="#e8e8e8" stroke="#333" stroke-width="0.5"/><circle cx="498.23" cy="426.59" r="0.9" fill="#e8e8e8" stroke="#333" stroke-width="0.5"/><circle cx="498.3" cy="433.31" r="0.9" fill="#e8e8e8" stroke="#333" stroke-width="0.5"/><circle cx="499.09" cy="438.37" r="0.9" fill="#e8e8e8" stroke="#333" stroke-width="0.5"/><circle cx="496.93" cy="419.11" r="0.9" fill="#e8e8e8" stroke="#333" stroke-width="0.5"/><rect x="502.96" y="491.39" width="4.5" height="1.91" fill="#e84848" stroke="#3a1a1a" stroke-width="0.6" /><line x1="505.21" y1="491.39" x2="505.21" y2="485.64" stroke="#333" stroke-width="0.5" /><circle cx="504.99" cy="483.32" r="0.95" fill="#f07878" stroke="#8a1818" stroke-width="0.55"/><circle cx="506.16" cy="492.64" r="0.95" fill="#f07878" stroke="#8a1818" stroke-width="0.55"/><circle cx="504.03" cy="491.83" r="0.95" fill="#f07878" stroke="#8a1818" stroke-width="0.55"/><circle cx="505" cy="493.3" r="0.95" fill="#f07878" stroke="#8a1818" stroke-width="0.55"/><circle cx="506" cy="493.3" r="0.95" fill="#f07878" stroke="#8a1818" stroke-width="0.55"/><circle cx="506.04" cy="493.3" r="0.95" fill="#f07878" stroke="#8a1818" stroke-width="0.55"/><circle cx="504.61" cy="493.3" r="0.95" fill="#f07878" stroke="#8a1818" stroke-width="0.55"/><line x1="501.66" y1="493.3" x2="501.66" y2="496" stroke="#555" stroke-width="0.8" /><text transform="translate(504.46,501.6) rotate(-45)" font-size="7.8" text-anchor="end">G25</text><text x="498.66" y="403.9" font-size="6.6" text-anchor="middle" font-weight="bold" fill="#111">*</text><text x="501.66" y="403.9" font-size="6.6" text-anchor="middle" font-weight="bold" fill="#111">*</text><text x="504.66" y="403.9" font-size="6.6" text-anchor="middle" font-weight="bold" fill="#111">*</text><text x="507.66" y="403.9" font-size="6.6" text-anchor="middle" font-weight="bold" fill="#111">*</text><rect x="514.64" y="429.5" width="4.5" height="63.8" fill="#808080" stroke="#333" stroke-width="0.6" /><line x1="516.89" y1="429.5" x2="516.89" y2="426.95" stroke="#333" stroke-width="0.5" /><line x1="515.94" y1="426.95" x2="517.84" y2="426.95" stroke="#333" stroke-width="0.5" /><circle cx="515.95" cy="431.58" r="0.9" fill="#e8e8e8" stroke="#333" stroke-width="0.5"/><circle cx="516.33" cy="447.35" r="0.9" fill="#e8e8e8" stroke="#333" stroke-width="0.5"/><circle cx="516.1" cy="432.79" r="0.9" fill="#e8e8e8" stroke="#333" stroke-width="0.5"/><circle cx="516.38" cy="437.14" r="0.9" fill="#e8e8e8" stroke="#333" stroke-width="0.5"/><circle cx="516.54" cy="421.67" r="0.9" fill="#e8e8e8" stroke="#333" stroke-width="0.5"/><circle cx="517.3" cy="428.16" r="0.9" fill="#e8e8e8" stroke="#333" stroke-width="0.5"/><circle cx="517.08" cy="427.64" r="0.9" fill="#e8e8e8" stroke="#333" stroke-width="0.5"/><rect x="521.74" y="463.95" width="4.5" height="29.35" fill="#e84848" stroke="#3a1a1a" stroke-width="0.6" /><line x1="523.99" y1="463.95" x2="523.99" y2="458.21" stroke="#333" stroke-width="0.5" /><circle cx="524.53" cy="479.08" r="0.95" fill="#f07878" stroke="#8a1818" stroke-width="0.55"/><circle cx="522.91" cy="463.04" r="0.95" fill="#f07878" stroke="#8a1818" stroke-width="0.55"/><circle cx="522.95" cy="455.33" r="0.95" fill="#f07878" stroke="#8a1818" stroke-width="0.55"/><circle cx="524.45" cy="478.28" r="0.95" fill="#f07878" stroke="#8a1818" stroke-width="0.55"/><circle cx="523.77" cy="481.42" r="0.95" fill="#f07878" stroke="#8a1818" stroke-width="0.55"/><circle cx="523" cy="472.54" r="0.95" fill="#f07878" stroke="#8a1818" stroke-width="0.55"/><circle cx="524.9" cy="455.82" r="0.95" fill="#f07878" stroke="#8a1818" stroke-width="0.55"/><line x1="520.44" y1="493.3" x2="520.44" y2="496" stroke="#555" stroke-width="0.8" /><text transform="translate(523.24,501.6) rotate(-45)" font-size="7.8" text-anchor="end">G166</text><text x="517.44" y="403.9" font-size="6.6" text-anchor="middle" font-weight="bold" fill="#111">*</text><text x="520.44" y="403.9" font-size="6.6" text-anchor="middle" font-weight="bold" fill="#111">*</text><text x="523.44" y="403.9" font-size="6.6" text-anchor="middle" font-weight="bold" fill="#111">*</text><text x="526.44" y="403.9" font-size="6.6" text-anchor="middle" font-weight="bold" fill="#111">*</text><rect x="533.42" y="429.5" width="4.5" height="63.8" fill="#808080" stroke="#333" stroke-width="0.6" /><line x1="535.67" y1="429.5" x2="535.67" y2="427.59" stroke="#333" stroke-width="0.5" /><line x1="534.72" y1="427.59" x2="536.62" y2="427.59" stroke="#333" stroke-width="0.5" /><circle cx="536.28" cy="436.09" r="0.9" fill="#e8e8e8" stroke="#333" stroke-width="0.5"/><circle cx="535.7" cy="437.21" r="0.9" fill="#e8e8e8" stroke="#333" stroke-width="0.5"/><circle cx="536.04" cy="437.21" r="0.9" fill="#e8e8e8" stroke="#333" stroke-width="0.5"/><circle cx="536.48" cy="429.34" r="0.9" fill="#e8e8e8" stroke="#333" stroke-width="0.5"/><circle cx="535.19" cy="439.08" r="0.9" fill="#e8e8e8" stroke="#333" stroke-width="0.5"/><circle cx="536.78" cy="423.06" r="0.9" fill="#e8e8e8" stroke="#333" stroke-width="0.5"/><circle cx="535.3" cy="436.59" r="0.9" fill="#e8e8e8" stroke="#333" stroke-width="0.5"/><rect x="540.52" y="462.68" width="4.5" height="30.62" fill="#e84848" stroke="#3a1a1a" stroke-width="0.6" /><line x1="542.77" y1="462.68" x2="542.77" y2="456.93" stroke="#333" stroke-width="0.5" /><circle cx="542.07" cy="471.18" r="0.95" fill="#f07878" stroke="#8a1818" stroke-width="0.55"/><circle cx="543.46" cy="476.18" r="0.95" fill="#f07878" stroke="#8a1818" stroke-width="0.55"/><circle cx="542.72" cy="473.3" r="0.95" fill="#f07878" stroke="#8a1818" stroke-width="0.55"/><circle cx="542.96" cy="458.63" r="0.95" fill="#f07878" stroke="#8a1818" stroke-width="0.55"/><circle cx="541.85" cy="467.23" r="0.95" fill="#f07878" stroke="#8a1818" stroke-width="0.55"/><circle cx="542.02" cy="462.43" r="0.95" fill="#f07878" stroke="#8a1818" stroke-width="0.55"/><circle cx="543.2" cy="475.18" r="0.95" fill="#f07878" stroke="#8a1818" stroke-width="0.55"/><line x1="539.22" y1="493.3" x2="539.22" y2="496" stroke="#555" stroke-width="0.8" /><text transform="translate(542.02,501.6) rotate(-45)" font-size="7.8" text-anchor="end">G26</text><text x="536.22" y="403.9" font-size="6.6" text-anchor="middle" font-weight="bold" fill="#111">*</text><text x="539.22" y="403.9" font-size="6.6" text-anchor="middle" font-weight="bold" fill="#111">*</text><text x="542.22" y="403.9" font-size="6.6" text-anchor="middle" font-weight="bold" fill="#111">*</text><text x="545.22" y="403.9" font-size="6.6" text-anchor="middle" font-weight="bold" fill="#111">*</text><rect x="552.2" y="429.5" width="4.5" height="63.8" fill="#808080" stroke="#333" stroke-width="0.6" /><line x1="554.45" y1="429.5" x2="554.45" y2="417.38" stroke="#333" stroke-width="0.5" /><line x1="553.5" y1="417.38" x2="555.4" y2="417.38" stroke="#333" stroke-width="0.5" /><circle cx="553.8" cy="426.33" r="0.9" fill="#e8e8e8" stroke="#333" stroke-width="0.5"/><circle cx="553.98" cy="437.14" r="0.9" fill="#e8e8e8" stroke="#333" stroke-width="0.5"/><circle cx="555.35" cy="415.24" r="0.9" fill="#e8e8e8" stroke="#333" stroke-width="0.5"/><circle cx="555.15" cy="436.15" r="0.9" fill="#e8e8e8" stroke="#333" stroke-width="0.5"/><circle cx="553.73" cy="424.27" r="0.9" fill="#e8e8e8" stroke="#333" stroke-width="0.5"/><circle cx="554.35" cy="426.31" r="0.9" fill="#e8e8e8" stroke="#333" stroke-width="0.5"/><circle cx="554.2" cy="430.52" r="0.9" fill="#e8e8e8" stroke="#333" stroke-width="0.5"/><rect x="559.3" y="460.76" width="4.5" height="32.54" fill="#e84848" stroke="#3a1a1a" stroke-width="0.6" /><line x1="561.55" y1="460.76" x2="561.55" y2="455.02" stroke="#333" stroke-width="0.5" /><circle cx="560.82" cy="454.56" r="0.95" fill="#f07878" stroke="#8a1818" stroke-width="0.55"/><circle cx="561.07" cy="465.29" r="0.95" fill="#f07878" stroke="#8a1818" stroke-width="0.55"/><circle cx="560.47" cy="459.19" r="0.95" fill="#f07878" stroke="#8a1818" stroke-width="0.55"/><circle cx="561.58" cy="455.89" r="0.95" fill="#f07878" stroke="#8a1818" stroke-width="0.55"/><circle cx="562.08" cy="457.59" r="0.95" fill="#f07878" stroke="#8a1818" stroke-width="0.55"/><circle cx="560.98" cy="472.38" r="0.95" fill="#f07878" stroke="#8a1818" stroke-width="0.55"/><circle cx="561.78" cy="478.43" r="0.95" fill="#f07878" stroke="#8a1818" stroke-width="0.55"/><line x1="558" y1="493.3" x2="558" y2="496" stroke="#555" stroke-width="0.8" /><text transform="translate(560.8,501.6) rotate(-45)" font-size="7.8" text-anchor="end">G21</text><text x="558" y="403.9" font-size="6.6" text-anchor="middle" font-weight="bold" fill="#111">*</text><text x="561" y="403.9" font-size="6.6" text-anchor="middle" font-weight="bold" fill="#111">*</text><rect x="570.98" y="429.5" width="4.5" height="63.8" fill="#808080" stroke="#333" stroke-width="0.6" /><line x1="573.23" y1="429.5" x2="573.23" y2="421.21" stroke="#333" stroke-width="0.5" /><line x1="572.28" y1="421.21" x2="574.18" y2="421.21" stroke="#333" stroke-width="0.5" /><circle cx="574.28" cy="431.14" r="0.9" fill="#e8e8e8" stroke="#333" stroke-width="0.5"/><circle cx="572.9" cy="438.28" r="0.9" fill="#e8e8e8" stroke="#333" stroke-width="0.5"/><circle cx="572.22" cy="441.92" r="0.9" fill="#e8e8e8" stroke="#333" stroke-width="0.5"/><circle cx="572.31" cy="433.92" r="0.9" fill="#e8e8e8" stroke="#333" stroke-width="0.5"/><circle cx="572.27" cy="432.9" r="0.9" fill="#e8e8e8" stroke="#333" stroke-width="0.5"/><circle cx="573.93" cy="437.43" r="0.9" fill="#e8e8e8" stroke="#333" stroke-width="0.5"/><circle cx="573.02" cy="414.05" r="0.9" fill="#e8e8e8" stroke="#333" stroke-width="0.5"/><rect x="578.08" y="486.92" width="4.5" height="6.38" fill="#e84848" stroke="#3a1a1a" stroke-width="0.6" /><line x1="580.33" y1="486.92" x2="580.33" y2="481.18" stroke="#333" stroke-width="0.5" /><circle cx="579.9" cy="489.97" r="0.95" fill="#f07878" stroke="#8a1818" stroke-width="0.55"/><circle cx="580.54" cy="492.55" r="0.95" fill="#f07878" stroke="#8a1818" stroke-width="0.55"/><circle cx="581.09" cy="484.91" r="0.95" fill="#f07878" stroke="#8a1818" stroke-width="0.55"/><circle cx="581.09" cy="493.3" r="0.95" fill="#f07878" stroke="#8a1818" stroke-width="0.55"/><circle cx="580.34" cy="489.76" r="0.95" fill="#f07878" stroke="#8a1818" stroke-width="0.55"/><circle cx="580.53" cy="493.3" r="0.95" fill="#f07878" stroke="#8a1818" stroke-width="0.55"/><circle cx="581.08" cy="492.62" r="0.95" fill="#f07878" stroke="#8a1818" stroke-width="0.55"/><line x1="576.78" y1="493.3" x2="576.78" y2="496" stroke="#555" stroke-width="0.8" /><text transform="translate(579.58,501.6) rotate(-45)" font-size="7.8" text-anchor="end">G179</text><text x="573.78" y="403.9" font-size="6.6" text-anchor="middle" font-weight="bold" fill="#111">*</text><text x="576.78" y="403.9" font-size="6.6" text-anchor="middle" font-weight="bold" fill="#111">*</text><text x="579.78" y="403.9" font-size="6.6" text-anchor="middle" font-weight="bold" fill="#111">*</text><text x="582.78" y="403.9" font-size="6.6" text-anchor="middle" font-weight="bold" fill="#111">*</text><rect x="589.76" y="429.5" width="4.5" height="63.8" fill="#808080" stroke="#333" stroke-width="0.6" /><line x1="592.01" y1="429.5" x2="592.01" y2="425.03" stroke="#333" stroke-width="0.5" /><line x1="591.06" y1="425.03" x2="592.96" y2="425.03" stroke="#333" stroke-width="0.5" /><circle cx="591.19" cy="431.23" r="0.9" fill="#e8e8e8" stroke="#333" stroke-width="0.5"/><circle cx="592.86" cy="441.29" r="0.9" fill="#e8e8e8" stroke="#333" stroke-width="0.5"/><circle cx="592.59" cy="433.87" r="0.9" fill="#e8e8e8" stroke="#333" stroke-width="0.5"/><circle cx="592.3" cy="427.27" r="0.9" fill="#e8e8e8" stroke="#333" stroke-width="0.5"/><circle cx="591.61" cy="430.83" r="0.9" fill="#e8e8e8" stroke="#333" stroke-width="0.5"/><circle cx="591.2" cy="433.03" r="0.9" fill="#e8e8e8" stroke="#333" stroke-width="0.5"/><circle cx="590.88" cy="433.57" r="0.9" fill="#e8e8e8" stroke="#333" stroke-width="0.5"/><rect x="596.86" y="475.44" width="4.5" height="17.86" fill="#e84848" stroke="#3a1a1a" stroke-width="0.6" /><line x1="599.11" y1="475.44" x2="599.11" y2="469.69" stroke="#333" stroke-width="0.5" /><circle cx="598.24" cy="489.35" r="0.95" fill="#f07878" stroke="#8a1818" stroke-width="0.55"/><circle cx="599.21" cy="480.92" r="0.95" fill="#f07878" stroke="#8a1818" stroke-width="0.55"/><circle cx="599.02" cy="493.3" r="0.95" fill="#f07878" stroke="#8a1818" stroke-width="0.55"/><circle cx="599.18" cy="486.97" r="0.95" fill="#f07878" stroke="#8a1818" stroke-width="0.55"/><circle cx="598.13" cy="492.88" r="0.95" fill="#f07878" stroke="#8a1818" stroke-width="0.55"/><circle cx="598.27" cy="482.56" r="0.95" fill="#f07878" stroke="#8a1818" stroke-width="0.55"/><circle cx="598.31" cy="480.68" r="0.95" fill="#f07878" stroke="#8a1818" stroke-width="0.55"/><line x1="595.56" y1="493.3" x2="595.56" y2="496" stroke="#555" stroke-width="0.8" /><text transform="translate(598.36,501.6) rotate(-45)" font-size="7.8" text-anchor="end">GCGR-E17</text><text x="592.56" y="403.9" font-size="6.6" text-anchor="middle" font-weight="bold" fill="#111">*</text><text x="595.56" y="403.9" font-size="6.6" text-anchor="middle" font-weight="bold" fill="#111">*</text><text x="598.56" y="403.9" font-size="6.6" text-anchor="middle" font-weight="bold" fill="#111">*</text><text x="601.56" y="403.9" font-size="6.6" text-anchor="middle" font-weight="bold" fill="#111">*</text><rect x="608.54" y="429.5" width="4.5" height="63.8" fill="#808080" stroke="#333" stroke-width="0.6" /><line x1="610.79" y1="429.5" x2="610.79" y2="426.95" stroke="#333" stroke-width="0.5" /><line x1="609.84" y1="426.95" x2="611.74" y2="426.95" stroke="#333" stroke-width="0.5" /><circle cx="609.98" cy="430.97" r="0.9" fill="#e8e8e8" stroke="#333" stroke-width="0.5"/><circle cx="610.37" cy="445.07" r="0.9" fill="#e8e8e8" stroke="#333" stroke-width="0.5"/><circle cx="609.76" cy="426.37" r="0.9" fill="#e8e8e8" stroke="#333" stroke-width="0.5"/><circle cx="611.15" cy="430.2" r="0.9" fill="#e8e8e8" stroke="#333" stroke-width="0.5"/><circle cx="611.41" cy="445.53" r="0.9" fill="#e8e8e8" stroke="#333" stroke-width="0.5"/><circle cx="609.94" cy="427.78" r="0.9" fill="#e8e8e8" stroke="#333" stroke-width="0.5"/><circle cx="611.32" cy="415.88" r="0.9" fill="#e8e8e8" stroke="#333" stroke-width="0.5"/><rect x="615.64" y="479.9" width="4.5" height="13.4" fill="#e84848" stroke="#3a1a1a" stroke-width="0.6" /><line x1="617.89" y1="479.9" x2="617.89" y2="474.16" stroke="#333" stroke-width="0.5" /><circle cx="618.73" cy="485.96" r="0.95" fill="#f07878" stroke="#8a1818" stroke-width="0.55"/><circle cx="617.92" cy="473.59" r="0.95" fill="#f07878" stroke="#8a1818" stroke-width="0.55"/><circle cx="617.6" cy="491.39" r="0.95" fill="#f07878" stroke="#8a1818" stroke-width="0.55"/><circle cx="616.77" cy="492.92" r="0.95" fill="#f07878" stroke="#8a1818" stroke-width="0.55"/><circle cx="617.03" cy="471.17" r="0.95" fill="#f07878" stroke="#8a1818" stroke-width="0.55"/><circle cx="617.43" cy="488.47" r="0.95" fill="#f07878" stroke="#8a1818" stroke-width="0.55"/><circle cx="619.03" cy="478.32" r="0.95" fill="#f07878" stroke="#8a1818" stroke-width="0.55"/><line x1="614.34" y1="493.3" x2="614.34" y2="496" stroke="#555" stroke-width="0.8" /><text transform="translate(617.14,501.6) rotate(-45)" font-size="7.8" text-anchor="end">GCGR-E27</text><text x="611.34" y="403.9" font-size="6.6" text-anchor="middle" font-weight="bold" fill="#111">*</text><text x="614.34" y="403.9" font-size="6.6" text-anchor="middle" font-weight="bold" fill="#111">*</text><text x="617.34" y="403.9" font-size="6.6" text-anchor="middle" font-weight="bold" fill="#111">*</text><text x="620.34" y="403.9" font-size="6.6" text-anchor="middle" font-weight="bold" fill="#111">*</text><rect x="627.32" y="429.5" width="4.5" height="63.8" fill="#808080" stroke="#333" stroke-width="0.6" /><line x1="629.57" y1="429.5" x2="629.57" y2="426.95" stroke="#333" stroke-width="0.5" /><line x1="628.62" y1="426.95" x2="630.52" y2="426.95" stroke="#333" stroke-width="0.5" /><circle cx="629.41" cy="438.5" r="0.9" fill="#e8e8e8" stroke="#333" stroke-width="0.5"/><circle cx="628.62" cy="433.71" r="0.9" fill="#e8e8e8" stroke="#333" stroke-width="0.5"/><circle cx="630.65" cy="424.74" r="0.9" fill="#e8e8e8" stroke="#333" stroke-width="0.5"/><circle cx="629.38" cy="423.51" r="0.9" fill="#e8e8e8" stroke="#333" stroke-width="0.5"/><circle cx="628.48" cy="430.53" r="0.9" fill="#e8e8e8" stroke="#333" stroke-width="0.5"/><circle cx="630.53" cy="417.49" r="0.9" fill="#e8e8e8" stroke="#333" stroke-width="0.5"/><circle cx="629.8" cy="423.37" r="0.9" fill="#e8e8e8" stroke="#333" stroke-width="0.5"/><rect x="634.42" y="463" width="4.5" height="30.3" fill="#e84848" stroke="#3a1a1a" stroke-width="0.6" /><line x1="636.67" y1="463" x2="636.67" y2="457.25" stroke="#333" stroke-width="0.5" /><circle cx="636.15" cy="457.12" r="0.95" fill="#f07878" stroke="#8a1818" stroke-width="0.55"/><circle cx="636.5" cy="452.64" r="0.95" fill="#f07878" stroke="#8a1818" stroke-width="0.55"/><circle cx="636.81" cy="453.83" r="0.95" fill="#f07878" stroke="#8a1818" stroke-width="0.55"/><circle cx="637.7" cy="470.85" r="0.95" fill="#f07878" stroke="#8a1818" stroke-width="0.55"/><circle cx="637.13" cy="460.3" r="0.95" fill="#f07878" stroke="#8a1818" stroke-width="0.55"/><circle cx="637.04" cy="481.44" r="0.95" fill="#f07878" stroke="#8a1818" stroke-width="0.55"/><circle cx="637.12" cy="459.29" r="0.95" fill="#f07878" stroke="#8a1818" stroke-width="0.55"/><line x1="633.12" y1="493.3" x2="633.12" y2="496" stroke="#555" stroke-width="0.8" /><text transform="translate(635.92,501.6) rotate(-45)" font-size="7.8" text-anchor="end">GCGR-E13</text><text x="630.12" y="403.9" font-size="6.6" text-anchor="middle" font-weight="bold" fill="#111">*</text><text x="633.12" y="403.9" font-size="6.6" text-anchor="middle" font-weight="bold" fill="#111">*</text><text x="636.12" y="403.9" font-size="6.6" text-anchor="middle" font-weight="bold" fill="#111">*</text><text x="639.12" y="403.9" font-size="6.6" text-anchor="middle" font-weight="bold" fill="#111">*</text><rect x="646.1" y="440.03" width="4.5" height="53.27" fill="#808080" stroke="#333" stroke-width="0.6" /><line x1="648.35" y1="440.03" x2="648.35" y2="433.65" stroke="#333" stroke-width="0.5" /><line x1="647.4" y1="433.65" x2="649.3" y2="433.65" stroke="#333" stroke-width="0.5" /><circle cx="647.61" cy="437.66" r="0.9" fill="#e8e8e8" stroke="#333" stroke-width="0.5"/><circle cx="648.46" cy="438.42" r="0.9" fill="#e8e8e8" stroke="#333" stroke-width="0.5"/><circle cx="647.4" cy="435.45" r="0.9" fill="#e8e8e8" stroke="#333" stroke-width="0.5"/><circle cx="649.54" cy="446.51" r="0.9" fill="#e8e8e8" stroke="#333" stroke-width="0.5"/><circle cx="648.91" cy="444.4" r="0.9" fill="#e8e8e8" stroke="#333" stroke-width="0.5"/><circle cx="648.17" cy="437.91" r="0.9" fill="#e8e8e8" stroke="#333" stroke-width="0.5"/><circle cx="648.61" cy="429.62" r="0.9" fill="#e8e8e8" stroke="#333" stroke-width="0.5"/><rect x="653.2" y="479.9" width="4.5" height="13.4" fill="#e84848" stroke="#3a1a1a" stroke-width="0.6" /><line x1="655.45" y1="479.9" x2="655.45" y2="474.16" stroke="#333" stroke-width="0.5" /><circle cx="655.03" cy="493.3" r="0.95" fill="#f07878" stroke="#8a1818" stroke-width="0.55"/><circle cx="655.85" cy="478.43" r="0.95" fill="#f07878" stroke="#8a1818" stroke-width="0.55"/><circle cx="655.8" cy="474.96" r="0.95" fill="#f07878" stroke="#8a1818" stroke-width="0.55"/><circle cx="656.2" cy="480.29" r="0.95" fill="#f07878" stroke="#8a1818" stroke-width="0.55"/><circle cx="656.22" cy="493.3" r="0.95" fill="#f07878" stroke="#8a1818" stroke-width="0.55"/><circle cx="656.52" cy="479.06" r="0.95" fill="#f07878" stroke="#8a1818" stroke-width="0.55"/><circle cx="654.48" cy="493.3" r="0.95" fill="#f07878" stroke="#8a1818" stroke-width="0.55"/><line x1="651.9" y1="493.3" x2="651.9" y2="496" stroke="#555" stroke-width="0.8" /><text transform="translate(654.7,501.6) rotate(-45)" font-size="7.8" text-anchor="end">GCGR-E15</text><text x="648.9" y="403.9" font-size="6.6" text-anchor="middle" font-weight="bold" fill="#111">*</text><text x="651.9" y="403.9" font-size="6.6" text-anchor="middle" font-weight="bold" fill="#111">*</text><text x="654.9" y="403.9" font-size="6.6" text-anchor="middle" font-weight="bold" fill="#111">*</text><text x="657.9" y="403.9" font-size="6.6" text-anchor="middle" font-weight="bold" fill="#111">*</text><rect x="664.88" y="429.5" width="4.5" height="63.8" fill="#808080" stroke="#333" stroke-width="0.6" /><line x1="667.13" y1="429.5" x2="667.13" y2="426.31" stroke="#333" stroke-width="0.5" /><line x1="666.18" y1="426.31" x2="668.08" y2="426.31" stroke="#333" stroke-width="0.5" /><circle cx="667.47" cy="441.85" r="0.9" fill="#e8e8e8" stroke="#333" stroke-width="0.5"/><circle cx="666.66" cy="423.78" r="0.9" fill="#e8e8e8" stroke="#333" stroke-width="0.5"/><circle cx="667.1" cy="431.88" r="0.9" fill="#e8e8e8" stroke="#333" stroke-width="0.5"/><circle cx="667.14" cy="423.44" r="0.9" fill="#e8e8e8" stroke="#333" stroke-width="0.5"/><circle cx="668.07" cy="431.9" r="0.9" fill="#e8e8e8" stroke="#333" stroke-width="0.5"/><circle cx="667.67" cy="446.29" r="0.9" fill="#e8e8e8" stroke="#333" stroke-width="0.5"/><circle cx="668.05" cy="437.28" r="0.9" fill="#e8e8e8" stroke="#333" stroke-width="0.5"/><rect x="671.98" y="485.64" width="4.5" height="7.66" fill="#e84848" stroke="#3a1a1a" stroke-width="0.6" /><line x1="674.23" y1="485.64" x2="674.23" y2="479.9" stroke="#333" stroke-width="0.5" /><circle cx="674.83" cy="488.42" r="0.95" fill="#f07878" stroke="#8a1818" stroke-width="0.55"/><circle cx="673.14" cy="493.3" r="0.95" fill="#f07878" stroke="#8a1818" stroke-width="0.55"/><circle cx="674.59" cy="493.3" r="0.95" fill="#f07878" stroke="#8a1818" stroke-width="0.55"/><circle cx="674.57" cy="493.3" r="0.95" fill="#f07878" stroke="#8a1818" stroke-width="0.55"/><circle cx="673.96" cy="480.11" r="0.95" fill="#f07878" stroke="#8a1818" stroke-width="0.55"/><circle cx="675.05" cy="482.37" r="0.95" fill="#f07878" stroke="#8a1818" stroke-width="0.55"/><circle cx="674.1" cy="488.71" r="0.95" fill="#f07878" stroke="#8a1818" stroke-width="0.55"/><line x1="670.68" y1="493.3" x2="670.68" y2="496" stroke="#555" stroke-width="0.8" /><text transform="translate(673.48,501.6) rotate(-45)" font-size="7.8" text-anchor="end">GL23</text><text x="667.68" y="403.9" font-size="6.6" text-anchor="middle" font-weight="bold" fill="#111">*</text><text x="670.68" y="403.9" font-size="6.6" text-anchor="middle" font-weight="bold" fill="#111">*</text><text x="673.68" y="403.9" font-size="6.6" text-anchor="middle" font-weight="bold" fill="#111">*</text><text x="676.68" y="403.9" font-size="6.6" text-anchor="middle" font-weight="bold" fill="#111">*</text><text transform="translate(437.9,436.9) rotate(-90) scale(0.8,1)" font-size="8.4" font-weight="bold" text-anchor="middle" fill="#111">% EdU<tspan font-size="5.4" dy="-3.4">+</tspan><tspan dy="3.4"> cells (f.c.)</tspan></text><rect x="24.2" y="499.2" width="87.4" height="87.5" fill="#04030a" /><rect x="113.5" y="499.2" width="87.4" height="87.5" fill="#04030a" /><g clip-path="url(#ch1)"><g filter="url(#bl05)"><g fill="#24308c"><ellipse cx="110.34" cy="580.22" rx="1.54" ry="1.1" transform="rotate(29 110.34 580.22)"/><ellipse cx="90.59" cy="516.44" rx="1.36" ry="0.94" transform="rotate(134 90.59 516.44)"/><ellipse cx="56.34" cy="550.55" rx="1.72" ry="0.97" transform="rotate(107 56.34 550.55)"/><ellipse cx="47.44" cy="578.22" rx="1.78" ry="1.15" transform="rotate(170 47.44 578.22)"/><ellipse cx="83.99" cy="575.2" rx="1.66" ry="1.02" transform="rotate(91 83.99 575.2)"/><ellipse cx="32.84" cy="571.59" rx="1.4" ry="0.92" transform="rotate(36 32.84 571.59)"/><ellipse cx="95.35" cy="534.62" rx="1.34" ry="0.89" transform="rotate(13 95.35 534.62)"/><ellipse cx="40.19" cy="514.73" rx="1.34" ry="0.96" transform="rotate(143 40.19 514.73)"/><ellipse cx="101.26" cy="569.8" rx="1.38" ry="1.03" transform="rotate(112 101.26 569.8)"/><ellipse cx="62.68" cy="537.8" rx="1.21" ry="0.97" transform="rotate(57 62.68 537.8)"/><ellipse cx="102.91" cy="529.33" rx="1.57" ry="0.9" transform="rotate(90 102.91 529.33)"/><ellipse cx="76.17" cy="539.97" rx="1.48" ry="1.19" transform="rotate(110 76.17 539.97)"/><ellipse cx="49.52" cy="554.38" rx="1.65" ry="1.15" transform="rotate(47 49.52 554.38)"/><ellipse cx="99.33" cy="546.73" rx="1.62" ry="0.96" transform="rotate(112 99.33 546.73)"/><ellipse cx="30.12" cy="518.53" rx="1.28" ry="0.91" transform="rotate(109 30.12 518.53)"/><ellipse cx="70.06" cy="541.21" rx="1.53" ry="1.03" transform="rotate(136 70.06 541.21)"/><ellipse cx="70.5" cy="531.08" rx="1.65" ry="1.01" transform="rotate(137 70.5 531.08)"/><ellipse cx="67.38" cy="550.03" rx="1.64" ry="1.07" transform="rotate(62 67.38 550.03)"/><ellipse cx="100.55" cy="523.68" rx="1.21" ry="0.9" transform="rotate(153 100.55 523.68)"/><ellipse cx="44.36" cy="517.63" rx="1.62" ry="1.1" transform="rotate(174 44.36 517.63)"/><ellipse cx="67" cy="511.84" rx="1.46" ry="0.89" transform="rotate(103 67 511.84)"/><ellipse cx="46.82" cy="541.07" rx="1.26" ry="0.93" transform="rotate(75 46.82 541.07)"/><ellipse cx="81.06" cy="546.94" rx="1.33" ry="1.04" transform="rotate(106 81.06 546.94)"/><ellipse cx="51.41" cy="520.62" rx="1.33" ry="0.9" transform="rotate(162 51.41 520.62)"/><ellipse cx="65.3" cy="501.87" rx="1.42" ry="0.85" transform="rotate(152 65.3 501.87)"/><ellipse cx="70.42" cy="563.35" rx="1.27" ry="0.93" transform="rotate(70 70.42 563.35)"/><ellipse cx="74.04" cy="525.61" rx="1.56" ry="0.98" transform="rotate(73 74.04 525.61)"/><ellipse cx="95.83" cy="558.58" rx="1.4" ry="0.84" transform="rotate(49 95.83 558.58)"/><ellipse cx="72.41" cy="501.8" rx="1.32" ry="0.93" transform="rotate(3 72.41 501.8)"/><ellipse cx="56.34" cy="546.75" rx="1.3" ry="0.89" transform="rotate(115 56.34 546.75)"/><ellipse cx="27.69" cy="528" rx="1.42" ry="0.97" transform="rotate(127 27.69 528)"/><ellipse cx="45.3" cy="543.18" rx="1.46" ry="1.12" transform="rotate(173 45.3 543.18)"/><ellipse cx="92.58" cy="584.47" rx="1.34" ry="0.93" transform="rotate(135 92.58 584.47)"/><ellipse cx="75.52" cy="534.16" rx="1.63" ry="1.13" transform="rotate(150 75.52 534.16)"/><ellipse cx="43.27" cy="507.15" rx="1.55" ry="1.07" transform="rotate(123 43.27 507.15)"/><ellipse cx="45.12" cy="522.18" rx="1.32" ry="1.16" transform="rotate(58 45.12 522.18)"/><ellipse cx="70.62" cy="522.3" rx="1.31" ry="0.89" transform="rotate(106 70.62 522.3)"/><ellipse cx="84.68" cy="583.88" rx="1.34" ry="1.16" transform="rotate(28 84.68 583.88)"/><ellipse cx="38.54" cy="521.6" rx="1.59" ry="0.92" transform="rotate(131 38.54 521.6)"/><ellipse cx="42.34" cy="509.1" rx="1.59" ry="0.86" transform="rotate(48 42.34 509.1)"/><ellipse cx="66.55" cy="537.43" rx="1.21" ry="0.96" transform="rotate(145 66.55 537.43)"/><ellipse cx="80.04" cy="511.82" rx="1.7" ry="1.19" transform="rotate(87 80.04 511.82)"/><ellipse cx="101.68" cy="570.02" rx="1.6" ry="1.14" transform="rotate(162 101.68 570.02)"/><ellipse cx="52.48" cy="517.34" rx="1.68" ry="1.15" transform="rotate(98 52.48 517.34)"/><ellipse cx="58.05" cy="510.18" rx="1.5" ry="0.92" transform="rotate(114 58.05 510.18)"/><ellipse cx="53.06" cy="518.22" rx="1.58" ry="0.87" transform="rotate(119 53.06 518.22)"/><ellipse cx="75.76" cy="510.51" rx="1.25" ry="1.17" transform="rotate(79 75.76 510.51)"/><ellipse cx="70.56" cy="514.74" rx="1.77" ry="0.88" transform="rotate(55 70.56 514.74)"/><ellipse cx="83.14" cy="569.75" rx="1.4" ry="1.13" transform="rotate(175 83.14 569.75)"/><ellipse cx="85.8" cy="578.57" rx="1.65" ry="1.05" transform="rotate(10 85.8 578.57)"/><ellipse cx="44.45" cy="531.8" rx="1.32" ry="0.88" transform="rotate(115 44.45 531.8)"/><ellipse cx="99.15" cy="562.74" rx="1.56" ry="1.19" transform="rotate(46 99.15 562.74)"/><ellipse cx="69.22" cy="538.03" rx="1.73" ry="1.07" transform="rotate(89 69.22 538.03)"/><ellipse cx="51.92" cy="523.74" rx="1.63" ry="1.09" transform="rotate(87 51.92 523.74)"/><ellipse cx="94.96" cy="566.04" rx="1.58" ry="0.81" transform="rotate(178 94.96 566.04)"/><ellipse cx="43.58" cy="557.27" rx="1.67" ry="0.86" transform="rotate(30 43.58 557.27)"/><ellipse cx="94.75" cy="574.9" rx="1.24" ry="0.82" transform="rotate(52 94.75 574.9)"/><ellipse cx="70.58" cy="528.02" rx="1.79" ry="0.9" transform="rotate(9 70.58 528.02)"/><ellipse cx="39.8" cy="553.21" rx="1.49" ry="1" transform="rotate(67 39.8 553.21)"/><ellipse cx="54.71" cy="553.91" rx="1.77" ry="0.87" transform="rotate(23 54.71 553.91)"/><ellipse cx="85.81" cy="552.56" rx="1.7" ry="1.11" transform="rotate(151 85.81 552.56)"/><ellipse cx="52.67" cy="553.35" rx="1.26" ry="1.18" transform="rotate(147 52.67 553.35)"/><ellipse cx="72.03" cy="582.04" rx="1.32" ry="1.17" transform="rotate(136 72.03 582.04)"/><ellipse cx="26.92" cy="565.62" rx="1.72" ry="0.86" transform="rotate(161 26.92 565.62)"/><ellipse cx="105.8" cy="580.63" rx="1.79" ry="1.07" transform="rotate(93 105.8 580.63)"/><ellipse cx="38.42" cy="556.23" rx="1.49" ry="1.11" transform="rotate(106 38.42 556.23)"/><ellipse cx="105.11" cy="584.99" rx="1.77" ry="1.08" transform="rotate(99 105.11 584.99)"/><ellipse cx="36.71" cy="517.39" rx="1.8" ry="0.87" transform="rotate(23 36.71 517.39)"/><ellipse cx="105.22" cy="561.06" rx="1.43" ry="0.88" transform="rotate(137 105.22 561.06)"/><ellipse cx="43.34" cy="532.27" rx="1.46" ry="0.91" transform="rotate(88 43.34 532.27)"/><ellipse cx="71.65" cy="518.07" rx="1.39" ry="1.17" transform="rotate(25 71.65 518.07)"/><ellipse cx="38.75" cy="524.25" rx="1.77" ry="1.19" transform="rotate(142 38.75 524.25)"/><ellipse cx="37.66" cy="504.91" rx="1.53" ry="0.9" transform="rotate(140 37.66 504.91)"/><ellipse cx="92.73" cy="523.86" rx="1.35" ry="1.04" transform="rotate(99 92.73 523.86)"/><ellipse cx="74.31" cy="550.33" rx="1.57" ry="0.89" transform="rotate(118 74.31 550.33)"/><ellipse cx="68.63" cy="551.42" rx="1.42" ry="0.94" transform="rotate(5 68.63 551.42)"/><ellipse cx="106.36" cy="541.43" rx="1.8" ry="1.08" transform="rotate(29 106.36 541.43)"/></g><g fill="#2c3a9e"><ellipse cx="85.04" cy="506.52" rx="1.42" ry="0.87" transform="rotate(116 85.04 506.52)"/><ellipse cx="77.47" cy="565.61" rx="1.53" ry="1.04" transform="rotate(30 77.47 565.61)"/><ellipse cx="104.5" cy="568.76" rx="1.41" ry="1.05" transform="rotate(6 104.5 568.76)"/><ellipse cx="90.22" cy="561.72" rx="1.66" ry="1.16" transform="rotate(174 90.22 561.72)"/><ellipse cx="86.13" cy="524.13" rx="1.66" ry="0.91" transform="rotate(129 86.13 524.13)"/><ellipse cx="37.82" cy="522.45" rx="1.45" ry="1.05" transform="rotate(81 37.82 522.45)"/><ellipse cx="62.5" cy="537.98" rx="1.21" ry="0.96" transform="rotate(79 62.5 537.98)"/><ellipse cx="32.89" cy="522.56" rx="1.69" ry="0.97" transform="rotate(100 32.89 522.56)"/><ellipse cx="83.47" cy="535.07" rx="1.75" ry="1.08" transform="rotate(113 83.47 535.07)"/><ellipse cx="84.81" cy="571.32" rx="1.28" ry="1.13" transform="rotate(163 84.81 571.32)"/><ellipse cx="80.76" cy="503.16" rx="1.52" ry="0.93" transform="rotate(129 80.76 503.16)"/><ellipse cx="111.36" cy="564.26" rx="1.33" ry="0.81" transform="rotate(71 111.36 564.26)"/><ellipse cx="54.95" cy="542.59" rx="1.74" ry="0.83" transform="rotate(119 54.95 542.59)"/><ellipse cx="95.68" cy="536.7" rx="1.3" ry="1.04" transform="rotate(134 95.68 536.7)"/><ellipse cx="105.69" cy="570.79" rx="1.37" ry="0.82" transform="rotate(170 105.69 570.79)"/><ellipse cx="110.39" cy="552.12" rx="1.69" ry="0.97" transform="rotate(113 110.39 552.12)"/><ellipse cx="45.54" cy="526.08" rx="1.45" ry="0.87" transform="rotate(162 45.54 526.08)"/><ellipse cx="77.46" cy="555.84" rx="1.28" ry="1.19" transform="rotate(140 77.46 555.84)"/><ellipse cx="108.46" cy="536.62" rx="1.28" ry="0.96" transform="rotate(177 108.46 536.62)"/><ellipse cx="96.26" cy="570.77" rx="1.32" ry="0.89" transform="rotate(102 96.26 570.77)"/><ellipse cx="28.97" cy="555.01" rx="1.66" ry="0.97" transform="rotate(116 28.97 555.01)"/><ellipse cx="104.32" cy="529.97" rx="1.78" ry="1.18" transform="rotate(10 104.32 529.97)"/><ellipse cx="28" cy="509.59" rx="1.63" ry="1" transform="rotate(160 28 509.59)"/><ellipse cx="68.27" cy="536.97" rx="1.54" ry="0.85" transform="rotate(133 68.27 536.97)"/><ellipse cx="46.04" cy="551.15" rx="1.66" ry="1.17" transform="rotate(54 46.04 551.15)"/><ellipse cx="71.39" cy="518.12" rx="1.69" ry="1.17" transform="rotate(120 71.39 518.12)"/><ellipse cx="77.18" cy="507.57" rx="1.25" ry="0.91" transform="rotate(10 77.18 507.57)"/><ellipse cx="44.7" cy="576.5" rx="1.53" ry="0.92" transform="rotate(45 44.7 576.5)"/><ellipse cx="80.59" cy="580.36" rx="1.35" ry="0.99" transform="rotate(146 80.59 580.36)"/><ellipse cx="91.21" cy="566.14" rx="1.48" ry="1.07" transform="rotate(105 91.21 566.14)"/><ellipse cx="76.38" cy="528.49" rx="1.62" ry="1.11" transform="rotate(102 76.38 528.49)"/><ellipse cx="84.25" cy="537.82" rx="1.42" ry="1.19" transform="rotate(33 84.25 537.82)"/><ellipse cx="55.41" cy="556.88" rx="1.46" ry="1.03" transform="rotate(18 55.41 556.88)"/><ellipse cx="89.17" cy="565.61" rx="1.35" ry="1.07" transform="rotate(149 89.17 565.61)"/><ellipse cx="97.34" cy="579.3" rx="1.58" ry="1.15" transform="rotate(106 97.34 579.3)"/><ellipse cx="76.39" cy="533.62" rx="1.48" ry="0.91" transform="rotate(45 76.39 533.62)"/><ellipse cx="64.3" cy="534.03" rx="1.48" ry="0.89" transform="rotate(130 64.3 534.03)"/><ellipse cx="59.56" cy="532.68" rx="1.76" ry="0.94" transform="rotate(161 59.56 532.68)"/><ellipse cx="57.63" cy="534.12" rx="1.24" ry="0.94" transform="rotate(10 57.63 534.12)"/><ellipse cx="54.25" cy="527.7" rx="1.44" ry="0.92" transform="rotate(129 54.25 527.7)"/><ellipse cx="78.46" cy="538.04" rx="1.59" ry="0.81" transform="rotate(96 78.46 538.04)"/><ellipse cx="82.13" cy="524.15" rx="1.25" ry="0.91" transform="rotate(148 82.13 524.15)"/><ellipse cx="81.25" cy="573.86" rx="1.25" ry="0.96" transform="rotate(171 81.25 573.86)"/><ellipse cx="110.06" cy="526.98" rx="1.3" ry="0.89" transform="rotate(10 110.06 526.98)"/><ellipse cx="75.3" cy="549.63" rx="1.78" ry="0.95" transform="rotate(176 75.3 549.63)"/><ellipse cx="80.34" cy="582.9" rx="1.79" ry="1.16" transform="rotate(176 80.34 582.9)"/><ellipse cx="36.21" cy="572.77" rx="1.62" ry="0.9" transform="rotate(0 36.21 572.77)"/><ellipse cx="67.99" cy="508.65" rx="1.25" ry="1" transform="rotate(96 67.99 508.65)"/><ellipse cx="99.55" cy="566.93" rx="1.2" ry="1.01" transform="rotate(138 99.55 566.93)"/><ellipse cx="67.46" cy="523.32" rx="1.57" ry="0.82" transform="rotate(7 67.46 523.32)"/><ellipse cx="46.12" cy="576.96" rx="1.55" ry="0.97" transform="rotate(105 46.12 576.96)"/><ellipse cx="101.64" cy="519.69" rx="1.61" ry="0.9" transform="rotate(84 101.64 519.69)"/><ellipse cx="40.34" cy="577.34" rx="1.37" ry="1.19" transform="rotate(34 40.34 577.34)"/><ellipse cx="80.45" cy="552.13" rx="1.35" ry="0.89" transform="rotate(10 80.45 552.13)"/><ellipse cx="109.13" cy="515.98" rx="1.4" ry="1.18" transform="rotate(86 109.13 515.98)"/><ellipse cx="89.72" cy="514.79" rx="1.37" ry="0.97" transform="rotate(26 89.72 514.79)"/><ellipse cx="96.58" cy="511.46" rx="1.55" ry="1.04" transform="rotate(149 96.58 511.46)"/><ellipse cx="76.24" cy="545.7" rx="1.56" ry="1.02" transform="rotate(143 76.24 545.7)"/><ellipse cx="41.46" cy="504.87" rx="1.59" ry="1" transform="rotate(148 41.46 504.87)"/><ellipse cx="81.7" cy="559.99" rx="1.53" ry="1.01" transform="rotate(146 81.7 559.99)"/><ellipse cx="70.49" cy="526.82" rx="1.73" ry="0.94" transform="rotate(33 70.49 526.82)"/><ellipse cx="82.25" cy="510.05" rx="1.65" ry="1.15" transform="rotate(7 82.25 510.05)"/><ellipse cx="86.23" cy="585.19" rx="1.71" ry="0.81" transform="rotate(64 86.23 585.19)"/><ellipse cx="45.99" cy="576.88" rx="1.61" ry="1.01" transform="rotate(52 45.99 576.88)"/><ellipse cx="107.88" cy="546.85" rx="1.34" ry="0.97" transform="rotate(60 107.88 546.85)"/><ellipse cx="88.97" cy="567.46" rx="1.36" ry="0.86" transform="rotate(92 88.97 567.46)"/><ellipse cx="56.33" cy="524.65" rx="1.56" ry="0.9" transform="rotate(59 56.33 524.65)"/><ellipse cx="98.24" cy="573.08" rx="1.3" ry="1.11" transform="rotate(8 98.24 573.08)"/><ellipse cx="44.94" cy="584.09" rx="1.56" ry="0.9" transform="rotate(90 44.94 584.09)"/><ellipse cx="86.28" cy="499.76" rx="1.69" ry="0.9" transform="rotate(88 86.28 499.76)"/><ellipse cx="97.61" cy="581.27" rx="1.6" ry="1.07" transform="rotate(161 97.61 581.27)"/><ellipse cx="65.13" cy="533.88" rx="1.67" ry="1.18" transform="rotate(64 65.13 533.88)"/><ellipse cx="93.55" cy="514.82" rx="1.67" ry="0.83" transform="rotate(47 93.55 514.82)"/><ellipse cx="76.99" cy="540.88" rx="1.4" ry="0.87" transform="rotate(97 76.99 540.88)"/><ellipse cx="32.01" cy="572.61" rx="1.22" ry="0.94" transform="rotate(152 32.01 572.61)"/><ellipse cx="38.8" cy="516.45" rx="1.39" ry="0.81" transform="rotate(165 38.8 516.45)"/><ellipse cx="26.44" cy="536.63" rx="1.26" ry="1.13" transform="rotate(120 26.44 536.63)"/><ellipse cx="109.92" cy="578.5" rx="1.5" ry="0.84" transform="rotate(33 109.92 578.5)"/><ellipse cx="111.41" cy="550.62" rx="1.5" ry="0.92" transform="rotate(106 111.41 550.62)"/><ellipse cx="59.54" cy="573.18" rx="1.5" ry="1.03" transform="rotate(137 59.54 573.18)"/><ellipse cx="64.47" cy="539.45" rx="1.3" ry="1.1" transform="rotate(167 64.47 539.45)"/><ellipse cx="28.34" cy="554.66" rx="1.47" ry="1.04" transform="rotate(129 28.34 554.66)"/><ellipse cx="74.36" cy="553.28" rx="1.44" ry="0.93" transform="rotate(22 74.36 553.28)"/><ellipse cx="44" cy="518.48" rx="1.4" ry="1.02" transform="rotate(104 44 518.48)"/><ellipse cx="47.03" cy="576.86" rx="1.55" ry="0.91" transform="rotate(54 47.03 576.86)"/><ellipse cx="69.04" cy="535.85" rx="1.29" ry="0.83" transform="rotate(96 69.04 535.85)"/><ellipse cx="75.17" cy="500.3" rx="1.28" ry="1.09" transform="rotate(51 75.17 500.3)"/><ellipse cx="46.59" cy="579.9" rx="1.77" ry="1.08" transform="rotate(119 46.59 579.9)"/></g><g fill="#1e287a"><ellipse cx="64.13" cy="508.96" rx="1.48" ry="1.13" transform="rotate(108 64.13 508.96)"/><ellipse cx="107.47" cy="547.27" rx="1.64" ry="0.89" transform="rotate(27 107.47 547.27)"/><ellipse cx="25.38" cy="505.6" rx="1.67" ry="1.08" transform="rotate(46 25.38 505.6)"/><ellipse cx="69.72" cy="511.89" rx="1.21" ry="1.12" transform="rotate(158 69.72 511.89)"/><ellipse cx="90.85" cy="523.52" rx="1.26" ry="1.16" transform="rotate(171 90.85 523.52)"/><ellipse cx="37.36" cy="549.49" rx="1.48" ry="0.87" transform="rotate(150 37.36 549.49)"/><ellipse cx="94.53" cy="526.78" rx="1.43" ry="0.93" transform="rotate(176 94.53 526.78)"/><ellipse cx="64.99" cy="568.11" rx="1.49" ry="0.83" transform="rotate(126 64.99 568.11)"/><ellipse cx="28.91" cy="575.42" rx="1.51" ry="1.1" transform="rotate(74 28.91 575.42)"/><ellipse cx="35.35" cy="561.9" rx="1.36" ry="1.01" transform="rotate(88 35.35 561.9)"/><ellipse cx="53.46" cy="540.02" rx="1.6" ry="1.06" transform="rotate(109 53.46 540.02)"/><ellipse cx="103.37" cy="557.94" rx="1.23" ry="1.16" transform="rotate(88 103.37 557.94)"/><ellipse cx="63.1" cy="540.93" rx="1.22" ry="0.84" transform="rotate(0 63.1 540.93)"/><ellipse cx="85.64" cy="504.37" rx="1.58" ry="1.19" transform="rotate(23 85.64 504.37)"/><ellipse cx="89.88" cy="559.02" rx="1.75" ry="0.95" transform="rotate(35 89.88 559.02)"/><ellipse cx="80.78" cy="514.4" rx="1.35" ry="1.19" transform="rotate(54 80.78 514.4)"/><ellipse cx="55.51" cy="584.21" rx="1.75" ry="0.86" transform="rotate(6 55.51 584.21)"/><ellipse cx="94.95" cy="545.37" rx="1.52" ry="0.9" transform="rotate(100 94.95 545.37)"/><ellipse cx="27.22" cy="564.69" rx="1.45" ry="1.13" transform="rotate(142 27.22 564.69)"/><ellipse cx="27.76" cy="575.23" rx="1.72" ry="0.96" transform="rotate(87 27.76 575.23)"/><ellipse cx="54.68" cy="506.92" rx="1.61" ry="0.87" transform="rotate(109 54.68 506.92)"/><ellipse cx="52.42" cy="508.56" rx="1.5" ry="1.01" transform="rotate(46 52.42 508.56)"/><ellipse cx="39.01" cy="555.06" rx="1.74" ry="1.13" transform="rotate(173 39.01 555.06)"/><ellipse cx="46.26" cy="504.07" rx="1.45" ry="0.85" transform="rotate(146 46.26 504.07)"/><ellipse cx="76.94" cy="533.68" rx="1.46" ry="0.86" transform="rotate(123 76.94 533.68)"/><ellipse cx="33.78" cy="580.31" rx="1.42" ry="0.81" transform="rotate(109 33.78 580.31)"/><ellipse cx="54.15" cy="586.1" rx="1.3" ry="0.91" transform="rotate(70 54.15 586.1)"/><ellipse cx="107.59" cy="534.35" rx="1.53" ry="1.12" transform="rotate(157 107.59 534.35)"/><ellipse cx="85.34" cy="566.84" rx="1.4" ry="1.04" transform="rotate(37 85.34 566.84)"/><ellipse cx="109.18" cy="548.63" rx="1.64" ry="1.07" transform="rotate(172 109.18 548.63)"/><ellipse cx="40.88" cy="505.35" rx="1.34" ry="0.84" transform="rotate(141 40.88 505.35)"/><ellipse cx="24.41" cy="524.35" rx="1.64" ry="1.07" transform="rotate(111 24.41 524.35)"/><ellipse cx="36.23" cy="569.69" rx="1.62" ry="0.98" transform="rotate(66 36.23 569.69)"/><ellipse cx="78.31" cy="530.18" rx="1.6" ry="0.92" transform="rotate(120 78.31 530.18)"/><ellipse cx="107.06" cy="532.7" rx="1.43" ry="1.18" transform="rotate(111 107.06 532.7)"/><ellipse cx="82.46" cy="538.32" rx="1.33" ry="0.82" transform="rotate(107 82.46 538.32)"/><ellipse cx="32.81" cy="550.52" rx="1.4" ry="0.95" transform="rotate(69 32.81 550.52)"/><ellipse cx="110.34" cy="560.02" rx="1.28" ry="1.1" transform="rotate(132 110.34 560.02)"/><ellipse cx="44.31" cy="499.36" rx="1.74" ry="1.17" transform="rotate(84 44.31 499.36)"/><ellipse cx="33.45" cy="540.89" rx="1.36" ry="0.83" transform="rotate(157 33.45 540.89)"/><ellipse cx="35.7" cy="563.38" rx="1.75" ry="1.16" transform="rotate(67 35.7 563.38)"/><ellipse cx="50.66" cy="523.07" rx="1.43" ry="1.02" transform="rotate(173 50.66 523.07)"/><ellipse cx="59.71" cy="562.19" rx="1.28" ry="0.92" transform="rotate(155 59.71 562.19)"/><ellipse cx="72.65" cy="515.7" rx="1.75" ry="0.89" transform="rotate(31 72.65 515.7)"/><ellipse cx="58.67" cy="579.77" rx="1.3" ry="1.03" transform="rotate(109 58.67 579.77)"/><ellipse cx="65.15" cy="518.98" rx="1.24" ry="1.17" transform="rotate(92 65.15 518.98)"/><ellipse cx="86.91" cy="520.53" rx="1.42" ry="0.9" transform="rotate(134 86.91 520.53)"/><ellipse cx="88.12" cy="519.58" rx="1.49" ry="1.19" transform="rotate(2 88.12 519.58)"/><ellipse cx="34.69" cy="564.2" rx="1.7" ry="1.02" transform="rotate(166 34.69 564.2)"/><ellipse cx="101.95" cy="527.32" rx="1.25" ry="0.82" transform="rotate(71 101.95 527.32)"/><ellipse cx="88.75" cy="569.82" rx="1.6" ry="1.18" transform="rotate(129 88.75 569.82)"/><ellipse cx="57.29" cy="502.56" rx="1.45" ry="1.15" transform="rotate(56 57.29 502.56)"/><ellipse cx="41.14" cy="565.79" rx="1.78" ry="0.9" transform="rotate(98 41.14 565.79)"/><ellipse cx="81.65" cy="579.7" rx="1.73" ry="1.08" transform="rotate(162 81.65 579.7)"/><ellipse cx="97.91" cy="568.29" rx="1.79" ry="1.18" transform="rotate(10 97.91 568.29)"/><ellipse cx="102.26" cy="541.13" rx="1.66" ry="0.93" transform="rotate(148 102.26 541.13)"/><ellipse cx="72.42" cy="566.87" rx="1.75" ry="1.1" transform="rotate(15 72.42 566.87)"/><ellipse cx="88.12" cy="503.11" rx="1.38" ry="0.99" transform="rotate(115 88.12 503.11)"/><ellipse cx="38.45" cy="573.25" rx="1.72" ry="1.17" transform="rotate(69 38.45 573.25)"/><ellipse cx="36.11" cy="515.17" rx="1.35" ry="1.11" transform="rotate(52 36.11 515.17)"/><ellipse cx="86.83" cy="523.08" rx="1.37" ry="1.03" transform="rotate(57 86.83 523.08)"/><ellipse cx="97.85" cy="528.22" rx="1.48" ry="0.85" transform="rotate(141 97.85 528.22)"/><ellipse cx="52.34" cy="540.75" rx="1.23" ry="0.99" transform="rotate(157 52.34 540.75)"/><ellipse cx="88.99" cy="568.96" rx="1.51" ry="0.94" transform="rotate(46 88.99 568.96)"/><ellipse cx="43.27" cy="518.8" rx="1.68" ry="0.98" transform="rotate(176 43.27 518.8)"/><ellipse cx="33.15" cy="528.48" rx="1.77" ry="1.05" transform="rotate(12 33.15 528.48)"/><ellipse cx="29.93" cy="500.08" rx="1.4" ry="1.18" transform="rotate(114 29.93 500.08)"/><ellipse cx="71.62" cy="573.32" rx="1.73" ry="0.98" transform="rotate(33 71.62 573.32)"/><ellipse cx="36.92" cy="521.28" rx="1.35" ry="0.95" transform="rotate(74 36.92 521.28)"/><ellipse cx="50.72" cy="503.93" rx="1.73" ry="0.85" transform="rotate(32 50.72 503.93)"/><ellipse cx="82.11" cy="518.83" rx="1.49" ry="1.17" transform="rotate(12 82.11 518.83)"/><ellipse cx="41.79" cy="542.6" rx="1.29" ry="0.88" transform="rotate(133 41.79 542.6)"/><ellipse cx="83.02" cy="569.52" rx="1.28" ry="0.95" transform="rotate(97 83.02 569.52)"/><ellipse cx="29.68" cy="503.51" rx="1.53" ry="0.89" transform="rotate(88 29.68 503.51)"/></g><g fill="#3442aa"><ellipse cx="37.12" cy="545.35" rx="1.57" ry="0.87" transform="rotate(122 37.12 545.35)"/><ellipse cx="110.65" cy="580.59" rx="1.63" ry="0.96" transform="rotate(126 110.65 580.59)"/><ellipse cx="73.79" cy="502.99" rx="1.28" ry="1.16" transform="rotate(13 73.79 502.99)"/><ellipse cx="56.59" cy="539.3" rx="1.28" ry="0.87" transform="rotate(108 56.59 539.3)"/><ellipse cx="36.04" cy="551.35" rx="1.72" ry="1.13" transform="rotate(144 36.04 551.35)"/><ellipse cx="87.74" cy="520.05" rx="1.41" ry="1.08" transform="rotate(167 87.74 520.05)"/><ellipse cx="40.53" cy="522.75" rx="1.75" ry="0.97" transform="rotate(16 40.53 522.75)"/><ellipse cx="77.34" cy="530.19" rx="1.45" ry="0.85" transform="rotate(3 77.34 530.19)"/><ellipse cx="81.33" cy="500.11" rx="1.28" ry="1" transform="rotate(174 81.33 500.11)"/><ellipse cx="43.56" cy="522.41" rx="1.34" ry="0.98" transform="rotate(51 43.56 522.41)"/><ellipse cx="99.99" cy="516.06" rx="1.4" ry="0.81" transform="rotate(118 99.99 516.06)"/><ellipse cx="29.3" cy="551.38" rx="1.42" ry="1.03" transform="rotate(94 29.3 551.38)"/><ellipse cx="98.64" cy="535.25" rx="1.46" ry="0.86" transform="rotate(39 98.64 535.25)"/><ellipse cx="65.04" cy="510.2" rx="1.45" ry="0.97" transform="rotate(24 65.04 510.2)"/><ellipse cx="85.65" cy="559.76" rx="1.36" ry="0.9" transform="rotate(106 85.65 559.76)"/><ellipse cx="60.27" cy="535.82" rx="1.56" ry="1.17" transform="rotate(51 60.27 535.82)"/><ellipse cx="100.06" cy="506.85" rx="1.48" ry="0.83" transform="rotate(119 100.06 506.85)"/><ellipse cx="32.14" cy="578.42" rx="1.63" ry="1.17" transform="rotate(89 32.14 578.42)"/><ellipse cx="70.2" cy="547.25" rx="1.69" ry="1.01" transform="rotate(131 70.2 547.25)"/><ellipse cx="90.11" cy="557.46" rx="1.38" ry="0.93" transform="rotate(178 90.11 557.46)"/><ellipse cx="31.77" cy="524.26" rx="1.41" ry="0.82" transform="rotate(42 31.77 524.26)"/><ellipse cx="105.67" cy="567.36" rx="1.71" ry="0.84" transform="rotate(16 105.67 567.36)"/><ellipse cx="88.93" cy="558.85" rx="1.64" ry="0.87" transform="rotate(136 88.93 558.85)"/><ellipse cx="95.69" cy="583.66" rx="1.44" ry="1.08" transform="rotate(166 95.69 583.66)"/><ellipse cx="61.59" cy="533.7" rx="1.76" ry="0.81" transform="rotate(24 61.59 533.7)"/><ellipse cx="51.49" cy="508.34" rx="1.35" ry="0.96" transform="rotate(154 51.49 508.34)"/><ellipse cx="70.16" cy="542.86" rx="1.67" ry="1.19" transform="rotate(57 70.16 542.86)"/><ellipse cx="31.85" cy="575.14" rx="1.65" ry="1.12" transform="rotate(153 31.85 575.14)"/><ellipse cx="43.92" cy="560.97" rx="1.51" ry="1.11" transform="rotate(94 43.92 560.97)"/><ellipse cx="82.18" cy="585.78" rx="1.33" ry="0.9" transform="rotate(135 82.18 585.78)"/><ellipse cx="98.01" cy="584.44" rx="1.41" ry="0.92" transform="rotate(130 98.01 584.44)"/><ellipse cx="86.81" cy="523.14" rx="1.26" ry="0.96" transform="rotate(142 86.81 523.14)"/><ellipse cx="74.89" cy="520.81" rx="1.34" ry="0.97" transform="rotate(159 74.89 520.81)"/><ellipse cx="69.23" cy="515.2" rx="1.52" ry="1.16" transform="rotate(34 69.23 515.2)"/><ellipse cx="44.91" cy="555.44" rx="1.49" ry="0.96" transform="rotate(56 44.91 555.44)"/><ellipse cx="111.44" cy="553.41" rx="1.37" ry="1.05" transform="rotate(17 111.44 553.41)"/><ellipse cx="81.44" cy="510.49" rx="1.23" ry="1.2" transform="rotate(141 81.44 510.49)"/><ellipse cx="86.88" cy="569.87" rx="1.65" ry="1.09" transform="rotate(144 86.88 569.87)"/><ellipse cx="85.33" cy="533.41" rx="1.47" ry="1.01" transform="rotate(57 85.33 533.41)"/><ellipse cx="66.26" cy="536.3" rx="1.69" ry="0.92" transform="rotate(15 66.26 536.3)"/><ellipse cx="104.4" cy="536.93" rx="1.47" ry="0.8" transform="rotate(153 104.4 536.93)"/><ellipse cx="97.08" cy="576.95" rx="1.66" ry="1.14" transform="rotate(36 97.08 576.95)"/><ellipse cx="38.74" cy="514.24" rx="1.53" ry="1.13" transform="rotate(9 38.74 514.24)"/><ellipse cx="96.07" cy="527.06" rx="1.49" ry="1.16" transform="rotate(167 96.07 527.06)"/><ellipse cx="93.55" cy="576.83" rx="1.24" ry="0.99" transform="rotate(37 93.55 576.83)"/><ellipse cx="70.54" cy="568.74" rx="1.58" ry="1.17" transform="rotate(63 70.54 568.74)"/><ellipse cx="62.81" cy="512.78" rx="1.45" ry="0.87" transform="rotate(13 62.81 512.78)"/><ellipse cx="96.61" cy="537.71" rx="1.74" ry="0.94" transform="rotate(59 96.61 537.71)"/><ellipse cx="89.19" cy="546.88" rx="1.72" ry="0.88" transform="rotate(129 89.19 546.88)"/><ellipse cx="57.58" cy="541.89" rx="1.79" ry="0.95" transform="rotate(173 57.58 541.89)"/><ellipse cx="96.11" cy="578.3" rx="1.48" ry="0.9" transform="rotate(70 96.11 578.3)"/><ellipse cx="50.03" cy="585.69" rx="1.75" ry="0.86" transform="rotate(66 50.03 585.69)"/><ellipse cx="49.78" cy="511.9" rx="1.55" ry="0.86" transform="rotate(96 49.78 511.9)"/><ellipse cx="85.53" cy="563.37" rx="1.55" ry="1.12" transform="rotate(71 85.53 563.37)"/><ellipse cx="33.94" cy="520.27" rx="1.59" ry="1.18" transform="rotate(109 33.94 520.27)"/><ellipse cx="94.03" cy="559.23" rx="1.65" ry="1.08" transform="rotate(142 94.03 559.23)"/><ellipse cx="109.23" cy="573.35" rx="1.68" ry="0.9" transform="rotate(92 109.23 573.35)"/><ellipse cx="51.81" cy="577.26" rx="1.29" ry="1.06" transform="rotate(76 51.81 577.26)"/><ellipse cx="82.64" cy="524.04" rx="1.75" ry="0.93" transform="rotate(72 82.64 524.04)"/><ellipse cx="27.27" cy="551.31" rx="1.73" ry="1.08" transform="rotate(102 27.27 551.31)"/><ellipse cx="39.22" cy="555.72" rx="1.34" ry="1.05" transform="rotate(122 39.22 555.72)"/></g></g><circle cx="55.8" cy="518" r="2.5" fill="#ff2020" opacity="0.7" filter="url(#bl1)"/><circle cx="55.8" cy="518" r="1.3" fill="#ffd040" filter="url(#bl05)"/><circle cx="95.1" cy="537.8" r="2.5" fill="#ff2020" opacity="0.7" filter="url(#bl1)"/><circle cx="95.1" cy="537.8" r="1.3" fill="#ffd040" filter="url(#bl05)"/><circle cx="35.2" cy="563" r="2.5" fill="#ff2020" opacity="0.7" filter="url(#bl1)"/><circle cx="35.2" cy="563" r="1.3" fill="#ffd040" filter="url(#bl05)"/><path d="M92 505L104 507M58 518L64 520M97 538L101 537M95 540L98 549M35 563L40 566M40 566L46 569" stroke="#c02020" stroke-width="0.6" opacity="0.6"/><ellipse cx="102.3" cy="506.8" rx="0.9" ry="1.7" fill="#30d050" transform="rotate(30 102.3 506.8)" filter="url(#bl05)"/><ellipse cx="79.8" cy="526.3" rx="0.9" ry="1.7" fill="#30c060" transform="rotate(0 79.8 526.3)" filter="url(#bl05)"/><ellipse cx="35.5" cy="541.6" rx="0.9" ry="1.7" fill="#20a090" transform="rotate(60 35.5 541.6)" filter="url(#bl05)"/><ellipse cx="56.5" cy="545.8" rx="0.9" ry="1.7" fill="#20a0a0" transform="rotate(45 56.5 545.8)" filter="url(#bl05)"/><ellipse cx="98.9" cy="551.8" rx="0.9" ry="1.7" fill="#20b0a0" transform="rotate(20 98.9 551.8)" filter="url(#bl05)"/><ellipse cx="103" cy="557" rx="0.9" ry="1.7" fill="#40d050" transform="rotate(20 103 557)" filter="url(#bl05)"/><ellipse cx="77.6" cy="562.8" rx="0.9" ry="1.7" fill="#40d050" transform="rotate(60 77.6 562.8)" filter="url(#bl05)"/><ellipse cx="81.3" cy="563" rx="0.9" ry="1.7" fill="#30c050" transform="rotate(10 81.3 563)" filter="url(#bl05)"/><ellipse cx="93.8" cy="569" rx="0.9" ry="1.7" fill="#40d050" transform="rotate(30 93.8 569)" filter="url(#bl05)"/><ellipse cx="98.6" cy="571.3" rx="0.9" ry="1.7" fill="#20b0a0" transform="rotate(0 98.6 571.3)" filter="url(#bl05)"/><ellipse cx="82.8" cy="581" rx="0.9" ry="1.7" fill="#30d050" transform="rotate(10 82.8 581)" filter="url(#bl05)"/><ellipse cx="63.3" cy="579.6" rx="0.9" ry="1.7" fill="#20a0a0" transform="rotate(40 63.3 579.6)" filter="url(#bl05)"/><ellipse cx="75.3" cy="548.8" rx="0.9" ry="1.7" fill="#20a090" transform="rotate(0 75.3 548.8)" filter="url(#bl05)"/></g><g clip-path="url(#ch2)"><g filter="url(#bl05)"><g fill="#24308c"><ellipse cx="126.78" cy="530.52" rx="1.32" ry="1.05" transform="rotate(33 126.78 530.52)"/><ellipse cx="141.67" cy="586.15" rx="1.23" ry="0.84" transform="rotate(134 141.67 586.15)"/><ellipse cx="136.25" cy="581.29" rx="1.22" ry="1.18" transform="rotate(137 136.25 581.29)"/><ellipse cx="138.17" cy="558.84" rx="1.22" ry="0.86" transform="rotate(27 138.17 558.84)"/><ellipse cx="129.78" cy="507.19" rx="1.62" ry="1.13" transform="rotate(53 129.78 507.19)"/><ellipse cx="152.85" cy="570.15" rx="1.57" ry="1.01" transform="rotate(116 152.85 570.15)"/><ellipse cx="198.84" cy="563.5" rx="1.51" ry="0.81" transform="rotate(72 198.84 563.5)"/><ellipse cx="200.85" cy="560.74" rx="1.24" ry="0.84" transform="rotate(83 200.85 560.74)"/><ellipse cx="140.63" cy="574.96" rx="1.25" ry="0.95" transform="rotate(25 140.63 574.96)"/><ellipse cx="124.3" cy="532.28" rx="1.34" ry="1.17" transform="rotate(39 124.3 532.28)"/><ellipse cx="148.42" cy="544.2" rx="1.74" ry="0.88" transform="rotate(179 148.42 544.2)"/><ellipse cx="122.97" cy="559.46" rx="1.49" ry="0.85" transform="rotate(40 122.97 559.46)"/><ellipse cx="176.6" cy="513.89" rx="1.52" ry="0.84" transform="rotate(91 176.6 513.89)"/><ellipse cx="133.54" cy="543.29" rx="1.58" ry="0.89" transform="rotate(28 133.54 543.29)"/><ellipse cx="170.19" cy="520.91" rx="1.31" ry="0.92" transform="rotate(137 170.19 520.91)"/><ellipse cx="155.81" cy="547.25" rx="1.25" ry="0.89" transform="rotate(157 155.81 547.25)"/><ellipse cx="189.71" cy="563.68" rx="1.63" ry="1.04" transform="rotate(118 189.71 563.68)"/><ellipse cx="180.29" cy="527.36" rx="1.24" ry="1.14" transform="rotate(133 180.29 527.36)"/><ellipse cx="199.63" cy="562.9" rx="1.58" ry="1.04" transform="rotate(149 199.63 562.9)"/><ellipse cx="122.64" cy="554.53" rx="1.28" ry="0.88" transform="rotate(138 122.64 554.53)"/><ellipse cx="136.79" cy="538.67" rx="1.67" ry="1.1" transform="rotate(110 136.79 538.67)"/><ellipse cx="125.75" cy="512.56" rx="1.28" ry="1.03" transform="rotate(72 125.75 512.56)"/><ellipse cx="180.62" cy="550.94" rx="1.68" ry="0.88" transform="rotate(58 180.62 550.94)"/><ellipse cx="198.91" cy="554.9" rx="1.74" ry="1.05" transform="rotate(164 198.91 554.9)"/><ellipse cx="186.55" cy="557.72" rx="1.49" ry="0.97" transform="rotate(164 186.55 557.72)"/><ellipse cx="196.69" cy="578.46" rx="1.57" ry="1.01" transform="rotate(51 196.69 578.46)"/><ellipse cx="181.93" cy="501.38" rx="1.47" ry="1.16" transform="rotate(102 181.93 501.38)"/><ellipse cx="125.89" cy="569.79" rx="1.36" ry="1.06" transform="rotate(29 125.89 569.79)"/><ellipse cx="199.53" cy="567.93" rx="1.55" ry="1.05" transform="rotate(2 199.53 567.93)"/><ellipse cx="176.39" cy="531.17" rx="1.76" ry="0.89" transform="rotate(155 176.39 531.17)"/><ellipse cx="187.74" cy="573.17" rx="1.44" ry="1.18" transform="rotate(13 187.74 573.17)"/><ellipse cx="123.63" cy="510.98" rx="1.66" ry="1.18" transform="rotate(97 123.63 510.98)"/><ellipse cx="118.62" cy="519.67" rx="1.57" ry="1.14" transform="rotate(136 118.62 519.67)"/><ellipse cx="144.34" cy="544.37" rx="1.74" ry="0.98" transform="rotate(46 144.34 544.37)"/><ellipse cx="127.05" cy="586.03" rx="1.61" ry="0.83" transform="rotate(169 127.05 586.03)"/><ellipse cx="196.18" cy="563.47" rx="1.66" ry="0.94" transform="rotate(121 196.18 563.47)"/><ellipse cx="188.63" cy="499.66" rx="1.39" ry="1.08" transform="rotate(109 188.63 499.66)"/><ellipse cx="128.67" cy="512.52" rx="1.27" ry="1.03" transform="rotate(105 128.67 512.52)"/><ellipse cx="145.64" cy="579.27" rx="1.24" ry="0.98" transform="rotate(78 145.64 579.27)"/><ellipse cx="125.72" cy="543.58" rx="1.28" ry="0.93" transform="rotate(137 125.72 543.58)"/><ellipse cx="182.41" cy="514.71" rx="1.59" ry="0.94" transform="rotate(82 182.41 514.71)"/><ellipse cx="180.97" cy="519.28" rx="1.62" ry="1.1" transform="rotate(51 180.97 519.28)"/><ellipse cx="139.23" cy="568.42" rx="1.42" ry="1.08" transform="rotate(66 139.23 568.42)"/><ellipse cx="143.16" cy="503.45" rx="1.48" ry="0.94" transform="rotate(133 143.16 503.45)"/><ellipse cx="199.92" cy="532.7" rx="1.41" ry="1.03" transform="rotate(85 199.92 532.7)"/><ellipse cx="167.78" cy="576.85" rx="1.4" ry="0.85" transform="rotate(116 167.78 576.85)"/><ellipse cx="184.68" cy="580.24" rx="1.33" ry="0.87" transform="rotate(133 184.68 580.24)"/><ellipse cx="187.1" cy="553.28" rx="1.32" ry="1.14" transform="rotate(25 187.1 553.28)"/><ellipse cx="152.1" cy="535.15" rx="1.24" ry="1.08" transform="rotate(56 152.1 535.15)"/><ellipse cx="163.52" cy="529.57" rx="1.59" ry="1.11" transform="rotate(20 163.52 529.57)"/><ellipse cx="182.78" cy="499.26" rx="1.72" ry="1.02" transform="rotate(151 182.78 499.26)"/><ellipse cx="197.14" cy="557.11" rx="1.3" ry="0.84" transform="rotate(102 197.14 557.11)"/><ellipse cx="142.23" cy="531.78" rx="1.52" ry="0.98" transform="rotate(127 142.23 531.78)"/><ellipse cx="173.58" cy="517.29" rx="1.26" ry="0.87" transform="rotate(135 173.58 517.29)"/><ellipse cx="181.6" cy="539.58" rx="1.25" ry="1.11" transform="rotate(118 181.6 539.58)"/><ellipse cx="185.2" cy="518.12" rx="1.7" ry="0.82" transform="rotate(37 185.2 518.12)"/><ellipse cx="183.86" cy="564.23" rx="1.61" ry="0.85" transform="rotate(83 183.86 564.23)"/><ellipse cx="180.37" cy="501.32" rx="1.52" ry="0.8" transform="rotate(156 180.37 501.32)"/><ellipse cx="169.53" cy="573.41" rx="1.26" ry="0.97" transform="rotate(35 169.53 573.41)"/><ellipse cx="193.2" cy="551.79" rx="1.28" ry="0.98" transform="rotate(43 193.2 551.79)"/><ellipse cx="130.58" cy="517.67" rx="1.33" ry="0.98" transform="rotate(154 130.58 517.67)"/></g><g fill="#2c3a9e"><ellipse cx="192.92" cy="567.11" rx="1.56" ry="1.08" transform="rotate(79 192.92 567.11)"/><ellipse cx="135.12" cy="575.73" rx="1.74" ry="0.81" transform="rotate(179 135.12 575.73)"/><ellipse cx="153.88" cy="551.98" rx="1.31" ry="1.01" transform="rotate(20 153.88 551.98)"/><ellipse cx="180.78" cy="526.74" rx="1.25" ry="0.81" transform="rotate(32 180.78 526.74)"/><ellipse cx="156.01" cy="503.89" rx="1.46" ry="1.03" transform="rotate(16 156.01 503.89)"/><ellipse cx="170.97" cy="556.35" rx="1.5" ry="0.9" transform="rotate(2 170.97 556.35)"/><ellipse cx="159.74" cy="524.84" rx="1.42" ry="1.1" transform="rotate(111 159.74 524.84)"/><ellipse cx="114.23" cy="549.62" rx="1.34" ry="1.19" transform="rotate(34 114.23 549.62)"/><ellipse cx="163.76" cy="530.72" rx="1.61" ry="0.81" transform="rotate(11 163.76 530.72)"/><ellipse cx="141.21" cy="571.2" rx="1.4" ry="1.07" transform="rotate(122 141.21 571.2)"/><ellipse cx="170.51" cy="516.02" rx="1.79" ry="0.81" transform="rotate(13 170.51 516.02)"/><ellipse cx="200.62" cy="564.98" rx="1.2" ry="0.86" transform="rotate(57 200.62 564.98)"/><ellipse cx="119.12" cy="556.66" rx="1.76" ry="1.09" transform="rotate(39 119.12 556.66)"/><ellipse cx="131.48" cy="539.61" rx="1.55" ry="0.94" transform="rotate(140 131.48 539.61)"/><ellipse cx="126.81" cy="561.82" rx="1.44" ry="1" transform="rotate(4 126.81 561.82)"/><ellipse cx="128.89" cy="502.64" rx="1.49" ry="0.9" transform="rotate(170 128.89 502.64)"/><ellipse cx="135.92" cy="561.78" rx="1.29" ry="1.17" transform="rotate(149 135.92 561.78)"/><ellipse cx="182.13" cy="506.85" rx="1.35" ry="1.05" transform="rotate(125 182.13 506.85)"/><ellipse cx="168.42" cy="515.44" rx="1.75" ry="0.9" transform="rotate(28 168.42 515.44)"/><ellipse cx="177.38" cy="578.59" rx="1.25" ry="1.13" transform="rotate(13 177.38 578.59)"/><ellipse cx="164.05" cy="539.85" rx="1.74" ry="0.81" transform="rotate(179 164.05 539.85)"/><ellipse cx="129.98" cy="532.81" rx="1.38" ry="0.92" transform="rotate(18 129.98 532.81)"/><ellipse cx="186.56" cy="567.02" rx="1.55" ry="0.97" transform="rotate(164 186.56 567.02)"/><ellipse cx="155.32" cy="561.96" rx="1.34" ry="1.07" transform="rotate(76 155.32 561.96)"/><ellipse cx="159.35" cy="534.14" rx="1.28" ry="0.89" transform="rotate(119 159.35 534.14)"/><ellipse cx="158.41" cy="536.74" rx="1.5" ry="0.82" transform="rotate(41 158.41 536.74)"/><ellipse cx="156.3" cy="568.31" rx="1.42" ry="1.05" transform="rotate(23 156.3 568.31)"/><ellipse cx="128.11" cy="543.69" rx="1.55" ry="1.13" transform="rotate(153 128.11 543.69)"/><ellipse cx="199.75" cy="543.98" rx="1.26" ry="0.93" transform="rotate(6 199.75 543.98)"/><ellipse cx="166.03" cy="504.96" rx="1.39" ry="0.96" transform="rotate(56 166.03 504.96)"/><ellipse cx="169.09" cy="511.97" rx="1.65" ry="0.97" transform="rotate(177 169.09 511.97)"/><ellipse cx="148.88" cy="575.31" rx="1.76" ry="0.8" transform="rotate(88 148.88 575.31)"/><ellipse cx="169.27" cy="522.48" rx="1.74" ry="0.99" transform="rotate(95 169.27 522.48)"/><ellipse cx="169" cy="517.78" rx="1.68" ry="0.99" transform="rotate(78 169 517.78)"/><ellipse cx="189.47" cy="506.31" rx="1.32" ry="1.13" transform="rotate(155 189.47 506.31)"/><ellipse cx="183.07" cy="541.83" rx="1.38" ry="0.91" transform="rotate(95 183.07 541.83)"/><ellipse cx="177.82" cy="515.94" rx="1.23" ry="0.92" transform="rotate(112 177.82 515.94)"/><ellipse cx="179.92" cy="560.22" rx="1.75" ry="1.19" transform="rotate(8 179.92 560.22)"/><ellipse cx="151.57" cy="537.77" rx="1.75" ry="0.94" transform="rotate(38 151.57 537.77)"/><ellipse cx="125.77" cy="537.43" rx="1.61" ry="0.97" transform="rotate(101 125.77 537.43)"/><ellipse cx="143.9" cy="582.25" rx="1.67" ry="0.95" transform="rotate(81 143.9 582.25)"/><ellipse cx="151.31" cy="504.53" rx="1.28" ry="1.01" transform="rotate(40 151.31 504.53)"/><ellipse cx="172.13" cy="562.13" rx="1.37" ry="1.18" transform="rotate(170 172.13 562.13)"/><ellipse cx="138.89" cy="546.4" rx="1.7" ry="1.02" transform="rotate(95 138.89 546.4)"/><ellipse cx="139.68" cy="578.91" rx="1.38" ry="0.86" transform="rotate(81 139.68 578.91)"/><ellipse cx="128.64" cy="542.49" rx="1.56" ry="0.9" transform="rotate(100 128.64 542.49)"/><ellipse cx="142.07" cy="537.1" rx="1.43" ry="0.83" transform="rotate(18 142.07 537.1)"/><ellipse cx="130.18" cy="565.26" rx="1.55" ry="1.01" transform="rotate(122 130.18 565.26)"/><ellipse cx="177.74" cy="512.89" rx="1.62" ry="1.08" transform="rotate(35 177.74 512.89)"/><ellipse cx="176.69" cy="526.36" rx="1.21" ry="1.01" transform="rotate(5 176.69 526.36)"/><ellipse cx="125.75" cy="523.6" rx="1.39" ry="1.01" transform="rotate(67 125.75 523.6)"/><ellipse cx="191.99" cy="570.69" rx="1.44" ry="1.03" transform="rotate(179 191.99 570.69)"/><ellipse cx="128.4" cy="560.47" rx="1.45" ry="1.09" transform="rotate(21 128.4 560.47)"/><ellipse cx="124.14" cy="576.12" rx="1.25" ry="0.96" transform="rotate(37 124.14 576.12)"/><ellipse cx="145.91" cy="567.29" rx="1.45" ry="0.87" transform="rotate(122 145.91 567.29)"/><ellipse cx="116.23" cy="499.73" rx="1.24" ry="0.82" transform="rotate(139 116.23 499.73)"/><ellipse cx="161.21" cy="581.79" rx="1.61" ry="0.99" transform="rotate(50 161.21 581.79)"/><ellipse cx="144.7" cy="577.43" rx="1.47" ry="1.09" transform="rotate(73 144.7 577.43)"/><ellipse cx="169.45" cy="586.08" rx="1.49" ry="1.15" transform="rotate(164 169.45 586.08)"/><ellipse cx="156.91" cy="517.49" rx="1.24" ry="1.01" transform="rotate(57 156.91 517.49)"/><ellipse cx="160.41" cy="572.78" rx="1.34" ry="0.82" transform="rotate(48 160.41 572.78)"/><ellipse cx="159.96" cy="555.17" rx="1.28" ry="1.17" transform="rotate(177 159.96 555.17)"/><ellipse cx="190.03" cy="520.1" rx="1.49" ry="0.92" transform="rotate(150 190.03 520.1)"/><ellipse cx="139.54" cy="542.72" rx="1.27" ry="0.98" transform="rotate(14 139.54 542.72)"/><ellipse cx="133" cy="522.37" rx="1.66" ry="0.81" transform="rotate(106 133 522.37)"/><ellipse cx="146.23" cy="546.87" rx="1.61" ry="1.05" transform="rotate(120 146.23 546.87)"/><ellipse cx="194.24" cy="529.2" rx="1.49" ry="1.1" transform="rotate(162 194.24 529.2)"/><ellipse cx="156.13" cy="571.02" rx="1.76" ry="1.12" transform="rotate(171 156.13 571.02)"/><ellipse cx="180.59" cy="507.16" rx="1.61" ry="1.08" transform="rotate(177 180.59 507.16)"/><ellipse cx="157.83" cy="534.55" rx="1.43" ry="1.05" transform="rotate(23 157.83 534.55)"/><ellipse cx="189.04" cy="567.94" rx="1.59" ry="0.9" transform="rotate(34 189.04 567.94)"/><ellipse cx="120.32" cy="519.53" rx="1.61" ry="1.12" transform="rotate(50 120.32 519.53)"/><ellipse cx="143.17" cy="499.66" rx="1.72" ry="0.89" transform="rotate(119 143.17 499.66)"/><ellipse cx="139.25" cy="499.56" rx="1.55" ry="1.1" transform="rotate(120 139.25 499.56)"/><ellipse cx="141.6" cy="553.77" rx="1.74" ry="0.95" transform="rotate(142 141.6 553.77)"/><ellipse cx="157.46" cy="569.53" rx="1.4" ry="0.94" transform="rotate(66 157.46 569.53)"/><ellipse cx="181.38" cy="548.9" rx="1.3" ry="0.89" transform="rotate(93 181.38 548.9)"/></g><g fill="#1e287a"><ellipse cx="190.61" cy="536.86" rx="1.37" ry="0.96" transform="rotate(3 190.61 536.86)"/><ellipse cx="160.67" cy="571.69" rx="1.38" ry="1.07" transform="rotate(94 160.67 571.69)"/><ellipse cx="133.47" cy="569.05" rx="1.58" ry="1.08" transform="rotate(68 133.47 569.05)"/><ellipse cx="152.48" cy="537.78" rx="1.77" ry="0.89" transform="rotate(49 152.48 537.78)"/><ellipse cx="200.52" cy="509.75" rx="1.34" ry="0.89" transform="rotate(124 200.52 509.75)"/><ellipse cx="178.45" cy="514.03" rx="1.58" ry="0.87" transform="rotate(52 178.45 514.03)"/><ellipse cx="135.79" cy="569.3" rx="1.45" ry="0.95" transform="rotate(127 135.79 569.3)"/><ellipse cx="123.61" cy="566.52" rx="1.47" ry="1.18" transform="rotate(146 123.61 566.52)"/><ellipse cx="130.46" cy="547.54" rx="1.3" ry="1.2" transform="rotate(14 130.46 547.54)"/><ellipse cx="175.9" cy="529.16" rx="1.79" ry="1.15" transform="rotate(30 175.9 529.16)"/><ellipse cx="126.75" cy="519.12" rx="1.57" ry="0.86" transform="rotate(131 126.75 519.12)"/><ellipse cx="178.49" cy="527.5" rx="1.45" ry="1.13" transform="rotate(43 178.49 527.5)"/><ellipse cx="139.85" cy="532.52" rx="1.29" ry="0.95" transform="rotate(94 139.85 532.52)"/><ellipse cx="130.77" cy="565.39" rx="1.59" ry="0.81" transform="rotate(157 130.77 565.39)"/><ellipse cx="178.26" cy="548.98" rx="1.77" ry="1.19" transform="rotate(111 178.26 548.98)"/><ellipse cx="148.55" cy="533.97" rx="1.63" ry="0.81" transform="rotate(78 148.55 533.97)"/><ellipse cx="158.8" cy="536.91" rx="1.3" ry="0.91" transform="rotate(143 158.8 536.91)"/><ellipse cx="140.13" cy="540.47" rx="1.56" ry="1.02" transform="rotate(53 140.13 540.47)"/><ellipse cx="185.42" cy="550.82" rx="1.79" ry="1.11" transform="rotate(109 185.42 550.82)"/><ellipse cx="129.82" cy="543.15" rx="1.75" ry="0.9" transform="rotate(149 129.82 543.15)"/><ellipse cx="154.12" cy="584.11" rx="1.24" ry="1.13" transform="rotate(147 154.12 584.11)"/><ellipse cx="200.53" cy="572.52" rx="1.56" ry="1.02" transform="rotate(152 200.53 572.52)"/><ellipse cx="128.05" cy="578.47" rx="1.54" ry="0.89" transform="rotate(99 128.05 578.47)"/><ellipse cx="170.3" cy="504.09" rx="1.77" ry="1.1" transform="rotate(152 170.3 504.09)"/><ellipse cx="123.52" cy="559.66" rx="1.34" ry="0.82" transform="rotate(107 123.52 559.66)"/><ellipse cx="178.29" cy="507.24" rx="1.31" ry="0.85" transform="rotate(172 178.29 507.24)"/><ellipse cx="187.65" cy="539.39" rx="1.43" ry="0.92" transform="rotate(53 187.65 539.39)"/><ellipse cx="165.96" cy="551.52" rx="1.26" ry="0.88" transform="rotate(135 165.96 551.52)"/><ellipse cx="155.9" cy="513.96" rx="1.74" ry="1.05" transform="rotate(114 155.9 513.96)"/><ellipse cx="176.12" cy="570.98" rx="1.67" ry="1.08" transform="rotate(108 176.12 570.98)"/><ellipse cx="168.46" cy="530.77" rx="1.71" ry="0.83" transform="rotate(58 168.46 530.77)"/><ellipse cx="167.4" cy="522.69" rx="1.75" ry="1.05" transform="rotate(171 167.4 522.69)"/><ellipse cx="145.6" cy="517.18" rx="1.63" ry="1.11" transform="rotate(144 145.6 517.18)"/><ellipse cx="191.56" cy="555.84" rx="1.4" ry="0.94" transform="rotate(152 191.56 555.84)"/><ellipse cx="139.44" cy="534.51" rx="1.34" ry="1.17" transform="rotate(164 139.44 534.51)"/><ellipse cx="146.93" cy="557.37" rx="1.78" ry="0.82" transform="rotate(2 146.93 557.37)"/><ellipse cx="149.08" cy="500.92" rx="1.4" ry="1.09" transform="rotate(64 149.08 500.92)"/><ellipse cx="136.37" cy="582.2" rx="1.43" ry="1.16" transform="rotate(106 136.37 582.2)"/><ellipse cx="145.86" cy="563.37" rx="1.26" ry="1.01" transform="rotate(138 145.86 563.37)"/><ellipse cx="166.07" cy="517.66" rx="1.44" ry="1.03" transform="rotate(104 166.07 517.66)"/><ellipse cx="131.63" cy="526.4" rx="1.46" ry="0.93" transform="rotate(16 131.63 526.4)"/><ellipse cx="166.4" cy="501" rx="1.22" ry="0.89" transform="rotate(111 166.4 501)"/><ellipse cx="129.7" cy="529.5" rx="1.39" ry="1.03" transform="rotate(51 129.7 529.5)"/><ellipse cx="182.9" cy="530.22" rx="1.37" ry="1.05" transform="rotate(134 182.9 530.22)"/><ellipse cx="118.8" cy="531.04" rx="1.45" ry="0.8" transform="rotate(47 118.8 531.04)"/><ellipse cx="124.53" cy="513.1" rx="1.39" ry="1.18" transform="rotate(8 124.53 513.1)"/><ellipse cx="189.25" cy="518.56" rx="1.43" ry="1.08" transform="rotate(49 189.25 518.56)"/><ellipse cx="141.38" cy="565.87" rx="1.56" ry="1.08" transform="rotate(25 141.38 565.87)"/><ellipse cx="144.23" cy="527.81" rx="1.71" ry="0.92" transform="rotate(34 144.23 527.81)"/><ellipse cx="155.95" cy="506.8" rx="1.65" ry="0.89" transform="rotate(88 155.95 506.8)"/><ellipse cx="137.7" cy="540.85" rx="1.25" ry="0.88" transform="rotate(122 137.7 540.85)"/><ellipse cx="144.59" cy="529.76" rx="1.42" ry="1.15" transform="rotate(154 144.59 529.76)"/><ellipse cx="139.62" cy="531.35" rx="1.21" ry="1.12" transform="rotate(76 139.62 531.35)"/><ellipse cx="178.99" cy="518.79" rx="1.6" ry="0.9" transform="rotate(78 178.99 518.79)"/><ellipse cx="186.47" cy="510.16" rx="1.67" ry="1.13" transform="rotate(119 186.47 510.16)"/><ellipse cx="182.87" cy="538.23" rx="1.35" ry="0.93" transform="rotate(153 182.87 538.23)"/><ellipse cx="165.81" cy="521.77" rx="1.68" ry="1.09" transform="rotate(4 165.81 521.77)"/><ellipse cx="176.22" cy="549.42" rx="1.44" ry="0.87" transform="rotate(175 176.22 549.42)"/><ellipse cx="161.15" cy="540.41" rx="1.38" ry="1.01" transform="rotate(134 161.15 540.41)"/><ellipse cx="180.4" cy="573.55" rx="1.37" ry="0.91" transform="rotate(90 180.4 573.55)"/><ellipse cx="116.62" cy="567.07" rx="1.53" ry="0.98" transform="rotate(129 116.62 567.07)"/><ellipse cx="159.96" cy="571.72" rx="1.34" ry="1.05" transform="rotate(159 159.96 571.72)"/><ellipse cx="119.66" cy="505.41" rx="1.64" ry="1.03" transform="rotate(130 119.66 505.41)"/></g><g fill="#3442aa"><ellipse cx="159.06" cy="509" rx="1.39" ry="0.85" transform="rotate(155 159.06 509)"/><ellipse cx="156.64" cy="545.38" rx="1.24" ry="1.16" transform="rotate(66 156.64 545.38)"/><ellipse cx="152.75" cy="499.93" rx="1.51" ry="0.82" transform="rotate(168 152.75 499.93)"/><ellipse cx="200.36" cy="545.06" rx="1.59" ry="0.94" transform="rotate(120 200.36 545.06)"/><ellipse cx="161.52" cy="566.69" rx="1.67" ry="0.88" transform="rotate(62 161.52 566.69)"/><ellipse cx="124.07" cy="560.02" rx="1.73" ry="0.85" transform="rotate(13 124.07 560.02)"/><ellipse cx="124.19" cy="531.41" rx="1.61" ry="1.06" transform="rotate(161 124.19 531.41)"/><ellipse cx="152.73" cy="554.48" rx="1.48" ry="0.88" transform="rotate(80 152.73 554.48)"/><ellipse cx="158.22" cy="555.78" rx="1.24" ry="1.18" transform="rotate(113 158.22 555.78)"/><ellipse cx="168.39" cy="506.84" rx="1.38" ry="0.82" transform="rotate(123 168.39 506.84)"/><ellipse cx="157.07" cy="542.88" rx="1.5" ry="0.93" transform="rotate(110 157.07 542.88)"/><ellipse cx="143.95" cy="526.34" rx="1.32" ry="1.01" transform="rotate(111 143.95 526.34)"/><ellipse cx="150.4" cy="539.75" rx="1.23" ry="1.06" transform="rotate(136 150.4 539.75)"/><ellipse cx="156.99" cy="570.42" rx="1.35" ry="1.2" transform="rotate(120 156.99 570.42)"/><ellipse cx="181.47" cy="507.21" rx="1.68" ry="1.05" transform="rotate(3 181.47 507.21)"/><ellipse cx="161.43" cy="566.91" rx="1.41" ry="1" transform="rotate(93 161.43 566.91)"/><ellipse cx="193.73" cy="567.39" rx="1.55" ry="1" transform="rotate(42 193.73 567.39)"/><ellipse cx="154.35" cy="564.3" rx="1.76" ry="0.88" transform="rotate(127 154.35 564.3)"/><ellipse cx="173.14" cy="539.95" rx="1.24" ry="0.87" transform="rotate(105 173.14 539.95)"/><ellipse cx="142.53" cy="532.61" rx="1.57" ry="1.19" transform="rotate(119 142.53 532.61)"/><ellipse cx="183.37" cy="555.65" rx="1.75" ry="1.05" transform="rotate(12 183.37 555.65)"/><ellipse cx="163.28" cy="514.98" rx="1.61" ry="0.95" transform="rotate(108 163.28 514.98)"/><ellipse cx="171.77" cy="537.8" rx="1.4" ry="0.88" transform="rotate(167 171.77 537.8)"/><ellipse cx="142.24" cy="570.02" rx="1.62" ry="1.19" transform="rotate(23 142.24 570.02)"/><ellipse cx="199.73" cy="503.29" rx="1.47" ry="1.13" transform="rotate(81 199.73 503.29)"/><ellipse cx="189.73" cy="516" rx="1.62" ry="1.06" transform="rotate(79 189.73 516)"/><ellipse cx="165.93" cy="541.58" rx="1.63" ry="0.83" transform="rotate(137 165.93 541.58)"/><ellipse cx="139.83" cy="550.04" rx="1.51" ry="1.04" transform="rotate(79 139.83 550.04)"/><ellipse cx="159.27" cy="542.07" rx="1.28" ry="0.92" transform="rotate(39 159.27 542.07)"/><ellipse cx="148.28" cy="507.92" rx="1.28" ry="0.94" transform="rotate(56 148.28 507.92)"/><ellipse cx="189.56" cy="501.58" rx="1.74" ry="0.88" transform="rotate(109 189.56 501.58)"/><ellipse cx="195.61" cy="551.79" rx="1.33" ry="0.95" transform="rotate(8 195.61 551.79)"/><ellipse cx="117.97" cy="564.5" rx="1.21" ry="1.01" transform="rotate(178 117.97 564.5)"/><ellipse cx="153.53" cy="506.65" rx="1.46" ry="0.94" transform="rotate(151 153.53 506.65)"/><ellipse cx="121.36" cy="560.58" rx="1.77" ry="0.95" transform="rotate(17 121.36 560.58)"/><ellipse cx="132.95" cy="540.35" rx="1.57" ry="1.11" transform="rotate(173 132.95 540.35)"/><ellipse cx="118.99" cy="527.9" rx="1.53" ry="1.15" transform="rotate(14 118.99 527.9)"/><ellipse cx="120.47" cy="581.13" rx="1.22" ry="1.15" transform="rotate(66 120.47 581.13)"/><ellipse cx="190.94" cy="574.39" rx="1.25" ry="0.99" transform="rotate(159 190.94 574.39)"/><ellipse cx="117.06" cy="517.2" rx="1.26" ry="1.01" transform="rotate(147 117.06 517.2)"/><ellipse cx="164.53" cy="577.18" rx="1.23" ry="1.11" transform="rotate(107 164.53 577.18)"/><ellipse cx="165.06" cy="538.49" rx="1.48" ry="1.09" transform="rotate(133 165.06 538.49)"/><ellipse cx="190.56" cy="527.98" rx="1.26" ry="1.17" transform="rotate(46 190.56 527.98)"/><ellipse cx="192.46" cy="551.78" rx="1.29" ry="0.89" transform="rotate(143 192.46 551.78)"/><ellipse cx="182.87" cy="518.73" rx="1.5" ry="1.18" transform="rotate(143 182.87 518.73)"/><ellipse cx="157.26" cy="515.62" rx="1.32" ry="1.19" transform="rotate(118 157.26 515.62)"/><ellipse cx="181.54" cy="561.56" rx="1.29" ry="0.81" transform="rotate(165 181.54 561.56)"/><ellipse cx="128.25" cy="521.19" rx="1.51" ry="1.02" transform="rotate(174 128.25 521.19)"/><ellipse cx="158.67" cy="552.63" rx="1.43" ry="1.13" transform="rotate(23 158.67 552.63)"/><ellipse cx="186.52" cy="532.38" rx="1.44" ry="1.14" transform="rotate(143 186.52 532.38)"/><ellipse cx="121.44" cy="550.79" rx="1.76" ry="0.97" transform="rotate(88 121.44 550.79)"/><ellipse cx="145.39" cy="543.84" rx="1.29" ry="0.98" transform="rotate(3 145.39 543.84)"/><ellipse cx="123.33" cy="546.37" rx="1.54" ry="1.12" transform="rotate(98 123.33 546.37)"/><ellipse cx="116.25" cy="501.24" rx="1.47" ry="1.08" transform="rotate(120 116.25 501.24)"/><ellipse cx="197.66" cy="547.67" rx="1.5" ry="0.94" transform="rotate(13 197.66 547.67)"/><ellipse cx="170.22" cy="586.42" rx="1.34" ry="1.11" transform="rotate(134 170.22 586.42)"/><ellipse cx="197.91" cy="585.22" rx="1.27" ry="0.87" transform="rotate(107 197.91 585.22)"/><ellipse cx="116.8" cy="509.99" rx="1.24" ry="1.1" transform="rotate(110 116.8 509.99)"/><ellipse cx="125.66" cy="500.22" rx="1.34" ry="0.89" transform="rotate(54 125.66 500.22)"/></g></g><rect x="176.8" y="579.7" width="21.5" height="1.8" fill="#ffffff" /></g><text transform="translate(21.2,542.6) rotate(-90)" font-size="8.6" text-anchor="middle" fill="#e3262b">O4<tspan fill="#333">/</tspan><tspan fill="#1fa24a">SOX10</tspan><tspan fill="#333">/</tspan><tspan fill="#1aa3e0">DAPI</tspan></text><line x1="230.7" y1="504.4" x2="230.7" y2="580.3" stroke="#555" stroke-width="0.8" /><line x1="228.4" y1="580.3" x2="230.7" y2="580.3" stroke="#555" stroke-width="0.8" /><text x="228.6" y="583" font-size="7.6" text-anchor="end">0</text><line x1="228.4" y1="565.12" x2="230.7" y2="565.12" stroke="#555" stroke-width="0.8" /><text x="228.6" y="567.82" font-size="7.6" text-anchor="end">2</text><line x1="228.4" y1="549.94" x2="230.7" y2="549.94" stroke="#555" stroke-width="0.8" /><text x="228.6" y="552.64" font-size="7.6" text-anchor="end">4</text><line x1="228.4" y1="534.76" x2="230.7" y2="534.76" stroke="#555" stroke-width="0.8" /><text x="228.6" y="537.46" font-size="7.6" text-anchor="end">6</text><line x1="228.4" y1="519.58" x2="230.7" y2="519.58" stroke="#555" stroke-width="0.8" /><text x="228.6" y="522.28" font-size="7.6" text-anchor="end">8</text><line x1="228.4" y1="504.4" x2="230.7" y2="504.4" stroke="#555" stroke-width="0.8" /><text x="228.6" y="507.1" font-size="7.6" text-anchor="end">10</text><line x1="230.7" y1="580.3" x2="282.8" y2="580.3" stroke="#555" stroke-width="0.8" /><circle cx="244.1" cy="512" r="1.9" fill="#8a8a8a"/><circle cx="248.1" cy="514" r="1.9" fill="#8a8a8a"/><circle cx="246.5" cy="525.1" r="1.9" fill="#8a8a8a"/><line x1="239.1" y1="517.1" x2="253.7" y2="517.1" stroke="#333" stroke-width="0.9" /><line x1="246.5" y1="511" x2="246.5" y2="522.5" stroke="#333" stroke-width="0.8" /><line x1="244.8" y1="511" x2="248.2" y2="511" stroke="#333" stroke-width="0.8" /><line x1="244.8" y1="522.5" x2="248.2" y2="522.5" stroke="#333" stroke-width="0.8" /><circle cx="263.8" cy="580.3" r="1.9" fill="#e8413f"/><circle cx="268.5" cy="580.3" r="1.9" fill="#e8413f"/><circle cx="273.1" cy="580.3" r="1.9" fill="#e8413f"/><path d="M246.1 505V501.6H268.8V505" fill="none" stroke="#333" stroke-width="0.8"/><text x="256" y="501.3" font-size="6.6" text-anchor="middle" font-weight="bold" fill="#111">*</text><text x="259" y="501.3" font-size="6.6" text-anchor="middle" font-weight="bold" fill="#111">*</text><line x1="217.6" y1="498.6" x2="221" y2="498.6" stroke="#222" stroke-width="1.1" /><line x1="246.5" y1="580.3" x2="246.5" y2="583" stroke="#555" stroke-width="0.8" /><text transform="translate(250.8,587.6) rotate(-45)" font-size="8" text-anchor="end">Control</text><text transform="translate(273.9,587.6) rotate(-45)" font-size="8" text-anchor="end">SOX10 KO</text><text transform="translate(218.8,541.7) rotate(-90)" font-size="10.2" font-weight="bold" text-anchor="middle" fill="#111">%&#160; SOX10<tspan font-size="6" dy="-4">+</tspan><tspan dy="4">cells</tspan></text><line x1="305.1" y1="503.6" x2="305.1" y2="580.3" stroke="#555" stroke-width="0.8" /><line x1="302.8" y1="580.3" x2="305.1" y2="580.3" stroke="#555" stroke-width="0.8" /><text x="302.8" y="583" font-size="7.6" text-anchor="end">0.0</text><line x1="302.8" y1="561.12" x2="305.1" y2="561.12" stroke="#555" stroke-width="0.8" /><text x="302.8" y="563.83" font-size="7.6" text-anchor="end">0.5</text><line x1="302.8" y1="541.95" x2="305.1" y2="541.95" stroke="#555" stroke-width="0.8" /><text x="302.8" y="544.65" font-size="7.6" text-anchor="end">1.0</text><line x1="302.8" y1="522.77" x2="305.1" y2="522.77" stroke="#555" stroke-width="0.8" /><text x="302.8" y="525.48" font-size="7.6" text-anchor="end">1.5</text><line x1="302.8" y1="503.6" x2="305.1" y2="503.6" stroke="#555" stroke-width="0.8" /><text x="302.8" y="506.3" font-size="7.6" text-anchor="end">2.0</text><line x1="305.1" y1="580.3" x2="354.8" y2="580.3" stroke="#555" stroke-width="0.8" /><circle cx="320.5" cy="514" r="1.9" fill="#8a8a8a"/><circle cx="320.5" cy="519.7" r="1.9" fill="#8a8a8a"/><circle cx="320.5" cy="529.7" r="1.9" fill="#8a8a8a"/><line x1="313.1" y1="521.1" x2="327.6" y2="521.1" stroke="#333" stroke-width="0.9" /><line x1="320.5" y1="516.2" x2="320.5" y2="526" stroke="#333" stroke-width="0.8" /><line x1="318.8" y1="516.2" x2="322.2" y2="516.2" stroke="#333" stroke-width="0.8" /><line x1="318.8" y1="526" x2="322.2" y2="526" stroke="#333" stroke-width="0.8" /><circle cx="338.2" cy="580.3" r="1.9" fill="#e8413f"/><circle cx="342.8" cy="580.3" r="1.9" fill="#e8413f"/><circle cx="347.4" cy="580.3" r="1.9" fill="#e8413f"/><path d="M319.1 505V501.6H342.8V505" fill="none" stroke="#333" stroke-width="0.8"/><text x="329.5" y="501.3" font-size="6.6" text-anchor="middle" font-weight="bold" fill="#111">*</text><text x="332.5" y="501.3" font-size="6.6" text-anchor="middle" font-weight="bold" fill="#111">*</text><line x1="320.5" y1="580.3" x2="320.5" y2="583" stroke="#555" stroke-width="0.8" /><text transform="translate(324.8,587.6) rotate(-45)" font-size="8" text-anchor="end">Control</text><text transform="translate(348.2,587.6) rotate(-45)" font-size="8" text-anchor="end">SOX10 KO</text><text transform="translate(289,537) rotate(-90)" font-size="10" font-weight="bold" text-anchor="middle" fill="#111">% O4<tspan font-size="6" dy="-4">+</tspan><tspan dy="4"> cells</tspan></text></svg></body></html>
